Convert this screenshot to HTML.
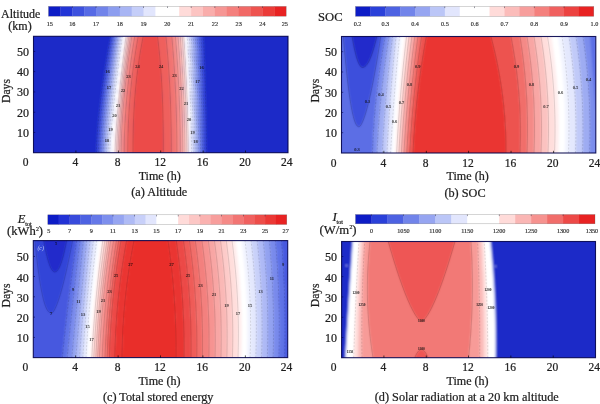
<!DOCTYPE html>
<html><head><meta charset="utf-8"><title>Contour plots</title>
<style>
html,body{margin:0;padding:0;background:#fff;}
body{width:600px;height:404px;overflow:hidden;}
svg{display:block;font-family:"Liberation Serif",serif;fill:#202020;}
.t text{stroke:#222;stroke-width:0.22px;}
</style></head><body>
<svg width="600" height="404" viewBox="0 0 600 404">
<defs>
<filter id="soft" x="-2%" y="-2%" width="104%" height="104%"><feGaussianBlur stdDeviation="0.95"/></filter>
<filter id="lsoft" x="-20%" y="-20%" width="140%" height="140%"><feGaussianBlur stdDeviation="0.3"/></filter>
<filter id="tsoft" x="-5%" y="-5%" width="110%" height="110%"><feGaussianBlur stdDeviation="0.28"/></filter>
<clipPath id="ca"><rect x="33.5" y="36.3" width="254.5" height="116.4"/></clipPath>
<clipPath id="cb"><rect x="341.5" y="36.5" width="254.3" height="116.5"/></clipPath>
<clipPath id="cc"><rect x="33.3" y="240.6" width="254.4" height="117"/></clipPath>
<clipPath id="cd"><rect x="341.6" y="241.5" width="253.9" height="116.2"/></clipPath>
</defs>
<rect width="600" height="404" fill="#fff"/>

<g clip-path="url(#ca)"><g filter="url(#soft)">
<rect x="31.50" y="34.30" width="258.50" height="120.40" fill="#1b2bc8"/>
<path d="M30.50 155.70L30.50 152.70L30.50 147.85L30.50 143.00L30.50 138.15L30.50 133.30L30.50 128.45L30.50 123.60L30.50 118.75L30.50 113.90L30.50 109.05L30.50 104.20L30.50 99.35L30.50 94.50L30.50 89.65L30.50 84.80L30.50 79.95L30.50 75.10L30.50 70.25L30.50 65.40L30.50 60.55L30.50 55.70L30.50 50.85L30.50 46.00L30.50 41.15L30.50 36.30L30.50 33.30L111.01 33.30L111.01 36.30L110.10 41.15L109.21 46.00L108.35 50.85L107.50 55.70L106.68 60.55L105.89 65.40L105.11 70.25L104.36 75.10L103.64 79.95L102.94 84.80L102.27 89.65L101.63 94.50L101.01 99.35L100.43 104.20L99.88 109.05L99.36 113.90L98.87 118.75L98.42 123.60L98.02 128.45L97.65 133.30L97.33 138.15L97.07 143.00L96.87 147.85L96.76 152.70L96.76 155.70Z" fill="#1b2bc8" />
<path d="M96.41 155.70L96.41 152.70L96.52 147.85L96.72 143.00L96.98 138.15L97.30 133.30L97.67 128.45L98.07 123.60L98.52 118.75L99.01 113.90L99.53 109.05L100.08 104.20L100.66 99.35L101.28 94.50L101.92 89.65L102.59 84.80L103.29 79.95L104.01 75.10L104.76 70.25L105.54 65.40L106.33 60.55L107.15 55.70L108.00 50.85L108.86 46.00L109.75 41.15L110.66 36.30L110.66 33.30L112.76 33.30L112.76 36.30L111.89 41.15L111.03 46.00L110.19 50.85L109.38 55.70L108.58 60.55L107.81 65.40L107.05 70.25L106.33 75.10L105.62 79.95L104.94 84.80L104.28 89.65L103.65 94.50L103.04 99.35L102.47 104.20L101.92 109.05L101.40 113.90L100.92 118.75L100.47 123.60L100.06 128.45L99.68 133.30L99.36 138.15L99.08 143.00L98.87 147.85L98.76 152.70L98.76 155.70Z" fill="#3546d9" />
<path d="M98.41 155.70L98.41 152.70L98.52 147.85L98.73 143.00L99.01 138.15L99.33 133.30L99.71 128.45L100.12 123.60L100.57 118.75L101.05 113.90L101.57 109.05L102.12 104.20L102.69 99.35L103.30 94.50L103.93 89.65L104.59 84.80L105.27 79.95L105.98 75.10L106.70 70.25L107.46 65.40L108.23 60.55L109.03 55.70L109.84 50.85L110.68 46.00L111.54 41.15L112.41 36.30L112.41 33.30L114.17 33.30L114.17 36.30L113.33 41.15L112.50 46.00L111.69 50.85L110.90 55.70L110.12 60.55L109.37 65.40L108.64 70.25L107.92 75.10L107.23 79.95L106.56 84.80L105.92 89.65L105.30 94.50L104.70 99.35L104.13 104.20L103.58 109.05L103.07 113.90L102.58 118.75L102.13 123.60L101.71 128.45L101.34 133.30L101.00 138.15L100.72 143.00L100.50 147.85L100.38 152.70L100.38 155.70Z" fill="#4c5fe1" />
<path d="M100.03 155.70L100.03 152.70L100.15 147.85L100.37 143.00L100.65 138.15L100.99 133.30L101.36 128.45L101.78 123.60L102.23 118.75L102.72 113.90L103.23 109.05L103.78 104.20L104.35 99.35L104.95 94.50L105.57 89.65L106.21 84.80L106.88 79.95L107.57 75.10L108.29 70.25L109.02 65.40L109.77 60.55L110.55 55.70L111.34 50.85L112.15 46.00L112.98 41.15L113.83 36.30L113.83 33.30L115.59 33.30L115.59 36.30L114.77 41.15L113.97 46.00L113.18 50.85L112.42 55.70L111.67 60.55L110.93 65.40L110.22 70.25L109.52 75.10L108.85 79.95L108.19 84.80L107.56 89.65L106.94 94.50L106.35 99.35L105.79 104.20L105.25 109.05L104.73 113.90L104.25 118.75L103.79 123.60L103.37 128.45L102.99 133.30L102.65 138.15L102.35 143.00L102.12 147.85L101.99 152.70L101.99 155.70Z" fill="#6476e7" />
<path d="M101.64 155.70L101.64 152.70L101.77 147.85L102.00 143.00L102.30 138.15L102.64 133.30L103.02 128.45L103.44 123.60L103.90 118.75L104.38 113.90L104.90 109.05L105.44 104.20L106.00 99.35L106.59 94.50L107.21 89.65L107.84 84.80L108.50 79.95L109.17 75.10L109.87 70.25L110.58 65.40L111.32 60.55L112.07 55.70L112.83 50.85L113.62 46.00L114.42 41.15L115.24 36.30L115.24 33.30L117.00 33.30L117.00 36.30L116.21 41.15L115.44 46.00L114.68 50.85L113.93 55.70L113.21 60.55L112.49 65.40L111.80 70.25L111.12 75.10L110.46 79.95L109.82 84.80L109.19 89.65L108.59 94.50L108.01 99.35L107.45 104.20L106.91 109.05L106.40 113.90L105.92 118.75L105.46 123.60L105.03 128.45L104.64 133.30L104.29 138.15L103.99 143.00L103.74 147.85L103.60 152.70L103.60 155.70Z" fill="#7c8dec" />
<path d="M103.25 155.70L103.25 152.70L103.39 147.85L103.64 143.00L103.94 138.15L104.29 133.30L104.68 128.45L105.11 123.60L105.57 118.75L106.05 113.90L106.56 109.05L107.10 104.20L107.66 99.35L108.24 94.50L108.84 89.65L109.47 84.80L110.11 79.95L110.77 75.10L111.45 70.25L112.14 65.40L112.86 60.55L113.58 55.70L114.33 50.85L115.09 46.00L115.86 41.15L116.65 36.30L116.65 33.30L118.41 33.30L118.41 36.30L117.65 41.15L116.90 46.00L116.17 50.85L115.45 55.70L114.74 60.55L114.05 65.40L113.38 70.25L112.71 75.10L112.07 79.95L111.44 84.80L110.83 89.65L110.24 94.50L109.66 99.35L109.11 104.20L108.58 109.05L108.07 113.90L107.58 118.75L107.12 123.60L106.70 128.45L106.30 133.30L105.94 138.15L105.63 143.00L105.37 147.85L105.21 152.70L105.21 155.70Z" fill="#96a4f1" />
<path d="M104.86 155.70L104.86 152.70L105.02 147.85L105.28 143.00L105.59 138.15L105.95 133.30L106.35 128.45L106.77 123.60L107.23 118.75L107.72 113.90L108.23 109.05L108.76 104.20L109.31 99.35L109.89 94.50L110.48 89.65L111.09 84.80L111.72 79.95L112.36 75.10L113.03 70.25L113.70 65.40L114.39 60.55L115.10 55.70L115.82 50.85L116.55 46.00L117.30 41.15L118.06 36.30L118.06 33.30L119.82 33.30L119.82 36.30L119.09 41.15L118.37 46.00L117.66 50.85L116.97 55.70L116.28 60.55L115.61 65.40L114.95 70.25L114.31 75.10L113.68 79.95L113.06 84.80L112.46 89.65L111.88 94.50L111.32 99.35L110.77 104.20L110.24 109.05L109.73 113.90L109.25 118.75L108.79 123.60L108.36 128.45L107.96 133.30L107.59 138.15L107.27 143.00L107.00 147.85L106.82 152.70L106.82 155.70Z" fill="#afbbf5" />
<path d="M106.47 155.70L106.47 152.70L106.65 147.85L106.92 143.00L107.24 138.15L107.61 133.30L108.01 128.45L108.44 123.60L108.90 118.75L109.38 113.90L109.89 109.05L110.42 104.20L110.97 99.35L111.53 94.50L112.11 89.65L112.71 84.80L113.33 79.95L113.96 75.10L114.60 70.25L115.26 65.40L115.93 60.55L116.62 55.70L117.31 50.85L118.02 46.00L118.74 41.15L119.47 36.30L119.47 33.30L121.24 33.30L121.24 36.30L120.53 41.15L119.84 46.00L119.15 50.85L118.48 55.70L117.82 60.55L117.16 65.40L116.53 70.25L115.90 75.10L115.28 79.95L114.68 84.80L114.10 89.65L113.52 94.50L112.97 99.35L112.43 104.20L111.91 109.05L111.40 113.90L110.92 118.75L110.46 123.60L110.02 128.45L109.62 133.30L109.24 138.15L108.91 143.00L108.62 147.85L108.44 152.70L108.44 155.70Z" fill="#cad2f9" />
<path d="M108.09 155.70L108.09 152.70L108.27 147.85L108.56 143.00L108.89 138.15L109.27 133.30L109.67 128.45L110.11 123.60L110.57 118.75L111.05 113.90L111.56 109.05L112.08 104.20L112.62 99.35L113.17 94.50L113.75 89.65L114.33 84.80L114.93 79.95L115.55 75.10L116.18 70.25L116.81 65.40L117.47 60.55L118.13 55.70L118.80 50.85L119.49 46.00L120.18 41.15L120.89 36.30L120.89 33.30L122.65 33.30L122.65 36.30L121.97 41.15L121.30 46.00L120.64 50.85L119.99 55.70L119.35 60.55L118.72 65.40L118.10 70.25L117.49 75.10L116.89 79.95L116.30 84.80L115.73 89.65L115.17 94.50L114.62 99.35L114.09 104.20L113.57 109.05L113.07 113.90L112.59 118.75L112.13 123.60L111.69 128.45L111.28 133.30L110.89 138.15L110.55 143.00L110.25 147.85L110.05 152.70L110.05 155.70Z" fill="#e4e8fd" />
<path d="M109.70 155.70L109.70 152.70L109.90 147.85L110.20 143.00L110.54 138.15L110.93 133.30L111.34 128.45L111.78 123.60L112.24 118.75L112.72 113.90L113.22 109.05L113.74 104.20L114.27 99.35L114.82 94.50L115.38 89.65L115.95 84.80L116.54 79.95L117.14 75.10L117.75 70.25L118.37 65.40L119.00 60.55L119.64 55.70L120.29 50.85L120.95 46.00L121.62 41.15L122.30 36.30L122.30 33.30L123.69 33.30L123.69 36.30L123.02 41.15L122.36 46.00L121.72 50.85L121.08 55.70L120.45 60.55L119.83 65.40L119.23 70.25L118.64 75.10L118.05 79.95L117.48 84.80L116.93 89.65L116.39 94.50L115.86 99.35L115.35 104.20L114.85 109.05L114.37 113.90L113.91 118.75L113.47 123.60L113.06 128.45L112.67 133.30L112.31 138.15L111.99 143.00L111.72 147.85L111.53 152.70L111.53 155.70Z" fill="#f2f4fe" />
<path d="M111.18 155.70L111.18 152.70L111.37 147.85L111.64 143.00L111.96 138.15L112.32 133.30L112.71 128.45L113.12 123.60L113.56 118.75L114.02 113.90L114.50 109.05L115.00 104.20L115.51 99.35L116.04 94.50L116.58 89.65L117.13 84.80L117.70 79.95L118.29 75.10L118.88 70.25L119.48 65.40L120.10 60.55L120.73 55.70L121.37 50.85L122.01 46.00L122.67 41.15L123.34 36.30L123.34 33.30L125.31 33.30L125.31 36.30L124.67 41.15L124.03 46.00L123.40 50.85L122.79 55.70L122.18 60.55L121.59 65.40L121.01 70.25L120.44 75.10L119.88 79.95L119.34 84.80L118.81 89.65L118.30 94.50L117.80 99.35L117.32 104.20L116.86 109.05L116.41 113.90L115.99 118.75L115.59 123.60L115.21 128.45L114.85 133.30L114.53 138.15L114.25 143.00L114.02 147.85L113.87 152.70L113.87 155.70Z" fill="#ffffff" />
<path d="M113.52 155.70L113.52 152.70L113.67 147.85L113.90 143.00L114.18 138.15L114.50 133.30L114.86 128.45L115.24 123.60L115.64 118.75L116.06 113.90L116.51 109.05L116.97 104.20L117.45 99.35L117.95 94.50L118.46 89.65L118.99 84.80L119.53 79.95L120.09 75.10L120.66 70.25L121.24 65.40L121.83 60.55L122.44 55.70L123.05 50.85L123.68 46.00L124.32 41.15L124.96 36.30L124.96 33.30L126.35 33.30L126.35 36.30L125.71 41.15L125.09 46.00L124.47 50.85L123.87 55.70L123.28 60.55L122.70 65.40L122.14 70.25L121.59 75.10L121.05 79.95L120.52 84.80L120.01 89.65L119.52 94.50L119.04 99.35L118.58 104.20L118.14 109.05L117.71 113.90L117.31 118.75L116.93 123.60L116.57 128.45L116.25 133.30L115.95 138.15L115.69 143.00L115.48 147.85L115.35 152.70L115.35 155.70Z" fill="#ffeeee" />
<path d="M115.00 155.70L115.00 152.70L115.13 147.85L115.34 143.00L115.60 138.15L115.90 133.30L116.22 128.45L116.58 123.60L116.96 118.75L117.36 113.90L117.79 109.05L118.23 104.20L118.69 99.35L119.17 94.50L119.66 89.65L120.17 84.80L120.70 79.95L121.24 75.10L121.79 70.25L122.35 65.40L122.93 60.55L123.52 55.70L124.12 50.85L124.74 46.00L125.36 41.15L126.00 36.30L126.00 33.30L127.81 33.30L127.81 36.30L127.15 41.15L126.49 46.00L125.86 50.85L125.23 55.70L124.62 60.55L124.03 65.40L123.45 70.25L122.89 75.10L122.34 79.95L121.81 84.80L121.30 89.65L120.81 94.50L120.33 99.35L119.88 104.20L119.45 109.05L119.04 113.90L118.65 118.75L118.29 123.60L117.96 128.45L117.66 133.30L117.39 138.15L117.16 143.00L116.98 147.85L116.88 152.70L116.88 155.70Z" fill="#ffdedc" />
<path d="M116.53 155.70L116.53 152.70L116.63 147.85L116.81 143.00L117.04 138.15L117.31 133.30L117.61 128.45L117.94 123.60L118.30 118.75L118.69 113.90L119.10 109.05L119.53 104.20L119.98 99.35L120.46 94.50L120.95 89.65L121.46 84.80L121.99 79.95L122.54 75.10L123.10 70.25L123.68 65.40L124.27 60.55L124.88 55.70L125.51 50.85L126.14 46.00L126.80 41.15L127.46 36.30L127.46 33.30L129.27 33.30L129.27 36.30L128.58 41.15L127.90 46.00L127.24 50.85L126.60 55.70L125.97 60.55L125.36 65.40L124.77 70.25L124.20 75.10L123.65 79.95L123.11 84.80L122.60 89.65L122.11 94.50L121.64 99.35L121.20 104.20L120.78 109.05L120.38 113.90L120.01 118.75L119.67 123.60L119.36 128.45L119.08 133.30L118.84 138.15L118.64 143.00L118.49 147.85L118.41 152.70L118.41 155.70Z" fill="#fcc9c7" />
<path d="M118.06 155.70L118.06 152.70L118.14 147.85L118.29 143.00L118.49 138.15L118.73 133.30L119.01 128.45L119.32 123.60L119.66 118.75L120.03 113.90L120.43 109.05L120.85 104.20L121.29 99.35L121.76 94.50L122.25 89.65L122.76 84.80L123.30 79.95L123.85 75.10L124.42 70.25L125.01 65.40L125.62 60.55L126.25 55.70L126.89 50.85L127.55 46.00L128.23 41.15L128.92 36.30L128.92 33.30L130.74 33.30L130.74 36.30L130.01 41.15L129.31 46.00L128.62 50.85L127.96 55.70L127.32 60.55L126.70 65.40L126.09 70.25L125.52 75.10L124.96 79.95L124.43 84.80L123.92 89.65L123.43 94.50L122.97 99.35L122.53 104.20L122.12 109.05L121.74 113.90L121.39 118.75L121.07 123.60L120.78 128.45L120.52 133.30L120.30 138.15L120.13 143.00L120.00 147.85L119.94 152.70L119.94 155.70Z" fill="#fab4b2" />
<path d="M119.59 155.70L119.59 152.70L119.65 147.85L119.78 143.00L119.95 138.15L120.17 133.30L120.43 128.45L120.72 123.60L121.04 118.75L121.39 113.90L121.77 109.05L122.18 104.20L122.62 99.35L123.08 94.50L123.57 89.65L124.08 84.80L124.61 79.95L125.17 75.10L125.74 70.25L126.35 65.40L126.97 60.55L127.61 55.70L128.27 50.85L128.96 46.00L129.66 41.15L130.39 36.30L130.39 33.30L132.20 33.30L132.20 36.30L131.45 41.15L130.72 46.00L130.01 50.85L129.33 55.70L128.67 60.55L128.04 65.40L127.43 70.25L126.84 75.10L126.28 79.95L125.75 84.80L125.24 89.65L124.76 94.50L124.30 99.35L123.88 104.20L123.48 109.05L123.12 113.90L122.78 118.75L122.48 123.60L122.21 128.45L121.97 133.30L121.78 138.15L121.62 143.00L121.52 147.85L121.47 152.70L121.47 155.70Z" fill="#f79f9d" />
<path d="M121.12 155.70L121.12 152.70L121.17 147.85L121.27 143.00L121.43 138.15L121.62 133.30L121.86 128.45L122.13 123.60L122.43 118.75L122.77 113.90L123.13 109.05L123.53 104.20L123.95 99.35L124.41 94.50L124.89 89.65L125.40 84.80L125.93 79.95L126.49 75.10L127.08 70.25L127.69 65.40L128.32 60.55L128.98 55.70L129.66 50.85L130.37 46.00L131.10 41.15L131.85 36.30L131.85 33.30L135.12 33.30L135.12 36.30L134.32 41.15L133.54 46.00L132.79 50.85L132.08 55.70L131.39 60.55L130.73 65.40L130.11 70.25L129.51 75.10L128.95 79.95L128.42 84.80L127.92 89.65L127.45 94.50L127.01 99.35L126.61 104.20L126.24 109.05L125.90 113.90L125.60 118.75L125.33 123.60L125.10 128.45L124.91 133.30L124.75 138.15L124.63 143.00L124.56 147.85L124.53 152.70L124.53 155.70Z" fill="#f48a87" />
<path d="M124.18 155.70L124.18 152.70L124.21 147.85L124.28 143.00L124.40 138.15L124.56 133.30L124.75 128.45L124.98 123.60L125.25 118.75L125.55 113.90L125.89 109.05L126.26 104.20L126.66 99.35L127.10 94.50L127.57 89.65L128.07 84.80L128.60 79.95L129.16 75.10L129.76 70.25L130.38 65.40L131.04 60.55L131.73 55.70L132.44 50.85L133.19 46.00L133.97 41.15L134.77 36.30L134.77 33.30L138.56 33.30L138.56 36.30L137.69 41.15L136.87 46.00L136.08 50.85L135.32 55.70L134.61 60.55L133.93 65.40L133.29 70.25L132.69 75.10L132.13 79.95L131.61 84.80L131.12 89.65L130.67 94.50L130.26 99.35L129.88 104.20L129.54 109.05L129.24 113.90L128.98 118.75L128.75 123.60L128.56 128.45L128.40 133.30L128.28 138.15L128.20 143.00L128.15 147.85L128.13 152.70L128.13 155.70Z" fill="#f27572" />
<path d="M127.78 155.70L127.78 152.70L127.80 147.85L127.85 143.00L127.93 138.15L128.05 133.30L128.21 128.45L128.40 123.60L128.63 118.75L128.89 113.90L129.19 109.05L129.53 104.20L129.91 99.35L130.32 94.50L130.77 89.65L131.26 84.80L131.78 79.95L132.34 75.10L132.94 70.25L133.58 65.40L134.26 60.55L134.97 55.70L135.73 50.85L136.52 46.00L137.34 41.15L138.21 36.30L138.21 33.30L143.55 33.30L143.55 36.30L142.60 41.15L141.70 46.00L140.85 50.85L140.06 55.70L139.31 60.55L138.61 65.40L137.96 70.25L137.36 75.10L136.81 79.95L136.30 84.80L135.84 89.65L135.42 94.50L135.05 99.35L134.71 104.20L134.42 109.05L134.17 113.90L133.95 118.75L133.77 123.60L133.63 128.45L133.52 133.30L133.44 138.15L133.38 143.00L133.36 147.85L133.35 152.70L133.35 155.70Z" fill="#ef605d" />
<path d="M133.00 155.70L133.00 152.70L133.01 147.85L133.03 143.00L133.09 138.15L133.17 133.30L133.28 128.45L133.42 123.60L133.60 118.75L133.82 113.90L134.07 109.05L134.36 104.20L134.70 99.35L135.07 94.50L135.49 89.65L135.95 84.80L136.46 79.95L137.01 75.10L137.61 70.25L138.26 65.40L138.96 60.55L139.71 55.70L140.50 50.85L141.35 46.00L142.25 41.15L143.20 36.30L143.20 33.30L157.85 33.30L157.85 36.30L158.44 41.15L158.98 46.00L159.50 50.85L159.97 55.70L160.42 60.55L160.82 65.40L161.20 70.25L161.55 75.10L161.86 79.95L162.14 84.80L162.40 89.65L162.62 94.50L162.83 99.35L163.00 104.20L163.15 109.05L163.28 113.90L163.38 118.75L163.47 123.60L163.54 128.45L163.58 133.30L163.62 138.15L163.64 143.00L163.65 147.85L163.65 152.70L163.65 155.70Z" fill="#ec4b48" />
<path d="M163.30 155.70L163.30 152.70L163.30 147.85L163.29 143.00L163.27 138.15L163.23 133.30L163.19 128.45L163.12 123.60L163.03 118.75L162.93 113.90L162.80 109.05L162.65 104.20L162.48 99.35L162.27 94.50L162.05 89.65L161.79 84.80L161.51 79.95L161.20 75.10L160.85 70.25L160.47 65.40L160.07 60.55L159.62 55.70L159.15 50.85L158.63 46.00L158.09 41.15L157.50 36.30L157.50 33.30L166.27 33.30L166.27 36.30L166.76 41.15L167.22 46.00L167.66 50.85L168.07 55.70L168.46 60.55L168.83 65.40L169.17 70.25L169.48 75.10L169.77 79.95L170.04 84.80L170.29 89.65L170.51 94.50L170.72 99.35L170.90 104.20L171.05 109.05L171.19 113.90L171.31 118.75L171.41 123.60L171.49 128.45L171.55 133.30L171.60 138.15L171.63 143.00L171.65 147.85L171.65 152.70L171.65 155.70Z" fill="#ef605d" />
<path d="M171.30 155.70L171.30 152.70L171.30 147.85L171.28 143.00L171.25 138.15L171.20 133.30L171.14 128.45L171.06 123.60L170.96 118.75L170.84 113.90L170.70 109.05L170.55 104.20L170.37 99.35L170.16 94.50L169.94 89.65L169.69 84.80L169.42 79.95L169.13 75.10L168.82 70.25L168.48 65.40L168.11 60.55L167.72 55.70L167.31 50.85L166.87 46.00L166.41 41.15L165.92 36.30L165.92 33.30L172.16 33.30L172.16 36.30L172.59 41.15L172.99 46.00L173.38 50.85L173.75 55.70L174.11 60.55L174.44 65.40L174.75 70.25L175.05 75.10L175.32 79.95L175.58 84.80L175.81 89.65L176.03 94.50L176.23 99.35L176.41 104.20L176.58 109.05L176.72 113.90L176.85 118.75L176.96 123.60L177.05 128.45L177.12 133.30L177.18 138.15L177.22 143.00L177.24 147.85L177.25 152.70L177.25 155.70Z" fill="#f27572" />
<path d="M176.90 155.70L176.90 152.70L176.89 147.85L176.87 143.00L176.83 138.15L176.77 133.30L176.70 128.45L176.61 123.60L176.50 118.75L176.37 113.90L176.23 109.05L176.06 104.20L175.88 99.35L175.68 94.50L175.46 89.65L175.23 84.80L174.97 79.95L174.70 75.10L174.40 70.25L174.09 65.40L173.76 60.55L173.40 55.70L173.03 50.85L172.64 46.00L172.24 41.15L171.81 36.30L171.81 33.30L175.73 33.30L175.73 36.30L176.13 41.15L176.50 46.00L176.86 50.85L177.21 55.70L177.54 60.55L177.85 65.40L178.15 70.25L178.43 75.10L178.69 79.95L178.94 84.80L179.17 89.65L179.38 94.50L179.58 99.35L179.76 104.20L179.93 109.05L180.08 113.90L180.21 118.75L180.32 123.60L180.42 128.45L180.50 133.30L180.57 138.15L180.61 143.00L180.64 147.85L180.65 152.70L180.65 155.70Z" fill="#f48a87" />
<path d="M180.30 155.70L180.30 152.70L180.29 147.85L180.26 143.00L180.22 138.15L180.15 133.30L180.07 128.45L179.97 123.60L179.86 118.75L179.73 113.90L179.58 109.05L179.41 104.20L179.23 99.35L179.03 94.50L178.82 89.65L178.59 84.80L178.34 79.95L178.08 75.10L177.80 70.25L177.50 65.40L177.19 60.55L176.86 55.70L176.51 50.85L176.15 46.00L175.78 41.15L175.38 36.30L175.38 33.30L178.36 33.30L178.36 36.30L178.73 41.15L179.08 46.00L179.42 50.85L179.75 55.70L180.06 60.55L180.36 65.40L180.64 70.25L180.91 75.10L181.17 79.95L181.41 84.80L181.63 89.65L181.85 94.50L182.04 99.35L182.22 104.20L182.39 109.05L182.54 113.90L182.68 118.75L182.79 123.60L182.90 128.45L182.98 133.30L183.05 138.15L183.10 143.00L183.14 147.85L183.15 152.70L183.15 155.70Z" fill="#f79f9d" />
<path d="M182.80 155.70L182.80 152.70L182.79 147.85L182.75 143.00L182.70 138.15L182.63 133.30L182.55 128.45L182.44 123.60L182.33 118.75L182.19 113.90L182.04 109.05L181.87 104.20L181.69 99.35L181.50 94.50L181.28 89.65L181.06 84.80L180.82 79.95L180.56 75.10L180.29 70.25L180.01 65.40L179.71 60.55L179.40 55.70L179.07 50.85L178.73 46.00L178.38 41.15L178.01 36.30L178.01 33.30L180.60 33.30L180.60 36.30L180.95 41.15L181.28 46.00L181.60 50.85L181.91 55.70L182.21 60.55L182.50 65.40L182.77 70.25L183.03 75.10L183.28 79.95L183.51 84.80L183.73 89.65L183.94 94.50L184.13 99.35L184.31 104.20L184.48 109.05L184.63 113.90L184.77 118.75L184.89 123.60L185.00 128.45L185.09 133.30L185.17 138.15L185.22 143.00L185.26 147.85L185.28 152.70L185.28 155.70Z" fill="#fab4b2" />
<path d="M184.93 155.70L184.93 152.70L184.91 147.85L184.87 143.00L184.82 138.15L184.74 133.30L184.65 128.45L184.54 123.60L184.42 118.75L184.28 113.90L184.13 109.05L183.96 104.20L183.78 99.35L183.59 94.50L183.38 89.65L183.16 84.80L182.93 79.95L182.68 75.10L182.42 70.25L182.15 65.40L181.86 60.55L181.56 55.70L181.25 50.85L180.93 46.00L180.60 41.15L180.25 36.30L180.25 33.30L182.57 33.30L182.57 36.30L182.90 41.15L183.22 46.00L183.53 50.85L183.82 55.70L184.11 60.55L184.38 65.40L184.64 70.25L184.90 75.10L185.14 79.95L185.37 84.80L185.58 89.65L185.79 94.50L185.98 99.35L186.16 104.20L186.33 109.05L186.48 113.90L186.62 118.75L186.74 123.60L186.85 128.45L186.95 133.30L187.03 138.15L187.09 143.00L187.13 147.85L187.15 152.70L187.15 155.70Z" fill="#fcc9c7" />
<path d="M186.80 155.70L186.80 152.70L186.78 147.85L186.74 143.00L186.68 138.15L186.60 133.30L186.50 128.45L186.39 123.60L186.27 118.75L186.13 113.90L185.98 109.05L185.81 104.20L185.63 99.35L185.44 94.50L185.23 89.65L185.02 84.80L184.79 79.95L184.55 75.10L184.29 70.25L184.03 65.40L183.76 60.55L183.47 55.70L183.18 50.85L182.87 46.00L182.55 41.15L182.22 36.30L182.22 33.30L184.15 33.30L184.15 36.30L184.46 41.15L184.77 46.00L185.06 50.85L185.35 55.70L185.62 60.55L185.89 65.40L186.15 70.25L186.39 75.10L186.63 79.95L186.85 84.80L187.06 89.65L187.26 94.50L187.46 99.35L187.63 104.20L187.80 109.05L187.95 113.90L188.10 118.75L188.22 123.60L188.34 128.45L188.44 133.30L188.52 138.15L188.58 143.00L188.63 147.85L188.65 152.70L188.65 155.70Z" fill="#ffdedc" />
<path d="M188.30 155.70L188.30 152.70L188.28 147.85L188.23 143.00L188.17 138.15L188.09 133.30L187.99 128.45L187.87 123.60L187.75 118.75L187.60 113.90L187.45 109.05L187.28 104.20L187.11 99.35L186.91 94.50L186.71 89.65L186.50 84.80L186.28 79.95L186.04 75.10L185.80 70.25L185.54 65.40L185.27 60.55L185.00 55.70L184.71 50.85L184.42 46.00L184.11 41.15L183.80 36.30L183.80 33.30L185.16 33.30L185.16 36.30L185.46 41.15L185.76 46.00L186.05 50.85L186.33 55.70L186.60 60.55L186.86 65.40L187.10 70.25L187.34 75.10L187.57 79.95L187.79 84.80L188.00 89.65L188.20 94.50L188.38 99.35L188.56 104.20L188.72 109.05L188.87 113.90L189.01 118.75L189.13 123.60L189.24 128.45L189.34 133.30L189.42 138.15L189.48 143.00L189.53 147.85L189.55 152.70L189.55 155.70Z" fill="#ffeeee" />
<path d="M189.20 155.70L189.20 152.70L189.18 147.85L189.13 143.00L189.07 138.15L188.99 133.30L188.89 128.45L188.78 123.60L188.66 118.75L188.52 113.90L188.37 109.05L188.21 104.20L188.03 99.35L187.85 94.50L187.65 89.65L187.44 84.80L187.22 79.95L186.99 75.10L186.75 70.25L186.51 65.40L186.25 60.55L185.98 55.70L185.70 50.85L185.41 46.00L185.11 41.15L184.81 36.30L184.81 33.30L186.74 33.30L186.74 36.30L187.04 41.15L187.32 46.00L187.60 50.85L187.86 55.70L188.12 60.55L188.37 65.40L188.61 70.25L188.84 75.10L189.06 79.95L189.27 84.80L189.47 89.65L189.66 94.50L189.84 99.35L190.00 104.20L190.16 109.05L190.30 113.90L190.44 118.75L190.55 123.60L190.66 128.45L190.75 133.30L190.83 138.15L190.89 143.00L190.94 147.85L190.95 152.70L190.95 155.70Z" fill="#ffffff" />
<path d="M190.60 155.70L190.60 152.70L190.59 147.85L190.54 143.00L190.48 138.15L190.40 133.30L190.31 128.45L190.20 123.60L190.09 118.75L189.95 113.90L189.81 109.05L189.65 104.20L189.49 99.35L189.31 94.50L189.12 89.65L188.92 84.80L188.71 79.95L188.49 75.10L188.26 70.25L188.02 65.40L187.77 60.55L187.51 55.70L187.25 50.85L186.97 46.00L186.69 41.15L186.39 36.30L186.39 33.30L187.75 33.30L187.75 36.30L188.04 41.15L188.31 46.00L188.58 50.85L188.84 55.70L189.09 60.55L189.34 65.40L189.57 70.25L189.79 75.10L190.01 79.95L190.21 84.80L190.40 89.65L190.59 94.50L190.76 99.35L190.92 104.20L191.08 109.05L191.22 113.90L191.35 118.75L191.46 123.60L191.57 128.45L191.66 133.30L191.73 138.15L191.79 143.00L191.83 147.85L191.85 152.70L191.85 155.70Z" fill="#f2f4fe" />
<path d="M191.50 155.70L191.50 152.70L191.48 147.85L191.44 143.00L191.38 138.15L191.31 133.30L191.22 128.45L191.11 123.60L191.00 118.75L190.87 113.90L190.73 109.05L190.57 104.20L190.41 99.35L190.24 94.50L190.05 89.65L189.86 84.80L189.66 79.95L189.44 75.10L189.22 70.25L188.99 65.40L188.74 60.55L188.49 55.70L188.23 50.85L187.96 46.00L187.69 41.15L187.40 36.30L187.40 33.30L189.70 33.30L189.70 36.30L189.97 41.15L190.24 46.00L190.50 50.85L190.75 55.70L190.99 60.55L191.22 65.40L191.45 70.25L191.66 75.10L191.87 79.95L192.07 84.80L192.25 89.65L192.43 94.50L192.60 99.35L192.76 104.20L192.91 109.05L193.04 113.90L193.17 118.75L193.28 123.60L193.38 128.45L193.47 133.30L193.54 138.15L193.60 143.00L193.64 147.85L193.66 152.70L193.66 155.70Z" fill="#e4e8fd" />
<path d="M193.31 155.70L193.31 152.70L193.29 147.85L193.25 143.00L193.19 138.15L193.12 133.30L193.03 128.45L192.93 123.60L192.82 118.75L192.69 113.90L192.56 109.05L192.41 104.20L192.25 99.35L192.08 94.50L191.90 89.65L191.72 84.80L191.52 79.95L191.31 75.10L191.10 70.25L190.87 65.40L190.64 60.55L190.40 55.70L190.15 50.85L189.89 46.00L189.62 41.15L189.35 36.30L189.35 33.30L191.65 33.30L191.65 36.30L191.91 41.15L192.17 46.00L192.42 50.85L192.66 55.70L192.89 60.55L193.11 65.40L193.33 70.25L193.54 75.10L193.73 79.95L193.92 84.80L194.11 89.65L194.28 94.50L194.44 99.35L194.59 104.20L194.74 109.05L194.87 113.90L194.99 118.75L195.10 123.60L195.20 128.45L195.28 133.30L195.36 138.15L195.42 143.00L195.46 147.85L195.47 152.70L195.47 155.70Z" fill="#cad2f9" />
<path d="M195.12 155.70L195.12 152.70L195.11 147.85L195.07 143.00L195.01 138.15L194.93 133.30L194.85 128.45L194.75 123.60L194.64 118.75L194.52 113.90L194.39 109.05L194.24 104.20L194.09 99.35L193.93 94.50L193.76 89.65L193.57 84.80L193.38 79.95L193.19 75.10L192.98 70.25L192.76 65.40L192.54 60.55L192.31 55.70L192.07 50.85L191.82 46.00L191.56 41.15L191.30 36.30L191.30 33.30L193.60 33.30L193.60 36.30L193.85 41.15L194.10 46.00L194.33 50.85L194.56 55.70L194.79 60.55L195.00 65.40L195.21 70.25L195.41 75.10L195.60 79.95L195.78 84.80L195.96 89.65L196.12 94.50L196.28 99.35L196.43 104.20L196.57 109.05L196.69 113.90L196.81 118.75L196.92 123.60L197.02 128.45L197.10 133.30L197.17 138.15L197.23 143.00L197.27 147.85L197.29 152.70L197.29 155.70Z" fill="#afbbf5" />
<path d="M196.94 155.70L196.94 152.70L196.92 147.85L196.88 143.00L196.82 138.15L196.75 133.30L196.67 128.45L196.57 123.60L196.46 118.75L196.34 113.90L196.22 109.05L196.08 104.20L195.93 99.35L195.77 94.50L195.61 89.65L195.43 84.80L195.25 79.95L195.06 75.10L194.86 70.25L194.65 65.40L194.44 60.55L194.21 55.70L193.98 50.85L193.75 46.00L193.50 41.15L193.25 36.30L193.25 33.30L195.55 33.30L195.55 36.30L195.79 41.15L196.02 46.00L196.25 50.85L196.47 55.70L196.69 60.55L196.89 65.40L197.09 70.25L197.28 75.10L197.47 79.95L197.64 84.80L197.81 89.65L197.97 94.50L198.12 99.35L198.26 104.20L198.40 109.05L198.52 113.90L198.64 118.75L198.74 123.60L198.83 128.45L198.92 133.30L198.99 138.15L199.04 143.00L199.08 147.85L199.10 152.70L199.10 155.70Z" fill="#96a4f1" />
<path d="M198.75 155.70L198.75 152.70L198.73 147.85L198.69 143.00L198.64 138.15L198.57 133.30L198.48 128.45L198.39 123.60L198.29 118.75L198.17 113.90L198.05 109.05L197.91 104.20L197.77 99.35L197.62 94.50L197.46 89.65L197.29 84.80L197.12 79.95L196.93 75.10L196.74 70.25L196.54 65.40L196.34 60.55L196.12 55.70L195.90 50.85L195.67 46.00L195.44 41.15L195.20 36.30L195.20 33.30L197.50 33.30L197.50 36.30L197.73 41.15L197.95 46.00L198.17 50.85L198.38 55.70L198.58 60.55L198.78 65.40L198.97 70.25L199.16 75.10L199.33 79.95L199.50 84.80L199.66 89.65L199.82 94.50L199.96 99.35L200.10 104.20L200.23 109.05L200.35 113.90L200.46 118.75L200.56 123.60L200.65 128.45L200.73 133.30L200.80 138.15L200.85 143.00L200.89 147.85L200.91 152.70L200.91 155.70Z" fill="#7c8dec" />
<path d="M200.56 155.70L200.56 152.70L200.54 147.85L200.50 143.00L200.45 138.15L200.38 133.30L200.30 128.45L200.21 123.60L200.11 118.75L200.00 113.90L199.88 109.05L199.75 104.20L199.61 99.35L199.47 94.50L199.31 89.65L199.15 84.80L198.98 79.95L198.81 75.10L198.62 70.25L198.43 65.40L198.23 60.55L198.03 55.70L197.82 50.85L197.60 46.00L197.38 41.15L197.15 36.30L197.15 33.30L199.45 33.30L199.45 36.30L199.67 41.15L199.88 46.00L200.09 50.85L200.29 55.70L200.48 60.55L200.67 65.40L200.85 70.25L201.03 75.10L201.20 79.95L201.36 84.80L201.52 89.65L201.66 94.50L201.80 99.35L201.94 104.20L202.06 109.05L202.18 113.90L202.28 118.75L202.38 123.60L202.47 128.45L202.55 133.30L202.61 138.15L202.67 143.00L202.71 147.85L202.72 152.70L202.72 155.70Z" fill="#6476e7" />
<path d="M202.38 155.70L202.38 152.70L202.36 147.85L202.32 143.00L202.26 138.15L202.20 133.30L202.12 128.45L202.03 123.60L201.93 118.75L201.83 113.90L201.71 109.05L201.59 104.20L201.45 99.35L201.31 94.50L201.17 89.65L201.01 84.80L200.85 79.95L200.68 75.10L200.50 70.25L200.32 65.40L200.13 60.55L199.94 55.70L199.74 50.85L199.53 46.00L199.32 41.15L199.10 36.30L199.10 33.30L201.40 33.30L201.40 36.30L201.61 41.15L201.81 46.00L202.01 50.85L202.20 55.70L202.38 60.55L202.56 65.40L202.74 70.25L202.91 75.10L203.07 79.95L203.22 84.80L203.37 89.65L203.51 94.50L203.65 99.35L203.77 104.20L203.89 109.05L204.00 113.90L204.11 118.75L204.20 123.60L204.29 128.45L204.36 133.30L204.43 138.15L204.48 143.00L204.52 147.85L204.54 152.70L204.54 155.70Z" fill="#4c5fe1" />
<path d="M204.19 155.70L204.19 152.70L204.17 147.85L204.13 143.00L204.08 138.15L204.01 133.30L203.94 128.45L203.85 123.60L203.76 118.75L203.65 113.90L203.54 109.05L203.42 104.20L203.30 99.35L203.16 94.50L203.02 89.65L202.87 84.80L202.72 79.95L202.56 75.10L202.39 70.25L202.21 65.40L202.03 60.55L201.85 55.70L201.66 50.85L201.46 46.00L201.26 41.15L201.05 36.30L201.05 33.30L203.82 33.30L203.82 36.30L204.01 41.15L204.20 46.00L204.39 50.85L204.57 55.70L204.74 60.55L204.91 65.40L205.08 70.25L205.23 75.10L205.39 79.95L205.53 84.80L205.67 89.65L205.81 94.50L205.93 99.35L206.05 104.20L206.17 109.05L206.27 113.90L206.37 118.75L206.46 123.60L206.54 128.45L206.62 133.30L206.68 138.15L206.73 143.00L206.77 147.85L206.78 152.70L206.78 155.70Z" fill="#3546d9" />
<path d="M206.44 155.70L206.44 152.70L206.42 147.85L206.38 143.00L206.33 138.15L206.27 133.30L206.19 128.45L206.11 123.60L206.02 118.75L205.92 113.90L205.82 109.05L205.70 104.20L205.58 99.35L205.46 94.50L205.32 89.65L205.18 84.80L205.04 79.95L204.88 75.10L204.73 70.25L204.56 65.40L204.39 60.55L204.22 55.70L204.04 50.85L203.85 46.00L203.66 41.15L203.47 36.30L203.47 33.30L291.00 33.30L291.00 36.30L291.00 41.15L291.00 46.00L291.00 50.85L291.00 55.70L291.00 60.55L291.00 65.40L291.00 70.25L291.00 75.10L291.00 79.95L291.00 84.80L291.00 89.65L291.00 94.50L291.00 99.35L291.00 104.20L291.00 109.05L291.00 113.90L291.00 118.75L291.00 123.60L291.00 128.45L291.00 133.30L291.00 138.15L291.00 143.00L291.00 147.85L291.00 152.70L291.00 155.70Z" fill="#1b2bc8" />
</g></g>
<g clip-path="url(#ca)" filter="url(#lsoft)">
<path d="M96.41 152.70L96.52 147.85L96.72 143.00L96.98 138.15L97.30 133.30L97.67 128.45L98.07 123.60L98.52 118.75L99.01 113.90L99.53 109.05L100.08 104.20L100.66 99.35L101.28 94.50L101.92 89.65L102.59 84.80L103.29 79.95L104.01 75.10L104.76 70.25L105.54 65.40L106.33 60.55L107.15 55.70L108.00 50.85L108.86 46.00L109.75 41.15L110.66 36.30" fill="none" stroke="#200" stroke-width="0.4" stroke-opacity="0.3" stroke-dasharray="2 1.5"/>
<path d="M98.41 152.70L98.52 147.85L98.73 143.00L99.01 138.15L99.33 133.30L99.71 128.45L100.12 123.60L100.57 118.75L101.05 113.90L101.57 109.05L102.12 104.20L102.69 99.35L103.30 94.50L103.93 89.65L104.59 84.80L105.27 79.95L105.98 75.10L106.70 70.25L107.46 65.40L108.23 60.55L109.03 55.70L109.84 50.85L110.68 46.00L111.54 41.15L112.41 36.30" fill="none" stroke="#200" stroke-width="0.4" stroke-opacity="0.3" stroke-dasharray="2 1.5"/>
<path d="M100.03 152.70L100.15 147.85L100.37 143.00L100.65 138.15L100.99 133.30L101.36 128.45L101.78 123.60L102.23 118.75L102.72 113.90L103.23 109.05L103.78 104.20L104.35 99.35L104.95 94.50L105.57 89.65L106.21 84.80L106.88 79.95L107.57 75.10L108.29 70.25L109.02 65.40L109.77 60.55L110.55 55.70L111.34 50.85L112.15 46.00L112.98 41.15L113.83 36.30" fill="none" stroke="#200" stroke-width="0.4" stroke-opacity="0.3" stroke-dasharray="2 1.5"/>
<path d="M101.64 152.70L101.77 147.85L102.00 143.00L102.30 138.15L102.64 133.30L103.02 128.45L103.44 123.60L103.90 118.75L104.38 113.90L104.90 109.05L105.44 104.20L106.00 99.35L106.59 94.50L107.21 89.65L107.84 84.80L108.50 79.95L109.17 75.10L109.87 70.25L110.58 65.40L111.32 60.55L112.07 55.70L112.83 50.85L113.62 46.00L114.42 41.15L115.24 36.30" fill="none" stroke="#200" stroke-width="0.4" stroke-opacity="0.3" stroke-dasharray="2 1.5"/>
<path d="M103.25 152.70L103.39 147.85L103.64 143.00L103.94 138.15L104.29 133.30L104.68 128.45L105.11 123.60L105.57 118.75L106.05 113.90L106.56 109.05L107.10 104.20L107.66 99.35L108.24 94.50L108.84 89.65L109.47 84.80L110.11 79.95L110.77 75.10L111.45 70.25L112.14 65.40L112.86 60.55L113.58 55.70L114.33 50.85L115.09 46.00L115.86 41.15L116.65 36.30" fill="none" stroke="#200" stroke-width="0.4" stroke-opacity="0.3" stroke-dasharray="2 1.5"/>
<path d="M104.86 152.70L105.02 147.85L105.28 143.00L105.59 138.15L105.95 133.30L106.35 128.45L106.77 123.60L107.23 118.75L107.72 113.90L108.23 109.05L108.76 104.20L109.31 99.35L109.89 94.50L110.48 89.65L111.09 84.80L111.72 79.95L112.36 75.10L113.03 70.25L113.70 65.40L114.39 60.55L115.10 55.70L115.82 50.85L116.55 46.00L117.30 41.15L118.06 36.30" fill="none" stroke="#200" stroke-width="0.4" stroke-opacity="0.3" stroke-dasharray="2 1.5"/>
<path d="M106.47 152.70L106.65 147.85L106.92 143.00L107.24 138.15L107.61 133.30L108.01 128.45L108.44 123.60L108.90 118.75L109.38 113.90L109.89 109.05L110.42 104.20L110.97 99.35L111.53 94.50L112.11 89.65L112.71 84.80L113.33 79.95L113.96 75.10L114.60 70.25L115.26 65.40L115.93 60.55L116.62 55.70L117.31 50.85L118.02 46.00L118.74 41.15L119.47 36.30" fill="none" stroke="#200" stroke-width="0.4" stroke-opacity="0.3" stroke-dasharray="2 1.5"/>
<path d="M108.09 152.70L108.27 147.85L108.56 143.00L108.89 138.15L109.27 133.30L109.67 128.45L110.11 123.60L110.57 118.75L111.05 113.90L111.56 109.05L112.08 104.20L112.62 99.35L113.17 94.50L113.75 89.65L114.33 84.80L114.93 79.95L115.55 75.10L116.18 70.25L116.81 65.40L117.47 60.55L118.13 55.70L118.80 50.85L119.49 46.00L120.18 41.15L120.89 36.30" fill="none" stroke="#200" stroke-width="0.4" stroke-opacity="0.3" stroke-dasharray="2 1.5"/>
<path d="M109.70 152.70L109.90 147.85L110.20 143.00L110.54 138.15L110.93 133.30L111.34 128.45L111.78 123.60L112.24 118.75L112.72 113.90L113.22 109.05L113.74 104.20L114.27 99.35L114.82 94.50L115.38 89.65L115.95 84.80L116.54 79.95L117.14 75.10L117.75 70.25L118.37 65.40L119.00 60.55L119.64 55.70L120.29 50.85L120.95 46.00L121.62 41.15L122.30 36.30" fill="none" stroke="#200" stroke-width="0.4" stroke-opacity="0.3" stroke-dasharray="2 1.5"/>
<path d="M115.00 152.70L115.13 147.85L115.34 143.00L115.60 138.15L115.90 133.30L116.22 128.45L116.58 123.60L116.96 118.75L117.36 113.90L117.79 109.05L118.23 104.20L118.69 99.35L119.17 94.50L119.66 89.65L120.17 84.80L120.70 79.95L121.24 75.10L121.79 70.25L122.35 65.40L122.93 60.55L123.52 55.70L124.12 50.85L124.74 46.00L125.36 41.15L126.00 36.30" fill="none" stroke="#200" stroke-width="0.4" stroke-opacity="0.3"/>
<path d="M116.53 152.70L116.63 147.85L116.81 143.00L117.04 138.15L117.31 133.30L117.61 128.45L117.94 123.60L118.30 118.75L118.69 113.90L119.10 109.05L119.53 104.20L119.98 99.35L120.46 94.50L120.95 89.65L121.46 84.80L121.99 79.95L122.54 75.10L123.10 70.25L123.68 65.40L124.27 60.55L124.88 55.70L125.51 50.85L126.14 46.00L126.80 41.15L127.46 36.30" fill="none" stroke="#200" stroke-width="0.4" stroke-opacity="0.3"/>
<path d="M118.06 152.70L118.14 147.85L118.29 143.00L118.49 138.15L118.73 133.30L119.01 128.45L119.32 123.60L119.66 118.75L120.03 113.90L120.43 109.05L120.85 104.20L121.29 99.35L121.76 94.50L122.25 89.65L122.76 84.80L123.30 79.95L123.85 75.10L124.42 70.25L125.01 65.40L125.62 60.55L126.25 55.70L126.89 50.85L127.55 46.00L128.23 41.15L128.92 36.30" fill="none" stroke="#200" stroke-width="0.4" stroke-opacity="0.3"/>
<path d="M119.59 152.70L119.65 147.85L119.78 143.00L119.95 138.15L120.17 133.30L120.43 128.45L120.72 123.60L121.04 118.75L121.39 113.90L121.77 109.05L122.18 104.20L122.62 99.35L123.08 94.50L123.57 89.65L124.08 84.80L124.61 79.95L125.17 75.10L125.74 70.25L126.35 65.40L126.97 60.55L127.61 55.70L128.27 50.85L128.96 46.00L129.66 41.15L130.39 36.30" fill="none" stroke="#200" stroke-width="0.4" stroke-opacity="0.3"/>
<path d="M121.12 152.70L121.17 147.85L121.27 143.00L121.43 138.15L121.62 133.30L121.86 128.45L122.13 123.60L122.43 118.75L122.77 113.90L123.13 109.05L123.53 104.20L123.95 99.35L124.41 94.50L124.89 89.65L125.40 84.80L125.93 79.95L126.49 75.10L127.08 70.25L127.69 65.40L128.32 60.55L128.98 55.70L129.66 50.85L130.37 46.00L131.10 41.15L131.85 36.30" fill="none" stroke="#200" stroke-width="0.4" stroke-opacity="0.3"/>
<path d="M124.18 152.70L124.21 147.85L124.28 143.00L124.40 138.15L124.56 133.30L124.75 128.45L124.98 123.60L125.25 118.75L125.55 113.90L125.89 109.05L126.26 104.20L126.66 99.35L127.10 94.50L127.57 89.65L128.07 84.80L128.60 79.95L129.16 75.10L129.76 70.25L130.38 65.40L131.04 60.55L131.73 55.70L132.44 50.85L133.19 46.00L133.97 41.15L134.77 36.30" fill="none" stroke="#200" stroke-width="0.4" stroke-opacity="0.3"/>
<path d="M127.78 152.70L127.80 147.85L127.85 143.00L127.93 138.15L128.05 133.30L128.21 128.45L128.40 123.60L128.63 118.75L128.89 113.90L129.19 109.05L129.53 104.20L129.91 99.35L130.32 94.50L130.77 89.65L131.26 84.80L131.78 79.95L132.34 75.10L132.94 70.25L133.58 65.40L134.26 60.55L134.97 55.70L135.73 50.85L136.52 46.00L137.34 41.15L138.21 36.30" fill="none" stroke="#200" stroke-width="0.4" stroke-opacity="0.3"/>
<path d="M133.00 152.70L133.01 147.85L133.03 143.00L133.09 138.15L133.17 133.30L133.28 128.45L133.42 123.60L133.60 118.75L133.82 113.90L134.07 109.05L134.36 104.20L134.70 99.35L135.07 94.50L135.49 89.65L135.95 84.80L136.46 79.95L137.01 75.10L137.61 70.25L138.26 65.40L138.96 60.55L139.71 55.70L140.50 50.85L141.35 46.00L142.25 41.15L143.20 36.30" fill="none" stroke="#200" stroke-width="0.4" stroke-opacity="0.3"/>
<path d="M163.30 152.70L163.30 147.85L163.29 143.00L163.27 138.15L163.23 133.30L163.19 128.45L163.12 123.60L163.03 118.75L162.93 113.90L162.80 109.05L162.65 104.20L162.48 99.35L162.27 94.50L162.05 89.65L161.79 84.80L161.51 79.95L161.20 75.10L160.85 70.25L160.47 65.40L160.07 60.55L159.62 55.70L159.15 50.85L158.63 46.00L158.09 41.15L157.50 36.30" fill="none" stroke="#200" stroke-width="0.4" stroke-opacity="0.3"/>
<path d="M171.30 152.70L171.30 147.85L171.28 143.00L171.25 138.15L171.20 133.30L171.14 128.45L171.06 123.60L170.96 118.75L170.84 113.90L170.70 109.05L170.55 104.20L170.37 99.35L170.16 94.50L169.94 89.65L169.69 84.80L169.42 79.95L169.13 75.10L168.82 70.25L168.48 65.40L168.11 60.55L167.72 55.70L167.31 50.85L166.87 46.00L166.41 41.15L165.92 36.30" fill="none" stroke="#200" stroke-width="0.4" stroke-opacity="0.3"/>
<path d="M176.90 152.70L176.89 147.85L176.87 143.00L176.83 138.15L176.77 133.30L176.70 128.45L176.61 123.60L176.50 118.75L176.37 113.90L176.23 109.05L176.06 104.20L175.88 99.35L175.68 94.50L175.46 89.65L175.23 84.80L174.97 79.95L174.70 75.10L174.40 70.25L174.09 65.40L173.76 60.55L173.40 55.70L173.03 50.85L172.64 46.00L172.24 41.15L171.81 36.30" fill="none" stroke="#200" stroke-width="0.4" stroke-opacity="0.3"/>
<path d="M180.30 152.70L180.29 147.85L180.26 143.00L180.22 138.15L180.15 133.30L180.07 128.45L179.97 123.60L179.86 118.75L179.73 113.90L179.58 109.05L179.41 104.20L179.23 99.35L179.03 94.50L178.82 89.65L178.59 84.80L178.34 79.95L178.08 75.10L177.80 70.25L177.50 65.40L177.19 60.55L176.86 55.70L176.51 50.85L176.15 46.00L175.78 41.15L175.38 36.30" fill="none" stroke="#200" stroke-width="0.4" stroke-opacity="0.3"/>
<path d="M182.80 152.70L182.79 147.85L182.75 143.00L182.70 138.15L182.63 133.30L182.55 128.45L182.44 123.60L182.33 118.75L182.19 113.90L182.04 109.05L181.87 104.20L181.69 99.35L181.50 94.50L181.28 89.65L181.06 84.80L180.82 79.95L180.56 75.10L180.29 70.25L180.01 65.40L179.71 60.55L179.40 55.70L179.07 50.85L178.73 46.00L178.38 41.15L178.01 36.30" fill="none" stroke="#200" stroke-width="0.4" stroke-opacity="0.3"/>
<path d="M184.93 152.70L184.91 147.85L184.87 143.00L184.82 138.15L184.74 133.30L184.65 128.45L184.54 123.60L184.42 118.75L184.28 113.90L184.13 109.05L183.96 104.20L183.78 99.35L183.59 94.50L183.38 89.65L183.16 84.80L182.93 79.95L182.68 75.10L182.42 70.25L182.15 65.40L181.86 60.55L181.56 55.70L181.25 50.85L180.93 46.00L180.60 41.15L180.25 36.30" fill="none" stroke="#200" stroke-width="0.4" stroke-opacity="0.3"/>
<path d="M186.80 152.70L186.78 147.85L186.74 143.00L186.68 138.15L186.60 133.30L186.50 128.45L186.39 123.60L186.27 118.75L186.13 113.90L185.98 109.05L185.81 104.20L185.63 99.35L185.44 94.50L185.23 89.65L185.02 84.80L184.79 79.95L184.55 75.10L184.29 70.25L184.03 65.40L183.76 60.55L183.47 55.70L183.18 50.85L182.87 46.00L182.55 41.15L182.22 36.30" fill="none" stroke="#200" stroke-width="0.4" stroke-opacity="0.3"/>
<path d="M188.30 152.70L188.28 147.85L188.23 143.00L188.17 138.15L188.09 133.30L187.99 128.45L187.87 123.60L187.75 118.75L187.60 113.90L187.45 109.05L187.28 104.20L187.11 99.35L186.91 94.50L186.71 89.65L186.50 84.80L186.28 79.95L186.04 75.10L185.80 70.25L185.54 65.40L185.27 60.55L185.00 55.70L184.71 50.85L184.42 46.00L184.11 41.15L183.80 36.30" fill="none" stroke="#200" stroke-width="0.4" stroke-opacity="0.3"/>
<path d="M191.50 152.70L191.48 147.85L191.44 143.00L191.38 138.15L191.31 133.30L191.22 128.45L191.11 123.60L191.00 118.75L190.87 113.90L190.73 109.05L190.57 104.20L190.41 99.35L190.24 94.50L190.05 89.65L189.86 84.80L189.66 79.95L189.44 75.10L189.22 70.25L188.99 65.40L188.74 60.55L188.49 55.70L188.23 50.85L187.96 46.00L187.69 41.15L187.40 36.30" fill="none" stroke="#200" stroke-width="0.4" stroke-opacity="0.3" stroke-dasharray="2 1.5"/>
<path d="M193.31 152.70L193.29 147.85L193.25 143.00L193.19 138.15L193.12 133.30L193.03 128.45L192.93 123.60L192.82 118.75L192.69 113.90L192.56 109.05L192.41 104.20L192.25 99.35L192.08 94.50L191.90 89.65L191.72 84.80L191.52 79.95L191.31 75.10L191.10 70.25L190.87 65.40L190.64 60.55L190.40 55.70L190.15 50.85L189.89 46.00L189.62 41.15L189.35 36.30" fill="none" stroke="#200" stroke-width="0.4" stroke-opacity="0.3" stroke-dasharray="2 1.5"/>
<path d="M195.12 152.70L195.11 147.85L195.07 143.00L195.01 138.15L194.93 133.30L194.85 128.45L194.75 123.60L194.64 118.75L194.52 113.90L194.39 109.05L194.24 104.20L194.09 99.35L193.93 94.50L193.76 89.65L193.57 84.80L193.38 79.95L193.19 75.10L192.98 70.25L192.76 65.40L192.54 60.55L192.31 55.70L192.07 50.85L191.82 46.00L191.56 41.15L191.30 36.30" fill="none" stroke="#200" stroke-width="0.4" stroke-opacity="0.3" stroke-dasharray="2 1.5"/>
<path d="M196.94 152.70L196.92 147.85L196.88 143.00L196.82 138.15L196.75 133.30L196.67 128.45L196.57 123.60L196.46 118.75L196.34 113.90L196.22 109.05L196.08 104.20L195.93 99.35L195.77 94.50L195.61 89.65L195.43 84.80L195.25 79.95L195.06 75.10L194.86 70.25L194.65 65.40L194.44 60.55L194.21 55.70L193.98 50.85L193.75 46.00L193.50 41.15L193.25 36.30" fill="none" stroke="#200" stroke-width="0.4" stroke-opacity="0.3" stroke-dasharray="2 1.5"/>
<path d="M198.75 152.70L198.73 147.85L198.69 143.00L198.64 138.15L198.57 133.30L198.48 128.45L198.39 123.60L198.29 118.75L198.17 113.90L198.05 109.05L197.91 104.20L197.77 99.35L197.62 94.50L197.46 89.65L197.29 84.80L197.12 79.95L196.93 75.10L196.74 70.25L196.54 65.40L196.34 60.55L196.12 55.70L195.90 50.85L195.67 46.00L195.44 41.15L195.20 36.30" fill="none" stroke="#200" stroke-width="0.4" stroke-opacity="0.3" stroke-dasharray="2 1.5"/>
<path d="M200.56 152.70L200.54 147.85L200.50 143.00L200.45 138.15L200.38 133.30L200.30 128.45L200.21 123.60L200.11 118.75L200.00 113.90L199.88 109.05L199.75 104.20L199.61 99.35L199.47 94.50L199.31 89.65L199.15 84.80L198.98 79.95L198.81 75.10L198.62 70.25L198.43 65.40L198.23 60.55L198.03 55.70L197.82 50.85L197.60 46.00L197.38 41.15L197.15 36.30" fill="none" stroke="#200" stroke-width="0.4" stroke-opacity="0.3" stroke-dasharray="2 1.5"/>
<path d="M202.38 152.70L202.36 147.85L202.32 143.00L202.26 138.15L202.20 133.30L202.12 128.45L202.03 123.60L201.93 118.75L201.83 113.90L201.71 109.05L201.59 104.20L201.45 99.35L201.31 94.50L201.17 89.65L201.01 84.80L200.85 79.95L200.68 75.10L200.50 70.25L200.32 65.40L200.13 60.55L199.94 55.70L199.74 50.85L199.53 46.00L199.32 41.15L199.10 36.30" fill="none" stroke="#200" stroke-width="0.4" stroke-opacity="0.3" stroke-dasharray="2 1.5"/>
<path d="M204.19 152.70L204.17 147.85L204.13 143.00L204.08 138.15L204.01 133.30L203.94 128.45L203.85 123.60L203.76 118.75L203.65 113.90L203.54 109.05L203.42 104.20L203.30 99.35L203.16 94.50L203.02 89.65L202.87 84.80L202.72 79.95L202.56 75.10L202.39 70.25L202.21 65.40L202.03 60.55L201.85 55.70L201.66 50.85L201.46 46.00L201.26 41.15L201.05 36.30" fill="none" stroke="#200" stroke-width="0.4" stroke-opacity="0.3" stroke-dasharray="2 1.5"/>
<path d="M206.44 152.70L206.42 147.85L206.38 143.00L206.33 138.15L206.27 133.30L206.19 128.45L206.11 123.60L206.02 118.75L205.92 113.90L205.82 109.05L205.70 104.20L205.58 99.35L205.46 94.50L205.32 89.65L205.18 84.80L205.04 79.95L204.88 75.10L204.73 70.25L204.56 65.40L204.39 60.55L204.22 55.70L204.04 50.85L203.85 46.00L203.66 41.15L203.47 36.30" fill="none" stroke="#200" stroke-width="0.4" stroke-opacity="0.3" stroke-dasharray="2 1.5"/>
</g>
<text x="107.50" y="73.08" font-size="4.5" text-anchor="middle" font-weight="bold" fill="#111" fill-opacity="0.85" filter="url(#lsoft)">16</text>
<text x="109.00" y="88.58" font-size="4.5" text-anchor="middle" font-weight="bold" fill="#111" fill-opacity="0.85" filter="url(#lsoft)">17</text>
<text x="107.00" y="141.57" font-size="4.5" text-anchor="middle" font-weight="bold" fill="#111" fill-opacity="0.85" filter="url(#lsoft)">18</text>
<text x="110.50" y="131.07" font-size="4.5" text-anchor="middle" font-weight="bold" fill="#111" fill-opacity="0.85" filter="url(#lsoft)">19</text>
<text x="114.50" y="116.58" font-size="4.5" text-anchor="middle" font-weight="bold" fill="#111" fill-opacity="0.85" filter="url(#lsoft)">20</text>
<text x="118.00" y="106.58" font-size="4.5" text-anchor="middle" font-weight="bold" fill="#111" fill-opacity="0.85" filter="url(#lsoft)">21</text>
<text x="123.00" y="92.08" font-size="4.5" text-anchor="middle" font-weight="bold" fill="#111" fill-opacity="0.85" filter="url(#lsoft)">22</text>
<text x="128.50" y="77.58" font-size="4.5" text-anchor="middle" font-weight="bold" fill="#111" fill-opacity="0.85" filter="url(#lsoft)">23</text>
<text x="137.50" y="67.58" font-size="4.5" text-anchor="middle" font-weight="bold" fill="#111" fill-opacity="0.85" filter="url(#lsoft)">24</text>
<text x="161.00" y="67.58" font-size="4.5" text-anchor="middle" font-weight="bold" fill="#111" fill-opacity="0.85" filter="url(#lsoft)">24</text>
<text x="174.50" y="77.08" font-size="4.5" text-anchor="middle" font-weight="bold" fill="#111" fill-opacity="0.85" filter="url(#lsoft)">23</text>
<text x="181.50" y="90.08" font-size="4.5" text-anchor="middle" font-weight="bold" fill="#111" fill-opacity="0.85" filter="url(#lsoft)">22</text>
<text x="186.00" y="104.58" font-size="4.5" text-anchor="middle" font-weight="bold" fill="#111" fill-opacity="0.85" filter="url(#lsoft)">21</text>
<text x="189.00" y="120.58" font-size="4.5" text-anchor="middle" font-weight="bold" fill="#111" fill-opacity="0.85" filter="url(#lsoft)">20</text>
<text x="192.50" y="133.57" font-size="4.5" text-anchor="middle" font-weight="bold" fill="#111" fill-opacity="0.85" filter="url(#lsoft)">19</text>
<text x="195.50" y="143.07" font-size="4.5" text-anchor="middle" font-weight="bold" fill="#111" fill-opacity="0.85" filter="url(#lsoft)">18</text>
<text x="197.50" y="82.58" font-size="4.5" text-anchor="middle" font-weight="bold" fill="#111" fill-opacity="0.85" filter="url(#lsoft)">17</text>
<text x="201.50" y="69.08" font-size="4.5" text-anchor="middle" font-weight="bold" fill="#111" fill-opacity="0.85" filter="url(#lsoft)">16</text>
<g clip-path="url(#cb)"><g filter="url(#soft)">
<path d="M338.50 156.00L338.50 153.00L338.50 148.15L338.50 143.29L338.50 138.44L338.50 133.58L338.50 128.73L338.50 123.88L338.50 119.02L338.50 114.17L338.50 109.31L338.50 104.46L338.50 99.60L338.50 94.75L338.50 89.90L338.50 85.04L338.50 80.19L338.50 75.33L338.50 70.48L338.50 65.62L338.50 60.77L338.50 55.92L338.50 51.06L338.50 46.21L338.50 41.35L338.50 36.50L338.50 33.50L385.55 33.50L385.55 36.50L384.66 41.35L383.80 46.21L382.98 51.06L382.18 55.92L381.42 60.77L380.69 65.62L379.99 70.48L379.32 75.33L378.68 80.19L378.07 85.04L377.49 89.90L376.95 94.75L376.44 99.60L375.95 104.46L375.50 109.31L375.08 114.17L374.69 119.02L374.34 123.88L374.01 128.73L373.72 133.58L373.45 138.44L373.22 143.29L373.02 148.15L372.85 153.00L372.85 156.00Z" fill="#5c6ee5" />
<path d="M372.50 156.00L372.50 153.00L372.67 148.15L372.87 143.29L373.10 138.44L373.37 133.58L373.66 128.73L373.99 123.88L374.34 119.02L374.73 114.17L375.15 109.31L375.60 104.46L376.09 99.60L376.60 94.75L377.14 89.90L377.72 85.04L378.33 80.19L378.97 75.33L379.64 70.48L380.34 65.62L381.07 60.77L381.83 55.92L382.63 51.06L383.45 46.21L384.31 41.35L385.20 36.50L385.20 33.50L389.45 33.50L389.45 36.50L388.67 41.35L387.91 46.21L387.17 51.06L386.46 55.92L385.77 60.77L385.11 65.62L384.47 70.48L383.86 75.33L383.27 80.19L382.71 85.04L382.17 89.90L381.65 94.75L381.16 99.60L380.69 104.46L380.25 109.31L379.83 114.17L379.43 119.02L379.06 123.88L378.72 128.73L378.39 133.58L378.10 138.44L377.82 143.29L377.57 148.15L377.35 153.00L377.35 156.00Z" fill="#7c8dec" />
<path d="M377.00 156.00L377.00 153.00L377.22 148.15L377.47 143.29L377.75 138.44L378.04 133.58L378.37 128.73L378.71 123.88L379.08 119.02L379.48 114.17L379.90 109.31L380.34 104.46L380.81 99.60L381.30 94.75L381.82 89.90L382.36 85.04L382.92 80.19L383.51 75.33L384.12 70.48L384.76 65.62L385.42 60.77L386.11 55.92L386.82 51.06L387.56 46.21L388.32 41.35L389.10 36.50L389.10 33.50L392.95 33.50L392.95 36.50L392.33 41.35L391.73 46.21L391.15 51.06L390.58 55.92L390.03 60.77L389.50 65.62L388.98 70.48L388.48 75.33L388.00 80.19L387.53 85.04L387.08 89.90L386.65 94.75L386.23 99.60L385.83 104.46L385.45 109.31L385.08 114.17L384.73 119.02L384.40 123.88L384.08 128.73L383.78 133.58L383.50 138.44L383.23 143.29L382.98 148.15L382.75 153.00L382.75 156.00Z" fill="#9eacf2" />
<path d="M382.40 156.00L382.40 153.00L382.63 148.15L382.88 143.29L383.15 138.44L383.43 133.58L383.73 128.73L384.05 123.88L384.38 119.02L384.73 114.17L385.10 109.31L385.48 104.46L385.88 99.60L386.30 94.75L386.73 89.90L387.18 85.04L387.65 80.19L388.13 75.33L388.63 70.48L389.15 65.62L389.68 60.77L390.23 55.92L390.80 51.06L391.38 46.21L391.98 41.35L392.60 36.50L392.60 33.50L396.45 33.50L396.45 36.50L395.92 41.35L395.40 46.21L394.90 51.06L394.41 55.92L393.93 60.77L393.46 65.62L393.01 70.48L392.57 75.33L392.15 80.19L391.73 85.04L391.34 89.90L390.95 94.75L390.58 99.60L390.22 104.46L389.87 109.31L389.54 114.17L389.22 119.02L388.91 123.88L388.62 128.73L388.34 133.58L388.07 138.44L387.82 143.29L387.58 148.15L387.35 153.00L387.35 156.00Z" fill="#c1caf8" />
<path d="M387.00 156.00L387.00 153.00L387.23 148.15L387.47 143.29L387.72 138.44L387.99 133.58L388.27 128.73L388.56 123.88L388.87 119.02L389.19 114.17L389.52 109.31L389.87 104.46L390.23 99.60L390.60 94.75L390.99 89.90L391.38 85.04L391.80 80.19L392.22 75.33L392.66 70.48L393.11 65.62L393.58 60.77L394.06 55.92L394.55 51.06L395.05 46.21L395.57 41.35L396.10 36.50L396.10 33.50L399.95 33.50L399.95 36.50L399.46 41.35L398.99 46.21L398.52 51.06L398.06 55.92L397.61 60.77L397.18 65.62L396.75 70.48L396.33 75.33L395.92 80.19L395.52 85.04L395.13 89.90L394.75 94.75L394.38 99.60L394.02 104.46L393.67 109.31L393.33 114.17L393.00 119.02L392.68 123.88L392.36 128.73L392.06 133.58L391.77 138.44L391.49 143.29L391.21 148.15L390.95 153.00L390.95 156.00Z" fill="#e4e8fd" />
<path d="M390.60 156.00L390.60 153.00L390.86 148.15L391.14 143.29L391.42 138.44L391.71 133.58L392.01 128.73L392.32 123.88L392.65 119.02L392.98 114.17L393.32 109.31L393.67 104.46L394.03 99.60L394.40 94.75L394.78 89.90L395.17 85.04L395.57 80.19L395.98 75.33L396.40 70.48L396.82 65.62L397.26 60.77L397.71 55.92L398.17 51.06L398.64 46.21L399.11 41.35L399.60 36.50L399.60 33.50L401.88 33.50L401.88 36.50L401.37 41.35L400.88 46.21L400.39 51.06L399.91 55.92L399.45 60.77L398.99 65.62L398.55 70.48L398.11 75.33L397.69 80.19L397.28 85.04L396.88 89.90L396.49 94.75L396.11 99.60L395.74 104.46L395.38 109.31L395.03 114.17L394.69 119.02L394.37 123.88L394.05 128.73L393.74 133.58L393.45 138.44L393.17 143.29L392.89 148.15L392.63 153.00L392.63 156.00Z" fill="#f2f4fe" />
<path d="M392.28 156.00L392.28 153.00L392.54 148.15L392.82 143.29L393.10 138.44L393.39 133.58L393.70 128.73L394.02 123.88L394.34 119.02L394.68 114.17L395.03 109.31L395.39 104.46L395.76 99.60L396.14 94.75L396.53 89.90L396.93 85.04L397.34 80.19L397.76 75.33L398.20 70.48L398.64 65.62L399.10 60.77L399.56 55.92L400.04 51.06L400.53 46.21L401.02 41.35L401.53 36.50L401.53 33.50L404.92 33.50L404.92 36.50L404.38 41.35L403.85 46.21L403.33 51.06L402.82 55.92L402.33 60.77L401.85 65.62L401.38 70.48L400.92 75.33L400.48 80.19L400.04 85.04L399.62 89.90L399.21 94.75L398.82 99.60L398.43 104.46L398.06 109.31L397.70 114.17L397.36 119.02L397.02 123.88L396.70 128.73L396.39 133.58L396.09 138.44L395.81 143.29L395.53 148.15L395.27 153.00L395.27 156.00Z" fill="#ffffff" />
<path d="M394.92 156.00L394.92 153.00L395.18 148.15L395.46 143.29L395.74 138.44L396.04 133.58L396.35 128.73L396.67 123.88L397.01 119.02L397.35 114.17L397.71 109.31L398.08 104.46L398.47 99.60L398.86 94.75L399.27 89.90L399.69 85.04L400.12 80.19L400.57 75.33L401.03 70.48L401.50 65.62L401.98 60.77L402.47 55.92L402.98 51.06L403.50 46.21L404.03 41.35L404.57 36.50L404.57 33.50L406.85 33.50L406.85 36.50L406.29 41.35L405.73 46.21L405.20 51.06L404.67 55.92L404.16 60.77L403.66 65.62L403.18 70.48L402.71 75.33L402.25 80.19L401.80 85.04L401.37 89.90L400.95 94.75L400.54 99.60L400.15 104.46L399.77 109.31L399.41 114.17L399.05 119.02L398.71 123.88L398.39 128.73L398.07 133.58L397.77 138.44L397.48 143.29L397.21 148.15L396.95 153.00L396.95 156.00Z" fill="#ffeeee" />
<path d="M396.60 156.00L396.60 153.00L396.86 148.15L397.13 143.29L397.42 138.44L397.72 133.58L398.04 128.73L398.36 123.88L398.70 119.02L399.06 114.17L399.42 109.31L399.80 104.46L400.19 99.60L400.60 94.75L401.02 89.90L401.45 85.04L401.90 80.19L402.36 75.33L402.83 70.48L403.31 65.62L403.81 60.77L404.32 55.92L404.85 51.06L405.38 46.21L405.94 41.35L406.50 36.50L406.50 33.50L409.42 33.50L409.42 36.50L408.84 41.35L408.27 46.21L407.71 51.06L407.17 55.92L406.64 60.77L406.13 65.62L405.62 70.48L405.14 75.33L404.67 80.19L404.21 85.04L403.76 89.90L403.33 94.75L402.91 99.60L402.51 104.46L402.12 109.31L401.75 114.17L401.38 119.02L401.04 123.88L400.70 128.73L400.38 133.58L400.08 138.44L399.79 143.29L399.51 148.15L399.25 153.00L399.25 156.00Z" fill="#ffdedc" />
<path d="M398.90 156.00L398.90 153.00L399.16 148.15L399.44 143.29L399.73 138.44L400.03 133.58L400.35 128.73L400.69 123.88L401.03 119.02L401.40 114.17L401.77 109.31L402.16 104.46L402.56 99.60L402.98 94.75L403.41 89.90L403.86 85.04L404.32 80.19L404.79 75.33L405.27 70.48L405.78 65.62L406.29 60.77L406.82 55.92L407.36 51.06L407.92 46.21L408.49 41.35L409.07 36.50L409.07 33.50L412.20 33.50L412.20 36.50L411.59 41.35L410.99 46.21L410.42 51.06L409.85 55.92L409.30 60.77L408.77 65.62L408.25 70.48L407.75 75.33L407.26 80.19L406.78 85.04L406.32 89.90L405.88 94.75L405.45 99.60L405.04 104.46L404.64 109.31L404.25 114.17L403.88 119.02L403.53 123.88L403.18 128.73L402.86 133.58L402.55 138.44L402.25 143.29L401.97 148.15L401.71 153.00L401.71 156.00Z" fill="#fbc2c0" />
<path d="M401.36 156.00L401.36 153.00L401.62 148.15L401.90 143.29L402.20 138.44L402.51 133.58L402.83 128.73L403.18 123.88L403.53 119.02L403.90 114.17L404.29 109.31L404.69 104.46L405.10 99.60L405.53 94.75L405.97 89.90L406.43 85.04L406.91 80.19L407.40 75.33L407.90 70.48L408.42 65.62L408.95 60.77L409.50 55.92L410.07 51.06L410.64 46.21L411.24 41.35L411.85 36.50L411.85 33.50L415.17 33.50L415.17 36.50L414.53 41.35L413.91 46.21L413.31 51.06L412.72 55.92L412.15 60.77L411.60 65.62L411.06 70.48L410.53 75.33L410.03 80.19L409.53 85.04L409.06 89.90L408.60 94.75L408.16 99.60L407.73 104.46L407.32 109.31L406.92 114.17L406.54 119.02L406.18 123.88L405.83 128.73L405.50 133.58L405.18 138.44L404.88 143.29L404.60 148.15L404.33 153.00L404.33 156.00Z" fill="#f8a6a4" />
<path d="M403.98 156.00L403.98 153.00L404.25 148.15L404.53 143.29L404.83 138.44L405.15 133.58L405.48 128.73L405.83 123.88L406.19 119.02L406.57 114.17L406.97 109.31L407.38 104.46L407.81 99.60L408.25 94.75L408.71 89.90L409.18 85.04L409.68 80.19L410.18 75.33L410.71 70.48L411.25 65.62L411.80 60.77L412.37 55.92L412.96 51.06L413.56 46.21L414.18 41.35L414.82 36.50L414.82 33.50L418.33 33.50L418.33 36.50L417.67 41.35L417.02 46.21L416.39 51.06L415.78 55.92L415.18 60.77L414.60 65.62L414.04 70.48L413.50 75.33L412.97 80.19L412.46 85.04L411.97 89.90L411.49 94.75L411.03 99.60L410.59 104.46L410.17 109.31L409.76 114.17L409.37 119.02L409.00 123.88L408.64 128.73L408.30 133.58L407.98 138.44L407.68 143.29L407.39 148.15L407.12 153.00L407.12 156.00Z" fill="#f48a87" />
<path d="M406.77 156.00L406.77 153.00L407.04 148.15L407.33 143.29L407.63 138.44L407.95 133.58L408.29 128.73L408.65 123.88L409.02 119.02L409.41 114.17L409.82 109.31L410.24 104.46L410.68 99.60L411.14 94.75L411.62 89.90L412.11 85.04L412.62 80.19L413.15 75.33L413.69 70.48L414.25 65.62L414.83 60.77L415.43 55.92L416.04 51.06L416.67 46.21L417.32 41.35L417.98 36.50L417.98 33.50L421.90 33.50L421.90 36.50L421.18 41.35L420.47 46.21L419.79 51.06L419.13 55.92L418.49 60.77L417.87 65.62L417.26 70.48L416.68 75.33L416.12 80.19L415.58 85.04L415.05 89.90L414.55 94.75L414.07 99.60L413.60 104.46L413.16 109.31L412.74 114.17L412.33 119.02L411.95 123.88L411.59 128.73L411.24 133.58L410.92 138.44L410.62 143.29L410.33 148.15L410.07 153.00L410.07 156.00Z" fill="#f16e6b" />
<path d="M409.72 156.00L409.72 153.00L409.98 148.15L410.27 143.29L410.57 138.44L410.89 133.58L411.24 128.73L411.60 123.88L411.98 119.02L412.39 114.17L412.81 109.31L413.25 104.46L413.72 99.60L414.20 94.75L414.70 89.90L415.23 85.04L415.77 80.19L416.33 75.33L416.91 70.48L417.52 65.62L418.14 60.77L418.78 55.92L419.44 51.06L420.12 46.21L420.83 41.35L421.55 36.50L421.55 33.50L426.65 33.50L426.65 36.50L425.77 41.35L424.92 46.21L424.09 51.06L423.29 55.92L422.53 60.77L421.79 65.62L421.08 70.48L420.39 75.33L419.74 80.19L419.12 85.04L418.52 89.90L417.95 94.75L417.41 99.60L416.90 104.46L416.42 109.31L415.96 114.17L415.54 119.02L415.14 123.88L414.77 128.73L414.43 133.58L414.12 138.44L413.83 143.29L413.58 148.15L413.35 153.00L413.35 156.00Z" fill="#ed524f" />
<path d="M413.00 156.00L413.00 153.00L413.23 148.15L413.48 143.29L413.77 138.44L414.08 133.58L414.42 128.73L414.79 123.88L415.19 119.02L415.61 114.17L416.07 109.31L416.55 104.46L417.06 99.60L417.60 94.75L418.17 89.90L418.77 85.04L419.39 80.19L420.04 75.33L420.73 70.48L421.44 65.62L422.18 60.77L422.94 55.92L423.74 51.06L424.57 46.21L425.42 41.35L426.30 36.50L426.30 33.50L491.35 33.50L491.35 36.50L492.61 41.35L493.82 46.21L494.98 51.06L496.07 55.92L497.11 60.77L498.10 65.62L499.03 70.48L499.91 75.33L500.73 80.19L501.49 85.04L502.20 89.90L502.85 94.75L503.45 99.60L503.99 104.46L504.48 109.31L504.91 114.17L505.28 119.02L505.60 123.88L505.86 128.73L506.07 133.58L506.23 138.44L506.32 143.29L506.36 148.15L506.35 153.00L506.35 156.00Z" fill="#ea3633" />
<path d="M506.00 156.00L506.00 153.00L506.01 148.15L505.97 143.29L505.88 138.44L505.72 133.58L505.51 128.73L505.25 123.88L504.93 119.02L504.56 114.17L504.12 109.31L503.64 104.46L503.10 99.60L502.50 94.75L501.85 89.90L501.14 85.04L500.38 80.19L499.56 75.33L498.68 70.48L497.75 65.62L496.76 60.77L495.72 55.92L494.62 51.06L493.47 46.21L492.26 41.35L491.00 36.50L491.00 33.50L511.35 33.50L511.35 36.50L512.28 41.35L513.17 46.21L514.01 51.06L514.79 55.92L515.53 60.77L516.23 65.62L516.87 70.48L517.46 75.33L518.01 80.19L518.50 85.04L518.95 89.90L519.35 94.75L519.70 99.60L520.00 104.46L520.26 109.31L520.46 114.17L520.62 119.02L520.73 123.88L520.78 128.73L520.79 133.58L520.76 138.44L520.67 143.29L520.53 148.15L520.35 153.00L520.35 156.00Z" fill="#ed524f" />
<path d="M520.00 156.00L520.00 153.00L520.18 148.15L520.32 143.29L520.41 138.44L520.44 133.58L520.43 128.73L520.38 123.88L520.27 119.02L520.11 114.17L519.91 109.31L519.65 104.46L519.35 99.60L519.00 94.75L518.60 89.90L518.15 85.04L517.66 80.19L517.11 75.33L516.52 70.48L515.88 65.62L515.18 60.77L514.44 55.92L513.66 51.06L512.82 46.21L511.93 41.35L511.00 36.50L511.00 33.50L520.35 33.50L520.35 36.50L521.12 41.35L521.85 46.21L522.54 51.06L523.18 55.92L523.79 60.77L524.35 65.62L524.87 70.48L525.35 75.33L525.79 80.19L526.18 85.04L526.54 89.90L526.85 94.75L527.12 99.60L527.35 104.46L527.54 109.31L527.68 114.17L527.79 119.02L527.85 123.88L527.87 128.73L527.85 133.58L527.79 138.44L527.68 143.29L527.54 148.15L527.35 153.00L527.35 156.00Z" fill="#f16e6b" />
<path d="M527.00 156.00L527.00 153.00L527.19 148.15L527.33 143.29L527.44 138.44L527.50 133.58L527.52 128.73L527.50 123.88L527.44 119.02L527.33 114.17L527.19 109.31L527.00 104.46L526.77 99.60L526.50 94.75L526.19 89.90L525.83 85.04L525.44 80.19L525.00 75.33L524.52 70.48L524.00 65.62L523.44 60.77L522.83 55.92L522.19 51.06L521.50 46.21L520.77 41.35L520.00 36.50L520.00 33.50L527.35 33.50L527.35 36.50L528.12 41.35L528.85 46.21L529.54 51.06L530.18 55.92L530.79 60.77L531.35 65.62L531.87 70.48L532.35 75.33L532.79 80.19L533.18 85.04L533.54 89.90L533.85 94.75L534.12 99.60L534.35 104.46L534.54 109.31L534.68 114.17L534.79 119.02L534.85 123.88L534.87 128.73L534.85 133.58L534.79 138.44L534.68 143.29L534.54 148.15L534.35 153.00L534.35 156.00Z" fill="#f48a87" />
<path d="M534.00 156.00L534.00 153.00L534.19 148.15L534.33 143.29L534.44 138.44L534.50 133.58L534.52 128.73L534.50 123.88L534.44 119.02L534.33 114.17L534.19 109.31L534.00 104.46L533.77 99.60L533.50 94.75L533.19 89.90L532.83 85.04L532.44 80.19L532.00 75.33L531.52 70.48L531.00 65.62L530.44 60.77L529.83 55.92L529.19 51.06L528.50 46.21L527.77 41.35L527.00 36.50L527.00 33.50L534.35 33.50L534.35 36.50L535.12 41.35L535.85 46.21L536.54 51.06L537.18 55.92L537.79 60.77L538.35 65.62L538.87 70.48L539.35 75.33L539.79 80.19L540.18 85.04L540.54 89.90L540.85 94.75L541.12 99.60L541.35 104.46L541.54 109.31L541.68 114.17L541.79 119.02L541.85 123.88L541.87 128.73L541.85 133.58L541.79 138.44L541.68 143.29L541.54 148.15L541.35 153.00L541.35 156.00Z" fill="#f8a6a4" />
<path d="M541.00 156.00L541.00 153.00L541.19 148.15L541.33 143.29L541.44 138.44L541.50 133.58L541.52 128.73L541.50 123.88L541.44 119.02L541.33 114.17L541.19 109.31L541.00 104.46L540.77 99.60L540.50 94.75L540.19 89.90L539.83 85.04L539.44 80.19L539.00 75.33L538.52 70.48L538.00 65.62L537.44 60.77L536.83 55.92L536.19 51.06L535.50 46.21L534.77 41.35L534.00 36.50L534.00 33.50L541.35 33.50L541.35 36.50L542.12 41.35L542.85 46.21L543.54 51.06L544.18 55.92L544.79 60.77L545.35 65.62L545.87 70.48L546.35 75.33L546.79 80.19L547.18 85.04L547.54 89.90L547.85 94.75L548.12 99.60L548.35 104.46L548.54 109.31L548.68 114.17L548.79 119.02L548.85 123.88L548.87 128.73L548.85 133.58L548.79 138.44L548.68 143.29L548.54 148.15L548.35 153.00L548.35 156.00Z" fill="#fbc2c0" />
<path d="M548.00 156.00L548.00 153.00L548.19 148.15L548.33 143.29L548.44 138.44L548.50 133.58L548.52 128.73L548.50 123.88L548.44 119.02L548.33 114.17L548.19 109.31L548.00 104.46L547.77 99.60L547.50 94.75L547.19 89.90L546.83 85.04L546.44 80.19L546.00 75.33L545.52 70.48L545.00 65.62L544.44 60.77L543.83 55.92L543.19 51.06L542.50 46.21L541.77 41.35L541.00 36.50L541.00 33.50L547.85 33.50L547.85 36.50L548.62 41.35L549.35 46.21L550.04 51.06L550.68 55.92L551.29 60.77L551.85 65.62L552.37 70.48L552.85 75.33L553.29 80.19L553.68 85.04L554.04 89.90L554.35 94.75L554.62 99.60L554.85 104.46L555.04 109.31L555.18 114.17L555.29 119.02L555.35 123.88L555.37 128.73L555.35 133.58L555.29 138.44L555.18 143.29L555.04 148.15L554.85 153.00L554.85 156.00Z" fill="#ffdedc" />
<path d="M554.50 156.00L554.50 153.00L554.69 148.15L554.83 143.29L554.94 138.44L555.00 133.58L555.02 128.73L555.00 123.88L554.94 119.02L554.83 114.17L554.69 109.31L554.50 104.46L554.27 99.60L554.00 94.75L553.69 89.90L553.33 85.04L552.94 80.19L552.50 75.33L552.02 70.48L551.50 65.62L550.94 60.77L550.33 55.92L549.69 51.06L549.00 46.21L548.27 41.35L547.50 36.50L547.50 33.50L551.91 33.50L551.91 36.50L552.66 41.35L553.38 46.21L554.05 51.06L554.68 55.92L555.27 60.77L555.82 65.62L556.33 70.48L556.80 75.33L557.23 80.19L557.62 85.04L557.96 89.90L558.27 94.75L558.54 99.60L558.76 104.46L558.94 109.31L559.09 114.17L559.19 119.02L559.25 123.88L559.27 128.73L559.25 133.58L559.19 138.44L559.09 143.29L558.95 148.15L558.77 153.00L558.77 156.00Z" fill="#ffeeee" />
<path d="M558.42 156.00L558.42 153.00L558.60 148.15L558.74 143.29L558.84 138.44L558.90 133.58L558.92 128.73L558.90 123.88L558.84 119.02L558.74 114.17L558.59 109.31L558.41 104.46L558.19 99.60L557.92 94.75L557.61 89.90L557.27 85.04L556.88 80.19L556.45 75.33L555.98 70.48L555.47 65.62L554.92 60.77L554.33 55.92L553.70 51.06L553.03 46.21L552.31 41.35L551.56 36.50L551.56 33.50L558.29 33.50L558.29 36.50L559.02 41.35L559.71 46.21L560.35 51.06L560.96 55.92L561.53 60.77L562.07 65.62L562.56 70.48L563.01 75.33L563.42 80.19L563.80 85.04L564.13 89.90L564.43 94.75L564.69 99.60L564.91 104.46L565.08 109.31L565.22 114.17L565.32 119.02L565.38 123.88L565.41 128.73L565.39 133.58L565.33 138.44L565.24 143.29L565.10 148.15L564.93 153.00L564.93 156.00Z" fill="#ffffff" />
<path d="M564.58 156.00L564.58 153.00L564.75 148.15L564.89 143.29L564.98 138.44L565.04 133.58L565.06 128.73L565.03 123.88L564.97 119.02L564.87 114.17L564.73 109.31L564.56 104.46L564.34 99.60L564.08 94.75L563.78 89.90L563.45 85.04L563.07 80.19L562.66 75.33L562.21 70.48L561.72 65.62L561.18 60.77L560.61 55.92L560.00 51.06L559.36 46.21L558.67 41.35L557.94 36.50L557.94 33.50L562.35 33.50L562.35 36.50L563.06 41.35L563.73 46.21L564.37 51.06L564.96 55.92L565.52 60.77L566.04 65.62L566.52 70.48L566.96 75.33L567.37 80.19L567.73 85.04L568.06 89.90L568.35 94.75L568.60 99.60L568.82 104.46L568.99 109.31L569.13 114.17L569.23 119.02L569.29 123.88L569.31 128.73L569.29 133.58L569.24 138.44L569.15 143.29L569.02 148.15L568.85 153.00L568.85 156.00Z" fill="#f2f4fe" />
<path d="M568.50 156.00L568.50 153.00L568.67 148.15L568.80 143.29L568.89 138.44L568.94 133.58L568.96 128.73L568.94 123.88L568.88 119.02L568.78 114.17L568.64 109.31L568.47 104.46L568.25 99.60L568.00 94.75L567.71 89.90L567.38 85.04L567.02 80.19L566.61 75.33L566.17 70.48L565.69 65.62L565.17 60.77L564.61 55.92L564.02 51.06L563.38 46.21L562.71 41.35L562.00 36.50L562.00 33.50L569.35 33.50L569.35 36.50L570.06 41.35L570.73 46.21L571.37 51.06L571.96 55.92L572.52 60.77L573.04 65.62L573.52 70.48L573.96 75.33L574.37 80.19L574.73 85.04L575.06 89.90L575.35 94.75L575.60 99.60L575.82 104.46L575.99 109.31L576.13 114.17L576.23 119.02L576.29 123.88L576.31 128.73L576.29 133.58L576.24 138.44L576.15 143.29L576.02 148.15L575.85 153.00L575.85 156.00Z" fill="#e4e8fd" />
<path d="M575.50 156.00L575.50 153.00L575.67 148.15L575.80 143.29L575.89 138.44L575.94 133.58L575.96 128.73L575.94 123.88L575.88 119.02L575.78 114.17L575.64 109.31L575.47 104.46L575.25 99.60L575.00 94.75L574.71 89.90L574.38 85.04L574.02 80.19L573.61 75.33L573.17 70.48L572.69 65.62L572.17 60.77L571.61 55.92L571.02 51.06L570.38 46.21L569.71 41.35L569.00 36.50L569.00 33.50L576.35 33.50L576.35 36.50L577.06 41.35L577.73 46.21L578.37 51.06L578.96 55.92L579.52 60.77L580.04 65.62L580.52 70.48L580.96 75.33L581.37 80.19L581.73 85.04L582.06 89.90L582.35 94.75L582.60 99.60L582.82 104.46L582.99 109.31L583.13 114.17L583.23 119.02L583.29 123.88L583.31 128.73L583.29 133.58L583.24 138.44L583.15 143.29L583.02 148.15L582.85 153.00L582.85 156.00Z" fill="#c1caf8" />
<path d="M582.50 156.00L582.50 153.00L582.67 148.15L582.80 143.29L582.89 138.44L582.94 133.58L582.96 128.73L582.94 123.88L582.88 119.02L582.78 114.17L582.64 109.31L582.47 104.46L582.25 99.60L582.00 94.75L581.71 89.90L581.38 85.04L581.02 80.19L580.61 75.33L580.17 70.48L579.69 65.62L579.17 60.77L578.61 55.92L578.02 51.06L577.38 46.21L576.71 41.35L576.00 36.50L576.00 33.50L583.35 33.50L583.35 36.50L584.06 41.35L584.73 46.21L585.37 51.06L585.96 55.92L586.52 60.77L587.04 65.62L587.52 70.48L587.96 75.33L588.37 80.19L588.73 85.04L589.06 89.90L589.35 94.75L589.60 99.60L589.82 104.46L589.99 109.31L590.13 114.17L590.23 119.02L590.29 123.88L590.31 128.73L590.29 133.58L590.24 138.44L590.15 143.29L590.02 148.15L589.85 153.00L589.85 156.00Z" fill="#9eacf2" />
<path d="M589.50 156.00L589.50 153.00L589.67 148.15L589.80 143.29L589.89 138.44L589.94 133.58L589.96 128.73L589.94 123.88L589.88 119.02L589.78 114.17L589.64 109.31L589.47 104.46L589.25 99.60L589.00 94.75L588.71 89.90L588.38 85.04L588.02 80.19L587.61 75.33L587.17 70.48L586.69 65.62L586.17 60.77L585.61 55.92L585.02 51.06L584.38 46.21L583.71 41.35L583.00 36.50L583.00 33.50L598.80 33.50L598.80 36.50L598.80 41.35L598.80 46.21L598.80 51.06L598.80 55.92L598.80 60.77L598.80 65.62L598.80 70.48L598.80 75.33L598.80 80.19L598.80 85.04L598.80 89.90L598.80 94.75L598.80 99.60L598.80 104.46L598.80 109.31L598.80 114.17L598.80 119.02L598.80 123.88L598.80 128.73L598.80 133.58L598.80 138.44L598.80 143.29L598.80 148.15L598.80 153.00L598.80 156.00Z" fill="#7c8dec" />
<path d="M590.00 36.00L596.00 36.00L596.00 110.00L595.60 110.00Z" fill="#5c6ee5" />
<path d="M343.20 32.00L343.20 35.00L343.76 41.81L344.33 48.45L344.91 54.90L345.50 61.17L346.10 67.24L346.71 73.12L347.34 78.79L347.98 84.24L348.63 89.47L349.31 94.47L350.00 99.23L350.72 103.73L351.46 107.95L352.24 111.88L353.05 115.50L353.92 118.77L354.85 121.66L355.88 124.09L357.09 125.97L359.00 127.00L360.30 125.97L361.50 124.09L362.66 121.66L363.81 118.77L364.94 115.50L366.05 111.88L367.16 107.95L368.25 103.73L369.34 99.23L370.43 94.47L371.50 89.47L372.58 84.24L373.64 78.79L374.71 73.12L375.76 67.24L376.82 61.17L377.87 54.90L378.92 48.45L379.96 41.81L381.00 35.00L381.00 32.00Z" fill="#3c4fdc" />
<path d="M351.80 32.00L351.80 35.00L352.20 37.41L352.61 39.75L353.03 42.03L353.45 44.24L353.88 46.39L354.31 48.47L354.75 50.47L355.21 52.40L355.67 54.24L356.14 56.01L356.62 57.69L357.12 59.28L357.63 60.77L358.16 62.16L358.72 63.44L359.30 64.59L359.92 65.61L360.60 66.47L361.37 67.14L362.50 67.50L364.05 67.14L365.11 66.47L366.04 65.61L366.90 64.59L367.70 63.44L368.46 62.16L369.19 60.77L369.89 59.28L370.58 57.69L371.24 56.01L371.89 54.24L372.52 52.40L373.14 50.47L373.75 48.47L374.35 46.39L374.93 44.24L375.51 42.03L376.08 39.75L376.65 37.41L377.20 35.00L377.20 32.00Z" fill="#212ccb" />
</g></g>
<g clip-path="url(#cb)" filter="url(#lsoft)">
<path d="M372.50 153.00L372.67 148.15L372.87 143.29L373.10 138.44L373.37 133.58L373.66 128.73L373.99 123.88L374.34 119.02L374.73 114.17L375.15 109.31L375.60 104.46L376.09 99.60L376.60 94.75L377.14 89.90L377.72 85.04L378.33 80.19L378.97 75.33L379.64 70.48L380.34 65.62L381.07 60.77L381.83 55.92L382.63 51.06L383.45 46.21L384.31 41.35L385.20 36.50" fill="none" stroke="#200" stroke-width="0.4" stroke-opacity="0.3" stroke-dasharray="2 1.5"/>
<path d="M377.00 153.00L377.22 148.15L377.47 143.29L377.75 138.44L378.04 133.58L378.37 128.73L378.71 123.88L379.08 119.02L379.48 114.17L379.90 109.31L380.34 104.46L380.81 99.60L381.30 94.75L381.82 89.90L382.36 85.04L382.92 80.19L383.51 75.33L384.12 70.48L384.76 65.62L385.42 60.77L386.11 55.92L386.82 51.06L387.56 46.21L388.32 41.35L389.10 36.50" fill="none" stroke="#200" stroke-width="0.4" stroke-opacity="0.3" stroke-dasharray="2 1.5"/>
<path d="M382.40 153.00L382.63 148.15L382.88 143.29L383.15 138.44L383.43 133.58L383.73 128.73L384.05 123.88L384.38 119.02L384.73 114.17L385.10 109.31L385.48 104.46L385.88 99.60L386.30 94.75L386.73 89.90L387.18 85.04L387.65 80.19L388.13 75.33L388.63 70.48L389.15 65.62L389.68 60.77L390.23 55.92L390.80 51.06L391.38 46.21L391.98 41.35L392.60 36.50" fill="none" stroke="#200" stroke-width="0.4" stroke-opacity="0.3" stroke-dasharray="2 1.5"/>
<path d="M387.00 153.00L387.23 148.15L387.47 143.29L387.72 138.44L387.99 133.58L388.27 128.73L388.56 123.88L388.87 119.02L389.19 114.17L389.52 109.31L389.87 104.46L390.23 99.60L390.60 94.75L390.99 89.90L391.38 85.04L391.80 80.19L392.22 75.33L392.66 70.48L393.11 65.62L393.58 60.77L394.06 55.92L394.55 51.06L395.05 46.21L395.57 41.35L396.10 36.50" fill="none" stroke="#200" stroke-width="0.4" stroke-opacity="0.3" stroke-dasharray="2 1.5"/>
<path d="M390.60 153.00L390.86 148.15L391.14 143.29L391.42 138.44L391.71 133.58L392.01 128.73L392.32 123.88L392.65 119.02L392.98 114.17L393.32 109.31L393.67 104.46L394.03 99.60L394.40 94.75L394.78 89.90L395.17 85.04L395.57 80.19L395.98 75.33L396.40 70.48L396.82 65.62L397.26 60.77L397.71 55.92L398.17 51.06L398.64 46.21L399.11 41.35L399.60 36.50" fill="none" stroke="#200" stroke-width="0.4" stroke-opacity="0.3" stroke-dasharray="2 1.5"/>
<path d="M396.60 153.00L396.86 148.15L397.13 143.29L397.42 138.44L397.72 133.58L398.04 128.73L398.36 123.88L398.70 119.02L399.06 114.17L399.42 109.31L399.80 104.46L400.19 99.60L400.60 94.75L401.02 89.90L401.45 85.04L401.90 80.19L402.36 75.33L402.83 70.48L403.31 65.62L403.81 60.77L404.32 55.92L404.85 51.06L405.38 46.21L405.94 41.35L406.50 36.50" fill="none" stroke="#200" stroke-width="0.4" stroke-opacity="0.3"/>
<path d="M398.90 153.00L399.16 148.15L399.44 143.29L399.73 138.44L400.03 133.58L400.35 128.73L400.69 123.88L401.03 119.02L401.40 114.17L401.77 109.31L402.16 104.46L402.56 99.60L402.98 94.75L403.41 89.90L403.86 85.04L404.32 80.19L404.79 75.33L405.27 70.48L405.78 65.62L406.29 60.77L406.82 55.92L407.36 51.06L407.92 46.21L408.49 41.35L409.07 36.50" fill="none" stroke="#200" stroke-width="0.4" stroke-opacity="0.3"/>
<path d="M401.36 153.00L401.62 148.15L401.90 143.29L402.20 138.44L402.51 133.58L402.83 128.73L403.18 123.88L403.53 119.02L403.90 114.17L404.29 109.31L404.69 104.46L405.10 99.60L405.53 94.75L405.97 89.90L406.43 85.04L406.91 80.19L407.40 75.33L407.90 70.48L408.42 65.62L408.95 60.77L409.50 55.92L410.07 51.06L410.64 46.21L411.24 41.35L411.85 36.50" fill="none" stroke="#200" stroke-width="0.4" stroke-opacity="0.3"/>
<path d="M403.98 153.00L404.25 148.15L404.53 143.29L404.83 138.44L405.15 133.58L405.48 128.73L405.83 123.88L406.19 119.02L406.57 114.17L406.97 109.31L407.38 104.46L407.81 99.60L408.25 94.75L408.71 89.90L409.18 85.04L409.68 80.19L410.18 75.33L410.71 70.48L411.25 65.62L411.80 60.77L412.37 55.92L412.96 51.06L413.56 46.21L414.18 41.35L414.82 36.50" fill="none" stroke="#200" stroke-width="0.4" stroke-opacity="0.3"/>
<path d="M406.77 153.00L407.04 148.15L407.33 143.29L407.63 138.44L407.95 133.58L408.29 128.73L408.65 123.88L409.02 119.02L409.41 114.17L409.82 109.31L410.24 104.46L410.68 99.60L411.14 94.75L411.62 89.90L412.11 85.04L412.62 80.19L413.15 75.33L413.69 70.48L414.25 65.62L414.83 60.77L415.43 55.92L416.04 51.06L416.67 46.21L417.32 41.35L417.98 36.50" fill="none" stroke="#200" stroke-width="0.4" stroke-opacity="0.3"/>
<path d="M409.72 153.00L409.98 148.15L410.27 143.29L410.57 138.44L410.89 133.58L411.24 128.73L411.60 123.88L411.98 119.02L412.39 114.17L412.81 109.31L413.25 104.46L413.72 99.60L414.20 94.75L414.70 89.90L415.23 85.04L415.77 80.19L416.33 75.33L416.91 70.48L417.52 65.62L418.14 60.77L418.78 55.92L419.44 51.06L420.12 46.21L420.83 41.35L421.55 36.50" fill="none" stroke="#200" stroke-width="0.4" stroke-opacity="0.3"/>
<path d="M413.00 153.00L413.23 148.15L413.48 143.29L413.77 138.44L414.08 133.58L414.42 128.73L414.79 123.88L415.19 119.02L415.61 114.17L416.07 109.31L416.55 104.46L417.06 99.60L417.60 94.75L418.17 89.90L418.77 85.04L419.39 80.19L420.04 75.33L420.73 70.48L421.44 65.62L422.18 60.77L422.94 55.92L423.74 51.06L424.57 46.21L425.42 41.35L426.30 36.50" fill="none" stroke="#200" stroke-width="0.4" stroke-opacity="0.3"/>
<path d="M506.00 153.00L506.01 148.15L505.97 143.29L505.88 138.44L505.72 133.58L505.51 128.73L505.25 123.88L504.93 119.02L504.56 114.17L504.12 109.31L503.64 104.46L503.10 99.60L502.50 94.75L501.85 89.90L501.14 85.04L500.38 80.19L499.56 75.33L498.68 70.48L497.75 65.62L496.76 60.77L495.72 55.92L494.62 51.06L493.47 46.21L492.26 41.35L491.00 36.50" fill="none" stroke="#200" stroke-width="0.4" stroke-opacity="0.3"/>
<path d="M520.00 153.00L520.18 148.15L520.32 143.29L520.41 138.44L520.44 133.58L520.43 128.73L520.38 123.88L520.27 119.02L520.11 114.17L519.91 109.31L519.65 104.46L519.35 99.60L519.00 94.75L518.60 89.90L518.15 85.04L517.66 80.19L517.11 75.33L516.52 70.48L515.88 65.62L515.18 60.77L514.44 55.92L513.66 51.06L512.82 46.21L511.93 41.35L511.00 36.50" fill="none" stroke="#200" stroke-width="0.4" stroke-opacity="0.3"/>
<path d="M527.00 153.00L527.19 148.15L527.33 143.29L527.44 138.44L527.50 133.58L527.52 128.73L527.50 123.88L527.44 119.02L527.33 114.17L527.19 109.31L527.00 104.46L526.77 99.60L526.50 94.75L526.19 89.90L525.83 85.04L525.44 80.19L525.00 75.33L524.52 70.48L524.00 65.62L523.44 60.77L522.83 55.92L522.19 51.06L521.50 46.21L520.77 41.35L520.00 36.50" fill="none" stroke="#200" stroke-width="0.4" stroke-opacity="0.3"/>
<path d="M534.00 153.00L534.19 148.15L534.33 143.29L534.44 138.44L534.50 133.58L534.52 128.73L534.50 123.88L534.44 119.02L534.33 114.17L534.19 109.31L534.00 104.46L533.77 99.60L533.50 94.75L533.19 89.90L532.83 85.04L532.44 80.19L532.00 75.33L531.52 70.48L531.00 65.62L530.44 60.77L529.83 55.92L529.19 51.06L528.50 46.21L527.77 41.35L527.00 36.50" fill="none" stroke="#200" stroke-width="0.4" stroke-opacity="0.3"/>
<path d="M541.00 153.00L541.19 148.15L541.33 143.29L541.44 138.44L541.50 133.58L541.52 128.73L541.50 123.88L541.44 119.02L541.33 114.17L541.19 109.31L541.00 104.46L540.77 99.60L540.50 94.75L540.19 89.90L539.83 85.04L539.44 80.19L539.00 75.33L538.52 70.48L538.00 65.62L537.44 60.77L536.83 55.92L536.19 51.06L535.50 46.21L534.77 41.35L534.00 36.50" fill="none" stroke="#200" stroke-width="0.4" stroke-opacity="0.3"/>
<path d="M548.00 153.00L548.19 148.15L548.33 143.29L548.44 138.44L548.50 133.58L548.52 128.73L548.50 123.88L548.44 119.02L548.33 114.17L548.19 109.31L548.00 104.46L547.77 99.60L547.50 94.75L547.19 89.90L546.83 85.04L546.44 80.19L546.00 75.33L545.52 70.48L545.00 65.62L544.44 60.77L543.83 55.92L543.19 51.06L542.50 46.21L541.77 41.35L541.00 36.50" fill="none" stroke="#200" stroke-width="0.4" stroke-opacity="0.3"/>
<path d="M554.50 153.00L554.69 148.15L554.83 143.29L554.94 138.44L555.00 133.58L555.02 128.73L555.00 123.88L554.94 119.02L554.83 114.17L554.69 109.31L554.50 104.46L554.27 99.60L554.00 94.75L553.69 89.90L553.33 85.04L552.94 80.19L552.50 75.33L552.02 70.48L551.50 65.62L550.94 60.77L550.33 55.92L549.69 51.06L549.00 46.21L548.27 41.35L547.50 36.50" fill="none" stroke="#200" stroke-width="0.4" stroke-opacity="0.3"/>
<path d="M568.50 153.00L568.67 148.15L568.80 143.29L568.89 138.44L568.94 133.58L568.96 128.73L568.94 123.88L568.88 119.02L568.78 114.17L568.64 109.31L568.47 104.46L568.25 99.60L568.00 94.75L567.71 89.90L567.38 85.04L567.02 80.19L566.61 75.33L566.17 70.48L565.69 65.62L565.17 60.77L564.61 55.92L564.02 51.06L563.38 46.21L562.71 41.35L562.00 36.50" fill="none" stroke="#200" stroke-width="0.4" stroke-opacity="0.3" stroke-dasharray="2 1.5"/>
<path d="M575.50 153.00L575.67 148.15L575.80 143.29L575.89 138.44L575.94 133.58L575.96 128.73L575.94 123.88L575.88 119.02L575.78 114.17L575.64 109.31L575.47 104.46L575.25 99.60L575.00 94.75L574.71 89.90L574.38 85.04L574.02 80.19L573.61 75.33L573.17 70.48L572.69 65.62L572.17 60.77L571.61 55.92L571.02 51.06L570.38 46.21L569.71 41.35L569.00 36.50" fill="none" stroke="#200" stroke-width="0.4" stroke-opacity="0.3" stroke-dasharray="2 1.5"/>
<path d="M582.50 153.00L582.67 148.15L582.80 143.29L582.89 138.44L582.94 133.58L582.96 128.73L582.94 123.88L582.88 119.02L582.78 114.17L582.64 109.31L582.47 104.46L582.25 99.60L582.00 94.75L581.71 89.90L581.38 85.04L581.02 80.19L580.61 75.33L580.17 70.48L579.69 65.62L579.17 60.77L578.61 55.92L578.02 51.06L577.38 46.21L576.71 41.35L576.00 36.50" fill="none" stroke="#200" stroke-width="0.4" stroke-opacity="0.3" stroke-dasharray="2 1.5"/>
<path d="M589.50 153.00L589.67 148.15L589.80 143.29L589.89 138.44L589.94 133.58L589.96 128.73L589.94 123.88L589.88 119.02L589.78 114.17L589.64 109.31L589.47 104.46L589.25 99.60L589.00 94.75L588.71 89.90L588.38 85.04L588.02 80.19L587.61 75.33L587.17 70.48L586.69 65.62L586.17 60.77L585.61 55.92L585.02 51.06L584.38 46.21L583.71 41.35L583.00 36.50" fill="none" stroke="#200" stroke-width="0.4" stroke-opacity="0.3" stroke-dasharray="2 1.5"/>
<path d="M343.20 32.00L343.20 35.00L343.76 41.81L344.33 48.45L344.91 54.90L345.50 61.17L346.10 67.24L346.71 73.12L347.34 78.79L347.98 84.24L348.63 89.47L349.31 94.47L350.00 99.23L350.72 103.73L351.46 107.95L352.24 111.88L353.05 115.50L353.92 118.77L354.85 121.66L355.88 124.09L357.09 125.97L359.00 127.00L360.30 125.97L361.50 124.09L362.66 121.66L363.81 118.77L364.94 115.50L366.05 111.88L367.16 107.95L368.25 103.73L369.34 99.23L370.43 94.47L371.50 89.47L372.58 84.24L373.64 78.79L374.71 73.12L375.76 67.24L376.82 61.17L377.87 54.90L378.92 48.45L379.96 41.81L381.00 35.00L381.00 32.00" fill="none" stroke="#200" stroke-width="0.4" stroke-opacity="0.35"/>
<path d="M351.80 32.00L351.80 35.00L352.20 37.41L352.61 39.75L353.03 42.03L353.45 44.24L353.88 46.39L354.31 48.47L354.75 50.47L355.21 52.40L355.67 54.24L356.14 56.01L356.62 57.69L357.12 59.28L357.63 60.77L358.16 62.16L358.72 63.44L359.30 64.59L359.92 65.61L360.60 66.47L361.37 67.14L362.50 67.50L364.05 67.14L365.11 66.47L366.04 65.61L366.90 64.59L367.70 63.44L368.46 62.16L369.19 60.77L369.89 59.28L370.58 57.69L371.24 56.01L371.89 54.24L372.52 52.40L373.14 50.47L373.75 48.47L374.35 46.39L374.93 44.24L375.51 42.03L376.08 39.75L376.65 37.41L377.20 35.00L377.20 32.00" fill="none" stroke="#200" stroke-width="0.4" stroke-opacity="0.35"/>
</g>
<text x="367.50" y="103.08" font-size="4.5" text-anchor="middle" font-weight="bold" fill="#111" fill-opacity="0.85" filter="url(#lsoft)">0.3</text>
<text x="381.00" y="95.58" font-size="4.5" text-anchor="middle" font-weight="bold" fill="#111" fill-opacity="0.85" filter="url(#lsoft)">0.4</text>
<text x="388.50" y="107.58" font-size="4.5" text-anchor="middle" font-weight="bold" fill="#111" fill-opacity="0.85" filter="url(#lsoft)">0.5</text>
<text x="394.50" y="122.58" font-size="4.5" text-anchor="middle" font-weight="bold" fill="#111" fill-opacity="0.85" filter="url(#lsoft)">0.6</text>
<text x="401.50" y="103.58" font-size="4.5" text-anchor="middle" font-weight="bold" fill="#111" fill-opacity="0.85" filter="url(#lsoft)">0.7</text>
<text x="409.50" y="85.58" font-size="4.5" text-anchor="middle" font-weight="bold" fill="#111" fill-opacity="0.85" filter="url(#lsoft)">0.8</text>
<text x="417.80" y="68.08" font-size="4.5" text-anchor="middle" font-weight="bold" fill="#111" fill-opacity="0.85" filter="url(#lsoft)">0.9</text>
<text x="516.50" y="68.08" font-size="4.5" text-anchor="middle" font-weight="bold" fill="#111" fill-opacity="0.85" filter="url(#lsoft)">0.9</text>
<text x="531.50" y="85.58" font-size="4.5" text-anchor="middle" font-weight="bold" fill="#111" fill-opacity="0.85" filter="url(#lsoft)">0.8</text>
<text x="546.00" y="107.58" font-size="4.5" text-anchor="middle" font-weight="bold" fill="#111" fill-opacity="0.85" filter="url(#lsoft)">0.7</text>
<text x="560.50" y="93.58" font-size="4.5" text-anchor="middle" font-weight="bold" fill="#111" fill-opacity="0.85" filter="url(#lsoft)">0.6</text>
<text x="575.50" y="89.08" font-size="4.5" text-anchor="middle" font-weight="bold" fill="#111" fill-opacity="0.85" filter="url(#lsoft)">0.5</text>
<text x="588.50" y="81.08" font-size="4.5" text-anchor="middle" font-weight="bold" fill="#111" fill-opacity="0.85" filter="url(#lsoft)">0.4</text>
<text x="357.00" y="151.07" font-size="4.5" text-anchor="middle" font-weight="bold" fill="#111" fill-opacity="0.85" filter="url(#lsoft)">0.3</text>
<g clip-path="url(#cc)"><g filter="url(#soft)">
<path d="M30.30 360.60L30.30 357.60L30.30 352.73L30.30 347.85L30.30 342.98L30.30 338.10L30.30 333.23L30.30 328.35L30.30 323.48L30.30 318.60L30.30 313.73L30.30 308.85L30.30 303.98L30.30 299.10L30.30 294.23L30.30 289.35L30.30 284.48L30.30 279.60L30.30 274.73L30.30 269.85L30.30 264.98L30.30 260.10L30.30 255.22L30.30 250.35L30.30 245.47L30.30 240.60L30.30 237.60L77.05 237.60L77.05 240.60L76.34 245.47L75.64 250.35L74.94 255.22L74.26 260.10L73.59 264.98L72.92 269.85L72.27 274.73L71.63 279.60L70.99 284.48L70.37 289.35L69.75 294.23L69.15 299.10L68.55 303.98L67.97 308.85L67.39 313.73L66.83 318.60L66.27 323.48L65.72 328.35L65.19 333.23L64.66 338.10L64.14 342.98L63.64 347.85L63.14 352.73L62.65 357.60L62.65 360.60Z" fill="#4759df" />
<path d="M62.30 360.60L62.30 357.60L62.79 352.73L63.29 347.85L63.79 342.98L64.31 338.10L64.84 333.23L65.37 328.35L65.92 323.48L66.48 318.60L67.04 313.73L67.62 308.85L68.20 303.98L68.80 299.10L69.40 294.23L70.02 289.35L70.64 284.48L71.28 279.60L71.92 274.73L72.58 269.85L73.24 264.98L73.91 260.10L74.59 255.22L75.29 250.35L75.99 245.47L76.70 240.60L76.70 237.60L80.38 237.60L80.38 240.60L79.78 245.47L79.19 250.35L78.60 255.22L78.01 260.10L77.43 264.98L76.86 269.85L76.30 274.73L75.74 279.60L75.18 284.48L74.63 289.35L74.09 294.23L73.55 299.10L73.02 303.98L72.49 308.85L71.97 313.73L71.46 318.60L70.95 323.48L70.45 328.35L69.95 333.23L69.46 338.10L68.97 342.98L68.49 347.85L68.02 352.73L67.55 357.60L67.55 360.60Z" fill="#5f72e6" />
<path d="M67.20 360.60L67.20 357.60L67.67 352.73L68.14 347.85L68.62 342.98L69.11 338.10L69.60 333.23L70.10 328.35L70.60 323.48L71.11 318.60L71.62 313.73L72.14 308.85L72.67 303.98L73.20 299.10L73.74 294.23L74.28 289.35L74.83 284.48L75.39 279.60L75.95 274.73L76.51 269.85L77.08 264.98L77.66 260.10L78.25 255.22L78.84 250.35L79.43 245.47L80.03 240.60L80.03 237.60L83.72 237.60L83.72 240.60L83.21 245.47L82.70 250.35L82.19 255.22L81.69 260.10L81.19 264.98L80.69 269.85L80.19 274.73L79.70 279.60L79.21 284.48L78.72 289.35L78.23 294.23L77.75 299.10L77.27 303.98L76.79 308.85L76.32 313.73L75.84 318.60L75.37 323.48L74.90 328.35L74.44 333.23L73.98 338.10L73.52 342.98L73.06 347.85L72.60 352.73L72.15 357.60L72.15 360.60Z" fill="#798aeb" />
<path d="M71.80 360.60L71.80 357.60L72.25 352.73L72.71 347.85L73.17 342.98L73.63 338.10L74.09 333.23L74.55 328.35L75.02 323.48L75.49 318.60L75.97 313.73L76.44 308.85L76.92 303.98L77.40 299.10L77.88 294.23L78.37 289.35L78.86 284.48L79.35 279.60L79.84 274.73L80.34 269.85L80.84 264.98L81.34 260.10L81.84 255.22L82.35 250.35L82.86 245.47L83.37 240.60L83.37 237.60L87.05 237.60L87.05 240.60L86.56 245.47L86.07 250.35L85.58 255.22L85.09 260.10L84.61 264.98L84.14 269.85L83.66 274.73L83.19 279.60L82.73 284.48L82.27 289.35L81.81 294.23L81.35 299.10L80.90 303.98L80.45 308.85L80.00 313.73L79.56 318.60L79.12 323.48L78.69 328.35L78.26 333.23L77.83 338.10L77.40 342.98L76.98 347.85L76.56 352.73L76.15 357.60L76.15 360.60Z" fill="#93a2f0" />
<path d="M75.80 360.60L75.80 357.60L76.21 352.73L76.63 347.85L77.05 342.98L77.48 338.10L77.91 333.23L78.34 328.35L78.77 323.48L79.21 318.60L79.65 313.73L80.10 308.85L80.55 303.98L81.00 299.10L81.46 294.23L81.92 289.35L82.38 284.48L82.84 279.60L83.31 274.73L83.79 269.85L84.26 264.98L84.74 260.10L85.23 255.22L85.72 250.35L86.21 245.47L86.70 240.60L86.70 237.60L90.38 237.60L90.38 240.60L89.85 245.47L89.33 250.35L88.82 255.22L88.31 260.10L87.82 264.98L87.33 269.85L86.84 274.73L86.37 279.60L85.90 284.48L85.44 289.35L84.99 294.23L84.55 299.10L84.12 303.98L83.69 308.85L83.27 313.73L82.86 318.60L82.45 323.48L82.06 328.35L81.67 333.23L81.29 338.10L80.92 342.98L80.55 347.85L80.20 352.73L79.85 357.60L79.85 360.60Z" fill="#aeb9f5" />
<path d="M79.50 360.60L79.50 357.60L79.85 352.73L80.20 347.85L80.57 342.98L80.94 338.10L81.32 333.23L81.71 328.35L82.10 323.48L82.51 318.60L82.92 313.73L83.34 308.85L83.77 303.98L84.20 299.10L84.64 294.23L85.09 289.35L85.55 284.48L86.02 279.60L86.49 274.73L86.98 269.85L87.47 264.98L87.96 260.10L88.47 255.22L88.98 250.35L89.50 245.47L90.03 240.60L90.03 237.60L93.72 237.60L93.72 240.60L93.14 245.47L92.57 250.35L92.01 255.22L91.46 260.10L90.93 264.98L90.41 269.85L89.90 274.73L89.41 279.60L88.93 284.48L88.46 289.35L88.00 294.23L87.55 299.10L87.12 303.98L86.69 308.85L86.28 313.73L85.89 318.60L85.50 323.48L85.13 328.35L84.77 333.23L84.42 338.10L84.08 342.98L83.76 347.85L83.45 352.73L83.15 357.60L83.15 360.60Z" fill="#c9d1f9" />
<path d="M82.80 360.60L82.80 357.60L83.10 352.73L83.41 347.85L83.73 342.98L84.07 338.10L84.42 333.23L84.78 328.35L85.15 323.48L85.54 318.60L85.93 313.73L86.34 308.85L86.77 303.98L87.20 299.10L87.65 294.23L88.11 289.35L88.58 284.48L89.06 279.60L89.55 274.73L90.06 269.85L90.58 264.98L91.11 260.10L91.66 255.22L92.22 250.35L92.79 245.47L93.37 240.60L93.37 237.60L97.05 237.60L97.05 240.60L96.42 245.47L95.81 250.35L95.21 255.22L94.63 260.10L94.06 264.98L93.51 269.85L92.98 274.73L92.46 279.60L91.96 284.48L91.47 289.35L91.00 294.23L90.55 299.10L90.11 303.98L89.69 308.85L89.28 313.73L88.89 318.60L88.52 323.48L88.16 328.35L87.82 333.23L87.49 338.10L87.18 342.98L86.89 347.85L86.61 352.73L86.35 357.60L86.35 360.60Z" fill="#e4e8fd" />
<path d="M86.00 360.60L86.00 357.60L86.26 352.73L86.54 347.85L86.83 342.98L87.14 338.10L87.47 333.23L87.81 328.35L88.17 323.48L88.54 318.60L88.93 313.73L89.34 308.85L89.76 303.98L90.20 299.10L90.65 294.23L91.12 289.35L91.61 284.48L92.11 279.60L92.63 274.73L93.16 269.85L93.71 264.98L94.28 260.10L94.86 255.22L95.46 250.35L96.07 245.47L96.70 240.60L96.70 237.60L98.76 237.60L98.76 240.60L98.12 245.47L97.50 250.35L96.89 255.22L96.30 260.10L95.72 264.98L95.17 269.85L94.63 274.73L94.10 279.60L93.60 284.48L93.11 289.35L92.63 294.23L92.17 299.10L91.73 303.98L91.31 308.85L90.90 313.73L90.51 318.60L90.13 323.48L89.78 328.35L89.43 333.23L89.11 338.10L88.80 342.98L88.51 347.85L88.23 352.73L87.97 357.60L87.97 360.60Z" fill="#f2f4fe" />
<path d="M87.62 360.60L87.62 357.60L87.88 352.73L88.16 347.85L88.45 342.98L88.76 338.10L89.08 333.23L89.43 328.35L89.78 323.48L90.16 318.60L90.55 313.73L90.96 308.85L91.38 303.98L91.82 299.10L92.28 294.23L92.76 289.35L93.25 284.48L93.75 279.60L94.28 274.73L94.82 269.85L95.37 264.98L95.95 260.10L96.54 255.22L97.15 250.35L97.77 245.47L98.41 240.60L98.41 237.60L101.44 237.60L101.44 240.60L100.79 245.47L100.15 250.35L99.53 255.22L98.92 260.10L98.34 264.98L97.77 269.85L97.22 274.73L96.69 279.60L96.17 284.48L95.67 289.35L95.19 294.23L94.73 299.10L94.28 303.98L93.85 308.85L93.44 313.73L93.05 318.60L92.67 323.48L92.31 328.35L91.97 333.23L91.65 338.10L91.34 342.98L91.05 347.85L90.78 352.73L90.53 357.60L90.53 360.60Z" fill="#ffffff" />
<path d="M90.18 360.60L90.18 357.60L90.43 352.73L90.70 347.85L90.99 342.98L91.30 338.10L91.62 333.23L91.96 328.35L92.32 323.48L92.70 318.60L93.09 313.73L93.50 308.85L93.93 303.98L94.38 299.10L94.84 294.23L95.32 289.35L95.82 284.48L96.34 279.60L96.87 274.73L97.42 269.85L97.99 264.98L98.57 260.10L99.18 255.22L99.80 250.35L100.44 245.47L101.09 240.60L101.09 237.60L103.15 237.60L103.15 240.60L102.48 245.47L101.84 250.35L101.21 255.22L100.59 260.10L100.00 264.98L99.42 269.85L98.87 274.73L98.33 279.60L97.81 284.48L97.30 289.35L96.82 294.23L96.35 299.10L95.90 303.98L95.47 308.85L95.06 313.73L94.66 318.60L94.28 323.48L93.92 328.35L93.58 333.23L93.26 338.10L92.96 342.98L92.67 347.85L92.40 352.73L92.15 357.60L92.15 360.60Z" fill="#ffeeee" />
<path d="M91.80 360.60L91.80 357.60L92.05 352.73L92.32 347.85L92.61 342.98L92.91 338.10L93.23 333.23L93.58 328.35L93.93 323.48L94.31 318.60L94.71 313.73L95.12 308.85L95.55 303.98L96.00 299.10L96.47 294.23L96.95 289.35L97.46 284.48L97.98 279.60L98.52 274.73L99.08 269.85L99.65 264.98L100.24 260.10L100.86 255.22L101.49 250.35L102.13 245.47L102.80 240.60L102.80 237.60L105.21 237.60L105.21 240.60L104.52 245.47L103.86 250.35L103.21 255.22L102.59 260.10L101.98 264.98L101.39 269.85L100.83 274.73L100.28 279.60L99.75 284.48L99.24 289.35L98.75 294.23L98.28 299.10L97.83 303.98L97.39 308.85L96.98 313.73L96.59 318.60L96.21 323.48L95.86 328.35L95.53 333.23L95.21 338.10L94.91 342.98L94.64 347.85L94.38 352.73L94.14 357.60L94.14 360.60Z" fill="#ffdedc" />
<path d="M93.79 360.60L93.79 357.60L94.03 352.73L94.29 347.85L94.56 342.98L94.86 338.10L95.18 333.23L95.51 328.35L95.86 323.48L96.24 318.60L96.63 313.73L97.04 308.85L97.48 303.98L97.93 299.10L98.40 294.23L98.89 289.35L99.40 284.48L99.93 279.60L100.48 274.73L101.04 269.85L101.63 264.98L102.24 260.10L102.86 255.22L103.51 250.35L104.17 245.47L104.86 240.60L104.86 237.60L107.30 237.60L107.30 240.60L106.60 245.47L105.91 250.35L105.25 255.22L104.61 260.10L103.99 264.98L103.39 269.85L102.81 274.73L102.26 279.60L101.72 284.48L101.20 289.35L100.71 294.23L100.23 299.10L99.78 303.98L99.35 308.85L98.94 313.73L98.54 318.60L98.17 323.48L97.83 328.35L97.50 333.23L97.19 338.10L96.90 342.98L96.64 347.85L96.39 352.73L96.17 357.60L96.17 360.60Z" fill="#fdcbc9" />
<path d="M95.82 360.60L95.82 357.60L96.04 352.73L96.29 347.85L96.55 342.98L96.84 338.10L97.15 333.23L97.48 328.35L97.82 323.48L98.19 318.60L98.59 313.73L99.00 308.85L99.43 303.98L99.88 299.10L100.36 294.23L100.85 289.35L101.37 284.48L101.91 279.60L102.46 274.73L103.04 269.85L103.64 264.98L104.26 260.10L104.90 255.22L105.56 250.35L106.25 245.47L106.95 240.60L106.95 237.60L109.17 237.60L109.17 240.60L108.45 245.47L107.75 250.35L107.08 255.22L106.42 260.10L105.79 264.98L105.18 269.85L104.59 274.73L104.03 279.60L103.48 284.48L102.96 289.35L102.46 294.23L101.99 299.10L101.53 303.98L101.10 308.85L100.69 313.73L100.30 318.60L99.93 323.48L99.58 328.35L99.26 333.23L98.96 338.10L98.68 342.98L98.43 347.85L98.19 352.73L97.98 357.60L97.98 360.60Z" fill="#fab8b6" />
<path d="M97.63 360.60L97.63 357.60L97.84 352.73L98.08 347.85L98.33 342.98L98.61 338.10L98.91 333.23L99.23 328.35L99.58 323.48L99.95 318.60L100.34 313.73L100.75 308.85L101.18 303.98L101.64 299.10L102.11 294.23L102.61 289.35L103.13 284.48L103.68 279.60L104.24 274.73L104.83 269.85L105.44 264.98L106.07 260.10L106.73 255.22L107.40 250.35L108.10 245.47L108.82 240.60L108.82 237.60L111.04 237.60L111.04 240.60L110.31 245.47L109.59 250.35L108.90 255.22L108.24 260.10L107.59 264.98L106.97 269.85L106.37 274.73L105.80 279.60L105.25 284.48L104.72 289.35L104.22 294.23L103.74 299.10L103.28 303.98L102.85 308.85L102.44 313.73L102.05 318.60L101.68 323.48L101.34 328.35L101.03 333.23L100.73 338.10L100.46 342.98L100.22 347.85L99.99 352.73L99.79 357.60L99.79 360.60Z" fill="#f8a6a4" />
<path d="M99.44 360.60L99.44 357.60L99.64 352.73L99.87 347.85L100.11 342.98L100.38 338.10L100.68 333.23L100.99 328.35L101.33 323.48L101.70 318.60L102.09 313.73L102.50 308.85L102.93 303.98L103.39 299.10L103.87 294.23L104.37 289.35L104.90 284.48L105.45 279.60L106.02 274.73L106.62 269.85L107.24 264.98L107.89 260.10L108.55 255.22L109.24 250.35L109.96 245.47L110.69 240.60L110.69 237.60L113.91 237.60L113.91 240.60L113.15 245.47L112.41 250.35L111.70 255.22L111.01 260.10L110.35 264.98L109.71 269.85L109.10 274.73L108.52 279.60L107.96 284.48L107.42 289.35L106.91 294.23L106.42 299.10L105.96 303.98L105.53 308.85L105.12 313.73L104.74 318.60L104.38 323.48L104.04 328.35L103.73 333.23L103.45 338.10L103.19 342.98L102.96 347.85L102.75 352.73L102.57 357.60L102.57 360.60Z" fill="#f69391" />
<path d="M102.22 360.60L102.22 357.60L102.40 352.73L102.61 347.85L102.84 342.98L103.10 338.10L103.38 333.23L103.69 328.35L104.03 323.48L104.39 318.60L104.77 313.73L105.18 308.85L105.61 303.98L106.07 299.10L106.56 294.23L107.07 289.35L107.61 284.48L108.17 279.60L108.75 274.73L109.36 269.85L110.00 264.98L110.66 260.10L111.35 255.22L112.06 250.35L112.80 245.47L113.56 240.60L113.56 237.60L116.82 237.60L116.82 240.60L116.03 245.47L115.26 250.35L114.53 255.22L113.82 260.10L113.14 264.98L112.49 269.85L111.86 274.73L111.26 279.60L110.69 284.48L110.15 289.35L109.63 294.23L109.14 299.10L108.68 303.98L108.24 308.85L107.83 313.73L107.45 318.60L107.10 323.48L106.77 328.35L106.47 333.23L106.20 338.10L105.95 342.98L105.73 347.85L105.54 352.73L105.38 357.60L105.38 360.60Z" fill="#f3807e" />
<path d="M105.03 360.60L105.03 357.60L105.19 352.73L105.38 347.85L105.60 342.98L105.85 338.10L106.12 333.23L106.42 328.35L106.75 323.48L107.10 318.60L107.48 313.73L107.89 308.85L108.33 303.98L108.79 299.10L109.28 294.23L109.80 289.35L110.34 284.48L110.91 279.60L111.51 274.73L112.14 269.85L112.79 264.98L113.47 260.10L114.18 255.22L114.91 250.35L115.68 245.47L116.47 240.60L116.47 237.60L119.06 237.60L119.06 240.60L118.25 245.47L117.47 250.35L116.72 255.22L116.00 260.10L115.30 264.98L114.64 269.85L114.00 274.73L113.39 279.60L112.81 284.48L112.26 289.35L111.74 294.23L111.24 299.10L110.78 303.98L110.34 308.85L109.93 313.73L109.55 318.60L109.20 323.48L108.88 328.35L108.59 333.23L108.32 338.10L108.09 342.98L107.88 347.85L107.70 352.73L107.55 357.60L107.55 360.60Z" fill="#f16e6b" />
<path d="M107.20 360.60L107.20 357.60L107.35 352.73L107.53 347.85L107.74 342.98L107.97 338.10L108.24 333.23L108.53 328.35L108.85 323.48L109.20 318.60L109.58 313.73L109.99 308.85L110.43 303.98L110.89 299.10L111.39 294.23L111.91 289.35L112.46 284.48L113.04 279.60L113.65 274.73L114.29 269.85L114.95 264.98L115.65 260.10L116.37 255.22L117.12 250.35L117.90 245.47L118.71 240.60L118.71 237.60L121.37 237.60L121.37 240.60L120.54 245.47L119.74 250.35L118.97 255.22L118.23 260.10L117.52 264.98L116.84 269.85L116.19 274.73L115.58 279.60L114.99 284.48L114.43 289.35L113.90 294.23L113.40 299.10L112.94 303.98L112.50 308.85L112.09 313.73L111.71 318.60L111.37 323.48L111.05 328.35L110.76 333.23L110.51 338.10L110.28 342.98L110.09 347.85L109.92 352.73L109.79 357.60L109.79 360.60Z" fill="#ef5b58" />
<path d="M109.44 360.60L109.44 357.60L109.57 352.73L109.74 347.85L109.93 342.98L110.16 338.10L110.41 333.23L110.70 328.35L111.02 323.48L111.36 318.60L111.74 313.73L112.15 308.85L112.59 303.98L113.05 299.10L113.55 294.23L114.08 289.35L114.64 284.48L115.23 279.60L115.84 274.73L116.49 269.85L117.17 264.98L117.88 260.10L118.62 255.22L119.39 250.35L120.19 245.47L121.02 240.60L121.02 237.60L126.86 237.60L126.86 240.60L125.98 245.47L125.14 250.35L124.32 255.22L123.55 260.10L122.80 264.98L122.09 269.85L121.42 274.73L120.77 279.60L120.16 284.48L119.59 289.35L119.05 294.23L118.54 299.10L118.07 303.98L117.63 308.85L117.22 313.73L116.85 318.60L116.52 323.48L116.21 328.35L115.94 333.23L115.71 338.10L115.50 342.98L115.34 347.85L115.20 352.73L115.10 357.60L115.10 360.60Z" fill="#ec4846" />
<path d="M114.75 360.60L114.75 357.60L114.85 352.73L114.99 347.85L115.15 342.98L115.36 338.10L115.59 333.23L115.86 328.35L116.17 323.48L116.50 318.60L116.87 313.73L117.28 308.85L117.72 303.98L118.19 299.10L118.70 294.23L119.24 289.35L119.81 284.48L120.42 279.60L121.07 274.73L121.74 269.85L122.45 264.98L123.20 260.10L123.97 255.22L124.79 250.35L125.63 245.47L126.51 240.60L126.51 237.60L134.35 237.60L134.35 240.60L133.40 245.47L132.49 250.35L131.62 255.22L130.79 260.10L130.00 264.98L129.25 269.85L128.54 274.73L127.86 279.60L127.22 284.48L126.63 289.35L126.07 294.23L125.55 299.10L125.07 303.98L124.63 308.85L124.23 313.73L123.86 318.60L123.54 323.48L123.25 328.35L123.00 333.23L122.79 338.10L122.62 342.98L122.49 347.85L122.40 352.73L122.35 357.60L122.35 360.60Z" fill="#ea3633" />
<path d="M122.00 360.60L122.00 357.60L122.05 352.73L122.14 347.85L122.27 342.98L122.44 338.10L122.65 333.23L122.90 328.35L123.19 323.48L123.51 318.60L123.88 313.73L124.28 308.85L124.72 303.98L125.20 299.10L125.72 294.23L126.28 289.35L126.88 284.48L127.51 279.60L128.19 274.73L128.90 269.85L129.65 264.98L130.44 260.10L131.28 255.22L132.14 250.35L133.05 245.47L134.00 240.60L134.00 237.60L168.35 237.60L168.35 240.60L169.05 245.47L169.72 250.35L170.36 255.22L170.96 260.10L171.53 264.98L172.08 269.85L172.58 274.73L173.06 279.60L173.51 284.48L173.92 289.35L174.30 294.23L174.65 299.10L174.97 303.98L175.25 308.85L175.51 313.73L175.73 318.60L175.92 323.48L176.08 328.35L176.20 333.23L176.29 338.10L176.36 342.98L176.39 347.85L176.38 352.73L176.35 357.60L176.35 360.60Z" fill="#e92e2b" />
<path d="M176.00 360.60L176.00 357.60L176.03 352.73L176.04 347.85L176.01 342.98L175.94 338.10L175.85 333.23L175.73 328.35L175.57 323.48L175.38 318.60L175.16 313.73L174.90 308.85L174.62 303.98L174.30 299.10L173.95 294.23L173.57 289.35L173.16 284.48L172.71 279.60L172.23 274.73L171.73 269.85L171.18 264.98L170.61 260.10L170.01 255.22L169.37 250.35L168.70 245.47L168.00 240.60L168.00 237.60L176.67 237.60L176.67 240.60L177.36 245.47L178.03 250.35L178.66 255.22L179.25 260.10L179.82 264.98L180.35 269.85L180.85 274.73L181.32 279.60L181.75 284.48L182.16 289.35L182.53 294.23L182.87 299.10L183.17 303.98L183.45 308.85L183.69 313.73L183.90 318.60L184.07 323.48L184.22 328.35L184.33 333.23L184.41 338.10L184.46 342.98L184.48 347.85L184.46 352.73L184.41 357.60L184.41 360.60Z" fill="#ea3633" />
<path d="M184.06 360.60L184.06 357.60L184.11 352.73L184.13 347.85L184.11 342.98L184.06 338.10L183.98 333.23L183.87 328.35L183.72 323.48L183.55 318.60L183.34 313.73L183.10 308.85L182.82 303.98L182.52 299.10L182.18 294.23L181.81 289.35L181.40 284.48L180.97 279.60L180.50 274.73L180.00 269.85L179.47 264.98L178.90 260.10L178.31 255.22L177.68 250.35L177.01 245.47L176.32 240.60L176.32 237.60L183.84 237.60L183.84 240.60L184.53 245.47L185.18 250.35L185.80 255.22L186.40 260.10L186.95 264.98L187.48 269.85L187.97 274.73L188.43 279.60L188.86 284.48L189.25 289.35L189.61 294.23L189.94 299.10L190.24 303.98L190.51 308.85L190.74 313.73L190.94 318.60L191.10 323.48L191.24 328.35L191.34 333.23L191.41 338.10L191.44 342.98L191.45 347.85L191.42 352.73L191.35 357.60L191.35 360.60Z" fill="#ec4846" />
<path d="M191.00 360.60L191.00 357.60L191.07 352.73L191.10 347.85L191.09 342.98L191.06 338.10L190.99 333.23L190.89 328.35L190.75 323.48L190.59 318.60L190.39 313.73L190.16 308.85L189.89 303.98L189.59 299.10L189.26 294.23L188.90 289.35L188.51 284.48L188.08 279.60L187.62 274.73L187.13 269.85L186.60 264.98L186.05 260.10L185.45 255.22L184.83 250.35L184.18 245.47L183.49 240.60L183.49 237.60L189.79 237.60L189.79 240.60L190.47 245.47L191.12 250.35L191.74 255.22L192.33 260.10L192.88 264.98L193.40 269.85L193.88 274.73L194.34 279.60L194.76 284.48L195.15 289.35L195.50 294.23L195.82 299.10L196.11 303.98L196.37 308.85L196.59 313.73L196.78 318.60L196.94 323.48L197.06 328.35L197.15 333.23L197.21 338.10L197.24 342.98L197.23 347.85L197.19 352.73L197.12 357.60L197.12 360.60Z" fill="#ef5b58" />
<path d="M196.77 360.60L196.77 357.60L196.84 352.73L196.88 347.85L196.89 342.98L196.86 338.10L196.80 333.23L196.71 328.35L196.59 323.48L196.43 318.60L196.24 313.73L196.02 308.85L195.76 303.98L195.47 299.10L195.15 294.23L194.80 289.35L194.41 284.48L193.99 279.60L193.53 274.73L193.05 269.85L192.53 264.98L191.98 260.10L191.39 255.22L190.77 250.35L190.12 245.47L189.44 240.60L189.44 237.60L195.61 237.60L195.61 240.60L196.29 245.47L196.94 250.35L197.55 255.22L198.13 260.10L198.68 264.98L199.19 269.85L199.67 274.73L200.12 279.60L200.53 284.48L200.91 289.35L201.26 294.23L201.57 299.10L201.85 303.98L202.10 308.85L202.32 313.73L202.50 318.60L202.65 323.48L202.76 328.35L202.85 333.23L202.90 338.10L202.91 342.98L202.90 347.85L202.85 352.73L202.76 357.60L202.76 360.60Z" fill="#f16e6b" />
<path d="M202.41 360.60L202.41 357.60L202.50 352.73L202.55 347.85L202.56 342.98L202.55 338.10L202.50 333.23L202.41 328.35L202.30 323.48L202.15 318.60L201.97 313.73L201.75 308.85L201.50 303.98L201.22 299.10L200.91 294.23L200.56 289.35L200.18 284.48L199.77 279.60L199.32 274.73L198.84 269.85L198.33 264.98L197.78 260.10L197.20 255.22L196.59 250.35L195.94 245.47L195.26 240.60L195.26 237.60L202.27 237.60L202.27 240.60L202.94 245.47L203.58 250.35L204.19 255.22L204.76 260.10L205.30 264.98L205.81 269.85L206.28 274.73L206.72 279.60L207.13 284.48L207.50 289.35L207.84 294.23L208.15 299.10L208.42 303.98L208.66 308.85L208.86 313.73L209.04 318.60L209.17 323.48L209.28 328.35L209.35 333.23L209.39 338.10L209.40 342.98L209.37 347.85L209.31 352.73L209.21 357.60L209.21 360.60Z" fill="#f3807e" />
<path d="M208.86 360.60L208.86 357.60L208.96 352.73L209.02 347.85L209.05 342.98L209.04 338.10L209.00 333.23L208.93 328.35L208.82 323.48L208.69 318.60L208.51 313.73L208.31 308.85L208.07 303.98L207.80 299.10L207.49 294.23L207.15 289.35L206.78 284.48L206.37 279.60L205.93 274.73L205.46 269.85L204.95 264.98L204.41 260.10L203.84 255.22L203.23 250.35L202.59 245.47L201.92 240.60L201.92 237.60L208.67 237.60L208.67 240.60L209.34 245.47L209.97 250.35L210.57 255.22L211.14 260.10L211.67 264.98L212.17 269.85L212.64 274.73L213.07 279.60L213.47 284.48L213.84 289.35L214.17 294.23L214.47 299.10L214.73 303.98L214.96 308.85L215.16 313.73L215.32 318.60L215.45 323.48L215.54 328.35L215.61 333.23L215.63 338.10L215.63 342.98L215.59 347.85L215.52 352.73L215.41 357.60L215.41 360.60Z" fill="#f69391" />
<path d="M215.06 360.60L215.06 357.60L215.17 352.73L215.24 347.85L215.28 342.98L215.28 338.10L215.26 333.23L215.19 328.35L215.10 323.48L214.97 318.60L214.81 313.73L214.61 308.85L214.38 303.98L214.12 299.10L213.82 294.23L213.49 289.35L213.12 284.48L212.72 279.60L212.29 274.73L211.82 269.85L211.32 264.98L210.79 260.10L210.22 255.22L209.62 250.35L208.99 245.47L208.32 240.60L208.32 237.60L214.75 237.60L214.75 240.60L215.41 245.47L216.04 250.35L216.64 255.22L217.20 260.10L217.73 264.98L218.22 269.85L218.68 274.73L219.11 279.60L219.50 284.48L219.86 289.35L220.18 294.23L220.47 299.10L220.73 303.98L220.95 308.85L221.14 313.73L221.29 318.60L221.41 323.48L221.50 328.35L221.55 333.23L221.57 338.10L221.55 342.98L221.50 347.85L221.42 352.73L221.30 357.60L221.30 360.60Z" fill="#f8a6a4" />
<path d="M220.95 360.60L220.95 357.60L221.07 352.73L221.15 347.85L221.20 342.98L221.22 338.10L221.20 333.23L221.15 328.35L221.06 323.48L220.94 318.60L220.79 313.73L220.60 308.85L220.38 303.98L220.12 299.10L219.83 294.23L219.51 289.35L219.15 284.48L218.76 279.60L218.33 274.73L217.87 269.85L217.38 264.98L216.85 260.10L216.29 255.22L215.69 250.35L215.06 245.47L214.40 240.60L214.40 237.60L220.83 237.60L220.83 240.60L221.49 245.47L222.11 250.35L222.70 255.22L223.26 260.10L223.78 264.98L224.27 269.85L224.72 274.73L225.14 279.60L225.52 284.48L225.88 289.35L226.19 294.23L226.47 299.10L226.72 303.98L226.94 308.85L227.12 313.73L227.26 318.60L227.37 323.48L227.45 328.35L227.49 333.23L227.50 338.10L227.47 342.98L227.41 347.85L227.32 352.73L227.19 357.60L227.19 360.60Z" fill="#fab8b6" />
<path d="M226.84 360.60L226.84 357.60L226.97 352.73L227.06 347.85L227.12 342.98L227.15 338.10L227.14 333.23L227.10 328.35L227.02 323.48L226.91 318.60L226.77 313.73L226.59 308.85L226.37 303.98L226.12 299.10L225.84 294.23L225.53 289.35L225.17 284.48L224.79 279.60L224.37 274.73L223.92 269.85L223.43 264.98L222.91 260.10L222.35 255.22L221.76 250.35L221.14 245.47L220.48 240.60L220.48 237.60L226.59 237.60L226.59 240.60L227.24 245.47L227.86 250.35L228.45 255.22L229.00 260.10L229.51 264.98L230.00 269.85L230.44 274.73L230.86 279.60L231.23 284.48L231.58 289.35L231.89 294.23L232.16 299.10L232.40 303.98L232.61 308.85L232.78 313.73L232.92 318.60L233.02 323.48L233.09 328.35L233.12 333.23L233.12 338.10L233.08 342.98L233.01 347.85L232.91 352.73L232.77 357.60L232.77 360.60Z" fill="#fdcbc9" />
<path d="M232.42 360.60L232.42 357.60L232.56 352.73L232.66 347.85L232.73 342.98L232.77 338.10L232.77 333.23L232.74 328.35L232.67 323.48L232.57 318.60L232.43 313.73L232.26 308.85L232.05 303.98L231.81 299.10L231.54 294.23L231.23 289.35L230.88 284.48L230.51 279.60L230.09 274.73L229.65 269.85L229.16 264.98L228.65 260.10L228.10 255.22L227.51 250.35L226.89 245.47L226.24 240.60L226.24 237.60L232.35 237.60L232.35 240.60L233.00 245.47L233.61 250.35L234.19 255.22L234.74 260.10L235.25 264.98L235.72 269.85L236.17 274.73L236.57 279.60L236.94 284.48L237.28 289.35L237.58 294.23L237.85 299.10L238.08 303.98L238.28 308.85L238.44 313.73L238.57 318.60L238.67 323.48L238.72 328.35L238.75 333.23L238.74 338.10L238.69 342.98L238.61 347.85L238.50 352.73L238.35 357.60L238.35 360.60Z" fill="#ffdedc" />
<path d="M238.00 360.60L238.00 357.60L238.15 352.73L238.26 347.85L238.34 342.98L238.39 338.10L238.40 333.23L238.38 328.35L238.32 323.48L238.22 318.60L238.09 313.73L237.93 308.85L237.73 303.98L237.50 299.10L237.23 294.23L236.93 289.35L236.59 284.48L236.22 279.60L235.82 274.73L235.38 269.85L234.90 264.98L234.39 260.10L233.84 255.22L233.26 250.35L232.65 245.47L232.00 240.60L232.00 237.60L235.99 237.60L235.99 240.60L236.63 245.47L237.23 250.35L237.80 255.22L238.33 260.10L238.83 264.98L239.29 269.85L239.72 274.73L240.12 279.60L240.48 284.48L240.80 289.35L241.09 294.23L241.35 299.10L241.57 303.98L241.76 308.85L241.91 313.73L242.03 318.60L242.11 323.48L242.16 328.35L242.17 333.23L242.15 338.10L242.09 342.98L242.00 347.85L241.87 352.73L241.71 357.60L241.71 360.60Z" fill="#ffeeee" />
<path d="M241.36 360.60L241.36 357.60L241.52 352.73L241.65 347.85L241.74 342.98L241.80 338.10L241.82 333.23L241.81 328.35L241.76 323.48L241.68 318.60L241.56 313.73L241.41 308.85L241.22 303.98L241.00 299.10L240.74 294.23L240.45 289.35L240.13 284.48L239.77 279.60L239.37 274.73L238.94 269.85L238.48 264.98L237.98 260.10L237.45 255.22L236.88 250.35L236.28 245.47L235.64 240.60L235.64 237.60L241.71 237.60L241.71 240.60L242.33 245.47L242.91 250.35L243.46 255.22L243.98 260.10L244.46 264.98L244.91 269.85L245.32 274.73L245.69 279.60L246.03 284.48L246.34 289.35L246.61 294.23L246.85 299.10L247.05 303.98L247.22 308.85L247.35 313.73L247.45 318.60L247.52 323.48L247.54 328.35L247.54 333.23L247.50 338.10L247.42 342.98L247.31 347.85L247.17 352.73L246.99 357.60L246.99 360.60Z" fill="#ffffff" />
<path d="M246.64 360.60L246.64 357.60L246.82 352.73L246.96 347.85L247.07 342.98L247.15 338.10L247.19 333.23L247.19 328.35L247.17 323.48L247.10 318.60L247.00 313.73L246.87 308.85L246.70 303.98L246.50 299.10L246.26 294.23L245.99 289.35L245.68 284.48L245.34 279.60L244.97 274.73L244.56 269.85L244.11 264.98L243.63 260.10L243.11 255.22L242.56 250.35L241.98 245.47L241.36 240.60L241.36 237.60L245.35 237.60L245.35 240.60L245.96 245.47L246.53 250.35L247.07 255.22L247.57 260.10L248.04 264.98L248.47 269.85L248.87 274.73L249.24 279.60L249.57 284.48L249.86 289.35L250.12 294.23L250.35 299.10L250.54 303.98L250.70 308.85L250.82 313.73L250.91 318.60L250.96 323.48L250.97 328.35L250.96 333.23L250.91 338.10L250.82 342.98L250.70 347.85L250.54 352.73L250.35 357.60L250.35 360.60Z" fill="#f2f4fe" />
<path d="M250.00 360.60L250.00 357.60L250.19 352.73L250.35 347.85L250.47 342.98L250.56 338.10L250.61 333.23L250.62 328.35L250.61 323.48L250.56 318.60L250.47 313.73L250.35 308.85L250.19 303.98L250.00 299.10L249.77 294.23L249.51 289.35L249.22 284.48L248.89 279.60L248.52 274.73L248.12 269.85L247.69 264.98L247.22 260.10L246.72 255.22L246.18 250.35L245.61 245.47L245.00 240.60L245.00 237.60L251.43 237.60L251.43 240.60L252.00 245.47L252.54 250.35L253.04 255.22L253.51 260.10L253.95 264.98L254.36 269.85L254.73 274.73L255.08 279.60L255.38 284.48L255.66 289.35L255.91 294.23L256.12 299.10L256.30 303.98L256.44 308.85L256.56 313.73L256.64 318.60L256.69 323.48L256.70 328.35L256.69 333.23L256.64 338.10L256.56 342.98L256.44 347.85L256.30 352.73L256.12 357.60L256.12 360.60Z" fill="#e4e8fd" />
<path d="M255.77 360.60L255.77 357.60L255.95 352.73L256.09 347.85L256.21 342.98L256.29 338.10L256.34 333.23L256.35 328.35L256.34 323.48L256.29 318.60L256.21 313.73L256.09 308.85L255.95 303.98L255.77 299.10L255.56 294.23L255.31 289.35L255.03 284.48L254.73 279.60L254.38 274.73L254.01 269.85L253.60 264.98L253.16 260.10L252.69 255.22L252.19 250.35L251.65 245.47L251.08 240.60L251.08 237.60L257.52 237.60L257.52 240.60L258.05 245.47L258.55 250.35L259.02 255.22L259.46 260.10L259.87 264.98L260.25 269.85L260.59 274.73L260.91 279.60L261.20 284.48L261.46 289.35L261.69 294.23L261.88 299.10L262.05 303.98L262.19 308.85L262.29 313.73L262.37 318.60L262.41 323.48L262.43 328.35L262.41 333.23L262.37 338.10L262.29 342.98L262.19 347.85L262.05 352.73L261.88 357.60L261.88 360.60Z" fill="#c9d1f9" />
<path d="M261.53 360.60L261.53 357.60L261.70 352.73L261.84 347.85L261.94 342.98L262.02 338.10L262.06 333.23L262.08 328.35L262.06 323.48L262.02 318.60L261.94 313.73L261.84 308.85L261.70 303.98L261.53 299.10L261.34 294.23L261.11 289.35L260.85 284.48L260.56 279.60L260.24 274.73L259.90 269.85L259.52 264.98L259.11 260.10L258.67 255.22L258.20 250.35L257.70 245.47L257.17 240.60L257.17 237.60L263.60 237.60L263.60 240.60L264.09 245.47L264.56 250.35L264.99 255.22L265.40 260.10L265.78 264.98L266.13 269.85L266.45 274.73L266.75 279.60L267.02 284.48L267.26 289.35L267.47 294.23L267.65 299.10L267.80 303.98L267.93 308.85L268.03 313.73L268.10 318.60L268.14 323.48L268.16 328.35L268.14 333.23L268.10 338.10L268.03 342.98L267.93 347.85L267.80 352.73L267.65 357.60L267.65 360.60Z" fill="#aeb9f5" />
<path d="M267.30 360.60L267.30 357.60L267.45 352.73L267.58 347.85L267.68 342.98L267.75 338.10L267.79 333.23L267.81 328.35L267.79 323.48L267.75 318.60L267.68 313.73L267.58 308.85L267.45 303.98L267.30 299.10L267.12 294.23L266.91 289.35L266.67 284.48L266.40 279.60L266.10 274.73L265.78 269.85L265.43 264.98L265.05 260.10L264.64 255.22L264.21 250.35L263.74 245.47L263.25 240.60L263.25 237.60L269.68 237.60L269.68 240.60L270.14 245.47L270.56 250.35L270.97 255.22L271.34 260.10L271.69 264.98L272.02 269.85L272.31 274.73L272.59 279.60L272.83 284.48L273.05 289.35L273.25 294.23L273.42 299.10L273.56 303.98L273.68 308.85L273.77 313.73L273.83 318.60L273.87 323.48L273.88 328.35L273.87 333.23L273.83 338.10L273.77 342.98L273.68 347.85L273.56 352.73L273.42 357.60L273.42 360.60Z" fill="#93a2f0" />
<path d="M273.07 360.60L273.07 357.60L273.21 352.73L273.33 347.85L273.42 342.98L273.48 338.10L273.52 333.23L273.53 328.35L273.52 323.48L273.48 318.60L273.42 313.73L273.33 308.85L273.21 303.98L273.07 299.10L272.90 294.23L272.70 289.35L272.48 284.48L272.24 279.60L271.96 274.73L271.67 269.85L271.34 264.98L270.99 260.10L270.62 255.22L270.21 250.35L269.79 245.47L269.33 240.60L269.33 237.60L275.77 237.60L275.77 240.60L276.18 245.47L276.57 250.35L276.94 255.22L277.29 260.10L277.61 264.98L277.90 269.85L278.17 274.73L278.42 279.60L278.65 284.48L278.85 289.35L279.03 294.23L279.18 299.10L279.31 303.98L279.42 308.85L279.50 313.73L279.56 318.60L279.60 323.48L279.61 328.35L279.60 333.23L279.56 338.10L279.50 342.98L279.42 347.85L279.31 352.73L279.18 357.60L279.18 360.60Z" fill="#798aeb" />
<path d="M278.83 360.60L278.83 357.60L278.96 352.73L279.07 347.85L279.15 342.98L279.21 338.10L279.25 333.23L279.26 328.35L279.25 323.48L279.21 318.60L279.15 313.73L279.07 308.85L278.96 303.98L278.83 299.10L278.68 294.23L278.50 289.35L278.30 284.48L278.07 279.60L277.82 274.73L277.55 269.85L277.26 264.98L276.94 260.10L276.59 255.22L276.22 250.35L275.83 245.47L275.42 240.60L275.42 237.60L281.85 237.60L281.85 240.60L282.23 245.47L282.58 250.35L282.92 255.22L283.23 260.10L283.52 264.98L283.79 269.85L284.04 274.73L284.26 279.60L284.47 284.48L284.65 289.35L284.81 294.23L284.95 299.10L285.07 303.98L285.17 308.85L285.24 313.73L285.29 318.60L285.33 323.48L285.34 328.35L285.33 333.23L285.29 338.10L285.24 342.98L285.17 347.85L285.07 352.73L284.95 357.60L284.95 360.60Z" fill="#5f72e6" />
<path d="M284.60 360.60L284.60 357.60L284.72 352.73L284.82 347.85L284.89 342.98L284.94 338.10L284.98 333.23L284.99 328.35L284.98 323.48L284.94 318.60L284.89 313.73L284.82 308.85L284.72 303.98L284.60 299.10L284.46 294.23L284.30 289.35L284.12 284.48L283.91 279.60L283.69 274.73L283.44 269.85L283.17 264.98L282.88 260.10L282.57 255.22L282.23 250.35L281.88 245.47L281.50 240.60L281.50 237.60L290.70 237.60L290.70 240.60L290.70 245.47L290.70 250.35L290.70 255.22L290.70 260.10L290.70 264.98L290.70 269.85L290.70 274.73L290.70 279.60L290.70 284.48L290.70 289.35L290.70 294.23L290.70 299.10L290.70 303.98L290.70 308.85L290.70 313.73L290.70 318.60L290.70 323.48L290.70 328.35L290.70 333.23L290.70 338.10L290.70 342.98L290.70 347.85L290.70 352.73L290.70 357.60L290.70 360.60Z" fill="#4759df" />
<path d="M34.80 236.50L34.80 239.50L35.34 244.96L35.89 250.27L36.45 255.44L37.03 260.46L37.62 265.33L38.22 270.04L38.84 274.58L39.48 278.95L40.14 283.14L40.82 287.14L41.52 290.95L42.26 294.56L43.03 297.94L43.84 301.09L44.70 303.99L45.63 306.61L46.65 308.92L47.81 310.87L49.22 312.38L51.80 313.20L52.88 312.38L53.95 310.87L55.01 308.92L56.07 306.61L57.12 303.99L58.18 301.09L59.23 297.94L60.28 294.56L61.33 290.95L62.37 287.14L63.42 283.14L64.46 278.95L65.51 274.58L66.55 270.04L67.60 265.33L68.64 260.46L69.68 255.44L70.72 250.27L71.76 244.96L72.80 239.50L72.80 236.50Z" fill="#3344d8" />
<path d="M43.50 236.50L43.50 239.50L43.93 241.91L44.36 244.25L44.80 246.53L45.24 248.74L45.69 250.89L46.15 252.97L46.62 254.97L47.10 256.90L47.58 258.74L48.08 260.51L48.59 262.19L49.12 263.78L49.66 265.27L50.22 266.66L50.80 267.94L51.42 269.09L52.08 270.11L52.79 270.97L53.61 271.64L54.80 272.00L56.08 271.64L56.95 270.97L57.72 270.11L58.42 269.09L59.08 267.94L59.70 266.66L60.31 265.27L60.89 263.78L61.45 262.19L61.99 260.51L62.53 258.74L63.05 256.90L63.56 254.97L64.06 252.97L64.55 250.89L65.04 248.74L65.51 246.53L65.98 244.25L66.44 241.91L66.90 239.50L66.90 236.50Z" fill="#212ccb" />
</g></g>
<g clip-path="url(#cc)" filter="url(#lsoft)">
<path d="M62.30 357.60L62.79 352.73L63.29 347.85L63.79 342.98L64.31 338.10L64.84 333.23L65.37 328.35L65.92 323.48L66.48 318.60L67.04 313.73L67.62 308.85L68.20 303.98L68.80 299.10L69.40 294.23L70.02 289.35L70.64 284.48L71.28 279.60L71.92 274.73L72.58 269.85L73.24 264.98L73.91 260.10L74.59 255.22L75.29 250.35L75.99 245.47L76.70 240.60" fill="none" stroke="#200" stroke-width="0.4" stroke-opacity="0.3" stroke-dasharray="2 1.5"/>
<path d="M67.20 357.60L67.67 352.73L68.14 347.85L68.62 342.98L69.11 338.10L69.60 333.23L70.10 328.35L70.60 323.48L71.11 318.60L71.62 313.73L72.14 308.85L72.67 303.98L73.20 299.10L73.74 294.23L74.28 289.35L74.83 284.48L75.39 279.60L75.95 274.73L76.51 269.85L77.08 264.98L77.66 260.10L78.25 255.22L78.84 250.35L79.43 245.47L80.03 240.60" fill="none" stroke="#200" stroke-width="0.4" stroke-opacity="0.3" stroke-dasharray="2 1.5"/>
<path d="M71.80 357.60L72.25 352.73L72.71 347.85L73.17 342.98L73.63 338.10L74.09 333.23L74.55 328.35L75.02 323.48L75.49 318.60L75.97 313.73L76.44 308.85L76.92 303.98L77.40 299.10L77.88 294.23L78.37 289.35L78.86 284.48L79.35 279.60L79.84 274.73L80.34 269.85L80.84 264.98L81.34 260.10L81.84 255.22L82.35 250.35L82.86 245.47L83.37 240.60" fill="none" stroke="#200" stroke-width="0.4" stroke-opacity="0.3" stroke-dasharray="2 1.5"/>
<path d="M75.80 357.60L76.21 352.73L76.63 347.85L77.05 342.98L77.48 338.10L77.91 333.23L78.34 328.35L78.77 323.48L79.21 318.60L79.65 313.73L80.10 308.85L80.55 303.98L81.00 299.10L81.46 294.23L81.92 289.35L82.38 284.48L82.84 279.60L83.31 274.73L83.79 269.85L84.26 264.98L84.74 260.10L85.23 255.22L85.72 250.35L86.21 245.47L86.70 240.60" fill="none" stroke="#200" stroke-width="0.4" stroke-opacity="0.3" stroke-dasharray="2 1.5"/>
<path d="M79.50 357.60L79.85 352.73L80.20 347.85L80.57 342.98L80.94 338.10L81.32 333.23L81.71 328.35L82.10 323.48L82.51 318.60L82.92 313.73L83.34 308.85L83.77 303.98L84.20 299.10L84.64 294.23L85.09 289.35L85.55 284.48L86.02 279.60L86.49 274.73L86.98 269.85L87.47 264.98L87.96 260.10L88.47 255.22L88.98 250.35L89.50 245.47L90.03 240.60" fill="none" stroke="#200" stroke-width="0.4" stroke-opacity="0.3" stroke-dasharray="2 1.5"/>
<path d="M82.80 357.60L83.10 352.73L83.41 347.85L83.73 342.98L84.07 338.10L84.42 333.23L84.78 328.35L85.15 323.48L85.54 318.60L85.93 313.73L86.34 308.85L86.77 303.98L87.20 299.10L87.65 294.23L88.11 289.35L88.58 284.48L89.06 279.60L89.55 274.73L90.06 269.85L90.58 264.98L91.11 260.10L91.66 255.22L92.22 250.35L92.79 245.47L93.37 240.60" fill="none" stroke="#200" stroke-width="0.4" stroke-opacity="0.3" stroke-dasharray="2 1.5"/>
<path d="M86.00 357.60L86.26 352.73L86.54 347.85L86.83 342.98L87.14 338.10L87.47 333.23L87.81 328.35L88.17 323.48L88.54 318.60L88.93 313.73L89.34 308.85L89.76 303.98L90.20 299.10L90.65 294.23L91.12 289.35L91.61 284.48L92.11 279.60L92.63 274.73L93.16 269.85L93.71 264.98L94.28 260.10L94.86 255.22L95.46 250.35L96.07 245.47L96.70 240.60" fill="none" stroke="#200" stroke-width="0.4" stroke-opacity="0.3" stroke-dasharray="2 1.5"/>
<path d="M91.80 357.60L92.05 352.73L92.32 347.85L92.61 342.98L92.91 338.10L93.23 333.23L93.58 328.35L93.93 323.48L94.31 318.60L94.71 313.73L95.12 308.85L95.55 303.98L96.00 299.10L96.47 294.23L96.95 289.35L97.46 284.48L97.98 279.60L98.52 274.73L99.08 269.85L99.65 264.98L100.24 260.10L100.86 255.22L101.49 250.35L102.13 245.47L102.80 240.60" fill="none" stroke="#200" stroke-width="0.4" stroke-opacity="0.3"/>
<path d="M93.79 357.60L94.03 352.73L94.29 347.85L94.56 342.98L94.86 338.10L95.18 333.23L95.51 328.35L95.86 323.48L96.24 318.60L96.63 313.73L97.04 308.85L97.48 303.98L97.93 299.10L98.40 294.23L98.89 289.35L99.40 284.48L99.93 279.60L100.48 274.73L101.04 269.85L101.63 264.98L102.24 260.10L102.86 255.22L103.51 250.35L104.17 245.47L104.86 240.60" fill="none" stroke="#200" stroke-width="0.4" stroke-opacity="0.3"/>
<path d="M95.82 357.60L96.04 352.73L96.29 347.85L96.55 342.98L96.84 338.10L97.15 333.23L97.48 328.35L97.82 323.48L98.19 318.60L98.59 313.73L99.00 308.85L99.43 303.98L99.88 299.10L100.36 294.23L100.85 289.35L101.37 284.48L101.91 279.60L102.46 274.73L103.04 269.85L103.64 264.98L104.26 260.10L104.90 255.22L105.56 250.35L106.25 245.47L106.95 240.60" fill="none" stroke="#200" stroke-width="0.4" stroke-opacity="0.3"/>
<path d="M97.63 357.60L97.84 352.73L98.08 347.85L98.33 342.98L98.61 338.10L98.91 333.23L99.23 328.35L99.58 323.48L99.95 318.60L100.34 313.73L100.75 308.85L101.18 303.98L101.64 299.10L102.11 294.23L102.61 289.35L103.13 284.48L103.68 279.60L104.24 274.73L104.83 269.85L105.44 264.98L106.07 260.10L106.73 255.22L107.40 250.35L108.10 245.47L108.82 240.60" fill="none" stroke="#200" stroke-width="0.4" stroke-opacity="0.3"/>
<path d="M99.44 357.60L99.64 352.73L99.87 347.85L100.11 342.98L100.38 338.10L100.68 333.23L100.99 328.35L101.33 323.48L101.70 318.60L102.09 313.73L102.50 308.85L102.93 303.98L103.39 299.10L103.87 294.23L104.37 289.35L104.90 284.48L105.45 279.60L106.02 274.73L106.62 269.85L107.24 264.98L107.89 260.10L108.55 255.22L109.24 250.35L109.96 245.47L110.69 240.60" fill="none" stroke="#200" stroke-width="0.4" stroke-opacity="0.3"/>
<path d="M102.22 357.60L102.40 352.73L102.61 347.85L102.84 342.98L103.10 338.10L103.38 333.23L103.69 328.35L104.03 323.48L104.39 318.60L104.77 313.73L105.18 308.85L105.61 303.98L106.07 299.10L106.56 294.23L107.07 289.35L107.61 284.48L108.17 279.60L108.75 274.73L109.36 269.85L110.00 264.98L110.66 260.10L111.35 255.22L112.06 250.35L112.80 245.47L113.56 240.60" fill="none" stroke="#200" stroke-width="0.4" stroke-opacity="0.3"/>
<path d="M105.03 357.60L105.19 352.73L105.38 347.85L105.60 342.98L105.85 338.10L106.12 333.23L106.42 328.35L106.75 323.48L107.10 318.60L107.48 313.73L107.89 308.85L108.33 303.98L108.79 299.10L109.28 294.23L109.80 289.35L110.34 284.48L110.91 279.60L111.51 274.73L112.14 269.85L112.79 264.98L113.47 260.10L114.18 255.22L114.91 250.35L115.68 245.47L116.47 240.60" fill="none" stroke="#200" stroke-width="0.4" stroke-opacity="0.3"/>
<path d="M107.20 357.60L107.35 352.73L107.53 347.85L107.74 342.98L107.97 338.10L108.24 333.23L108.53 328.35L108.85 323.48L109.20 318.60L109.58 313.73L109.99 308.85L110.43 303.98L110.89 299.10L111.39 294.23L111.91 289.35L112.46 284.48L113.04 279.60L113.65 274.73L114.29 269.85L114.95 264.98L115.65 260.10L116.37 255.22L117.12 250.35L117.90 245.47L118.71 240.60" fill="none" stroke="#200" stroke-width="0.4" stroke-opacity="0.3"/>
<path d="M109.44 357.60L109.57 352.73L109.74 347.85L109.93 342.98L110.16 338.10L110.41 333.23L110.70 328.35L111.02 323.48L111.36 318.60L111.74 313.73L112.15 308.85L112.59 303.98L113.05 299.10L113.55 294.23L114.08 289.35L114.64 284.48L115.23 279.60L115.84 274.73L116.49 269.85L117.17 264.98L117.88 260.10L118.62 255.22L119.39 250.35L120.19 245.47L121.02 240.60" fill="none" stroke="#200" stroke-width="0.4" stroke-opacity="0.3"/>
<path d="M114.75 357.60L114.85 352.73L114.99 347.85L115.15 342.98L115.36 338.10L115.59 333.23L115.86 328.35L116.17 323.48L116.50 318.60L116.87 313.73L117.28 308.85L117.72 303.98L118.19 299.10L118.70 294.23L119.24 289.35L119.81 284.48L120.42 279.60L121.07 274.73L121.74 269.85L122.45 264.98L123.20 260.10L123.97 255.22L124.79 250.35L125.63 245.47L126.51 240.60" fill="none" stroke="#200" stroke-width="0.4" stroke-opacity="0.3"/>
<path d="M122.00 357.60L122.05 352.73L122.14 347.85L122.27 342.98L122.44 338.10L122.65 333.23L122.90 328.35L123.19 323.48L123.51 318.60L123.88 313.73L124.28 308.85L124.72 303.98L125.20 299.10L125.72 294.23L126.28 289.35L126.88 284.48L127.51 279.60L128.19 274.73L128.90 269.85L129.65 264.98L130.44 260.10L131.28 255.22L132.14 250.35L133.05 245.47L134.00 240.60" fill="none" stroke="#200" stroke-width="0.4" stroke-opacity="0.3"/>
<path d="M176.00 357.60L176.03 352.73L176.04 347.85L176.01 342.98L175.94 338.10L175.85 333.23L175.73 328.35L175.57 323.48L175.38 318.60L175.16 313.73L174.90 308.85L174.62 303.98L174.30 299.10L173.95 294.23L173.57 289.35L173.16 284.48L172.71 279.60L172.23 274.73L171.73 269.85L171.18 264.98L170.61 260.10L170.01 255.22L169.37 250.35L168.70 245.47L168.00 240.60" fill="none" stroke="#200" stroke-width="0.4" stroke-opacity="0.3"/>
<path d="M184.06 357.60L184.11 352.73L184.13 347.85L184.11 342.98L184.06 338.10L183.98 333.23L183.87 328.35L183.72 323.48L183.55 318.60L183.34 313.73L183.10 308.85L182.82 303.98L182.52 299.10L182.18 294.23L181.81 289.35L181.40 284.48L180.97 279.60L180.50 274.73L180.00 269.85L179.47 264.98L178.90 260.10L178.31 255.22L177.68 250.35L177.01 245.47L176.32 240.60" fill="none" stroke="#200" stroke-width="0.4" stroke-opacity="0.3"/>
<path d="M191.00 357.60L191.07 352.73L191.10 347.85L191.09 342.98L191.06 338.10L190.99 333.23L190.89 328.35L190.75 323.48L190.59 318.60L190.39 313.73L190.16 308.85L189.89 303.98L189.59 299.10L189.26 294.23L188.90 289.35L188.51 284.48L188.08 279.60L187.62 274.73L187.13 269.85L186.60 264.98L186.05 260.10L185.45 255.22L184.83 250.35L184.18 245.47L183.49 240.60" fill="none" stroke="#200" stroke-width="0.4" stroke-opacity="0.3"/>
<path d="M196.77 357.60L196.84 352.73L196.88 347.85L196.89 342.98L196.86 338.10L196.80 333.23L196.71 328.35L196.59 323.48L196.43 318.60L196.24 313.73L196.02 308.85L195.76 303.98L195.47 299.10L195.15 294.23L194.80 289.35L194.41 284.48L193.99 279.60L193.53 274.73L193.05 269.85L192.53 264.98L191.98 260.10L191.39 255.22L190.77 250.35L190.12 245.47L189.44 240.60" fill="none" stroke="#200" stroke-width="0.4" stroke-opacity="0.3"/>
<path d="M202.41 357.60L202.50 352.73L202.55 347.85L202.56 342.98L202.55 338.10L202.50 333.23L202.41 328.35L202.30 323.48L202.15 318.60L201.97 313.73L201.75 308.85L201.50 303.98L201.22 299.10L200.91 294.23L200.56 289.35L200.18 284.48L199.77 279.60L199.32 274.73L198.84 269.85L198.33 264.98L197.78 260.10L197.20 255.22L196.59 250.35L195.94 245.47L195.26 240.60" fill="none" stroke="#200" stroke-width="0.4" stroke-opacity="0.3"/>
<path d="M208.86 357.60L208.96 352.73L209.02 347.85L209.05 342.98L209.04 338.10L209.00 333.23L208.93 328.35L208.82 323.48L208.69 318.60L208.51 313.73L208.31 308.85L208.07 303.98L207.80 299.10L207.49 294.23L207.15 289.35L206.78 284.48L206.37 279.60L205.93 274.73L205.46 269.85L204.95 264.98L204.41 260.10L203.84 255.22L203.23 250.35L202.59 245.47L201.92 240.60" fill="none" stroke="#200" stroke-width="0.4" stroke-opacity="0.3"/>
<path d="M215.06 357.60L215.17 352.73L215.24 347.85L215.28 342.98L215.28 338.10L215.26 333.23L215.19 328.35L215.10 323.48L214.97 318.60L214.81 313.73L214.61 308.85L214.38 303.98L214.12 299.10L213.82 294.23L213.49 289.35L213.12 284.48L212.72 279.60L212.29 274.73L211.82 269.85L211.32 264.98L210.79 260.10L210.22 255.22L209.62 250.35L208.99 245.47L208.32 240.60" fill="none" stroke="#200" stroke-width="0.4" stroke-opacity="0.3"/>
<path d="M220.95 357.60L221.07 352.73L221.15 347.85L221.20 342.98L221.22 338.10L221.20 333.23L221.15 328.35L221.06 323.48L220.94 318.60L220.79 313.73L220.60 308.85L220.38 303.98L220.12 299.10L219.83 294.23L219.51 289.35L219.15 284.48L218.76 279.60L218.33 274.73L217.87 269.85L217.38 264.98L216.85 260.10L216.29 255.22L215.69 250.35L215.06 245.47L214.40 240.60" fill="none" stroke="#200" stroke-width="0.4" stroke-opacity="0.3"/>
<path d="M226.84 357.60L226.97 352.73L227.06 347.85L227.12 342.98L227.15 338.10L227.14 333.23L227.10 328.35L227.02 323.48L226.91 318.60L226.77 313.73L226.59 308.85L226.37 303.98L226.12 299.10L225.84 294.23L225.53 289.35L225.17 284.48L224.79 279.60L224.37 274.73L223.92 269.85L223.43 264.98L222.91 260.10L222.35 255.22L221.76 250.35L221.14 245.47L220.48 240.60" fill="none" stroke="#200" stroke-width="0.4" stroke-opacity="0.3"/>
<path d="M232.42 357.60L232.56 352.73L232.66 347.85L232.73 342.98L232.77 338.10L232.77 333.23L232.74 328.35L232.67 323.48L232.57 318.60L232.43 313.73L232.26 308.85L232.05 303.98L231.81 299.10L231.54 294.23L231.23 289.35L230.88 284.48L230.51 279.60L230.09 274.73L229.65 269.85L229.16 264.98L228.65 260.10L228.10 255.22L227.51 250.35L226.89 245.47L226.24 240.60" fill="none" stroke="#200" stroke-width="0.4" stroke-opacity="0.3"/>
<path d="M238.00 357.60L238.15 352.73L238.26 347.85L238.34 342.98L238.39 338.10L238.40 333.23L238.38 328.35L238.32 323.48L238.22 318.60L238.09 313.73L237.93 308.85L237.73 303.98L237.50 299.10L237.23 294.23L236.93 289.35L236.59 284.48L236.22 279.60L235.82 274.73L235.38 269.85L234.90 264.98L234.39 260.10L233.84 255.22L233.26 250.35L232.65 245.47L232.00 240.60" fill="none" stroke="#200" stroke-width="0.4" stroke-opacity="0.3"/>
<path d="M250.00 357.60L250.19 352.73L250.35 347.85L250.47 342.98L250.56 338.10L250.61 333.23L250.62 328.35L250.61 323.48L250.56 318.60L250.47 313.73L250.35 308.85L250.19 303.98L250.00 299.10L249.77 294.23L249.51 289.35L249.22 284.48L248.89 279.60L248.52 274.73L248.12 269.85L247.69 264.98L247.22 260.10L246.72 255.22L246.18 250.35L245.61 245.47L245.00 240.60" fill="none" stroke="#200" stroke-width="0.4" stroke-opacity="0.3" stroke-dasharray="2 1.5"/>
<path d="M255.77 357.60L255.95 352.73L256.09 347.85L256.21 342.98L256.29 338.10L256.34 333.23L256.35 328.35L256.34 323.48L256.29 318.60L256.21 313.73L256.09 308.85L255.95 303.98L255.77 299.10L255.56 294.23L255.31 289.35L255.03 284.48L254.73 279.60L254.38 274.73L254.01 269.85L253.60 264.98L253.16 260.10L252.69 255.22L252.19 250.35L251.65 245.47L251.08 240.60" fill="none" stroke="#200" stroke-width="0.4" stroke-opacity="0.3" stroke-dasharray="2 1.5"/>
<path d="M261.53 357.60L261.70 352.73L261.84 347.85L261.94 342.98L262.02 338.10L262.06 333.23L262.08 328.35L262.06 323.48L262.02 318.60L261.94 313.73L261.84 308.85L261.70 303.98L261.53 299.10L261.34 294.23L261.11 289.35L260.85 284.48L260.56 279.60L260.24 274.73L259.90 269.85L259.52 264.98L259.11 260.10L258.67 255.22L258.20 250.35L257.70 245.47L257.17 240.60" fill="none" stroke="#200" stroke-width="0.4" stroke-opacity="0.3" stroke-dasharray="2 1.5"/>
<path d="M267.30 357.60L267.45 352.73L267.58 347.85L267.68 342.98L267.75 338.10L267.79 333.23L267.81 328.35L267.79 323.48L267.75 318.60L267.68 313.73L267.58 308.85L267.45 303.98L267.30 299.10L267.12 294.23L266.91 289.35L266.67 284.48L266.40 279.60L266.10 274.73L265.78 269.85L265.43 264.98L265.05 260.10L264.64 255.22L264.21 250.35L263.74 245.47L263.25 240.60" fill="none" stroke="#200" stroke-width="0.4" stroke-opacity="0.3" stroke-dasharray="2 1.5"/>
<path d="M273.07 357.60L273.21 352.73L273.33 347.85L273.42 342.98L273.48 338.10L273.52 333.23L273.53 328.35L273.52 323.48L273.48 318.60L273.42 313.73L273.33 308.85L273.21 303.98L273.07 299.10L272.90 294.23L272.70 289.35L272.48 284.48L272.24 279.60L271.96 274.73L271.67 269.85L271.34 264.98L270.99 260.10L270.62 255.22L270.21 250.35L269.79 245.47L269.33 240.60" fill="none" stroke="#200" stroke-width="0.4" stroke-opacity="0.3" stroke-dasharray="2 1.5"/>
<path d="M278.83 357.60L278.96 352.73L279.07 347.85L279.15 342.98L279.21 338.10L279.25 333.23L279.26 328.35L279.25 323.48L279.21 318.60L279.15 313.73L279.07 308.85L278.96 303.98L278.83 299.10L278.68 294.23L278.50 289.35L278.30 284.48L278.07 279.60L277.82 274.73L277.55 269.85L277.26 264.98L276.94 260.10L276.59 255.22L276.22 250.35L275.83 245.47L275.42 240.60" fill="none" stroke="#200" stroke-width="0.4" stroke-opacity="0.3" stroke-dasharray="2 1.5"/>
<path d="M284.60 357.60L284.72 352.73L284.82 347.85L284.89 342.98L284.94 338.10L284.98 333.23L284.99 328.35L284.98 323.48L284.94 318.60L284.89 313.73L284.82 308.85L284.72 303.98L284.60 299.10L284.46 294.23L284.30 289.35L284.12 284.48L283.91 279.60L283.69 274.73L283.44 269.85L283.17 264.98L282.88 260.10L282.57 255.22L282.23 250.35L281.88 245.47L281.50 240.60" fill="none" stroke="#200" stroke-width="0.4" stroke-opacity="0.3" stroke-dasharray="2 1.5"/>
<path d="M34.80 236.50L34.80 239.50L35.34 244.96L35.89 250.27L36.45 255.44L37.03 260.46L37.62 265.33L38.22 270.04L38.84 274.58L39.48 278.95L40.14 283.14L40.82 287.14L41.52 290.95L42.26 294.56L43.03 297.94L43.84 301.09L44.70 303.99L45.63 306.61L46.65 308.92L47.81 310.87L49.22 312.38L51.80 313.20L52.88 312.38L53.95 310.87L55.01 308.92L56.07 306.61L57.12 303.99L58.18 301.09L59.23 297.94L60.28 294.56L61.33 290.95L62.37 287.14L63.42 283.14L64.46 278.95L65.51 274.58L66.55 270.04L67.60 265.33L68.64 260.46L69.68 255.44L70.72 250.27L71.76 244.96L72.80 239.50L72.80 236.50" fill="none" stroke="#200" stroke-width="0.4" stroke-opacity="0.3"/>
<path d="M43.50 236.50L43.50 239.50L43.93 241.91L44.36 244.25L44.80 246.53L45.24 248.74L45.69 250.89L46.15 252.97L46.62 254.97L47.10 256.90L47.58 258.74L48.08 260.51L48.59 262.19L49.12 263.78L49.66 265.27L50.22 266.66L50.80 267.94L51.42 269.09L52.08 270.11L52.79 270.97L53.61 271.64L54.80 272.00L56.08 271.64L56.95 270.97L57.72 270.11L58.42 269.09L59.08 267.94L59.70 266.66L60.31 265.27L60.89 263.78L61.45 262.19L61.99 260.51L62.53 258.74L63.05 256.90L63.56 254.97L64.06 252.97L64.55 250.89L65.04 248.74L65.51 246.53L65.98 244.25L66.44 241.91L66.90 239.50L66.90 236.50" fill="none" stroke="#200" stroke-width="0.4" stroke-opacity="0.3"/>
</g>
<text x="73.00" y="291.07" font-size="4.5" text-anchor="middle" font-weight="bold" fill="#111" fill-opacity="0.85" filter="url(#lsoft)">9</text>
<text x="78.50" y="303.07" font-size="4.5" text-anchor="middle" font-weight="bold" fill="#111" fill-opacity="0.85" filter="url(#lsoft)">11</text>
<text x="83.00" y="316.07" font-size="4.5" text-anchor="middle" font-weight="bold" fill="#111" fill-opacity="0.85" filter="url(#lsoft)">13</text>
<text x="87.50" y="328.07" font-size="4.5" text-anchor="middle" font-weight="bold" fill="#111" fill-opacity="0.85" filter="url(#lsoft)">15</text>
<text x="91.50" y="341.07" font-size="4.5" text-anchor="middle" font-weight="bold" fill="#111" fill-opacity="0.85" filter="url(#lsoft)">17</text>
<text x="98.50" y="312.57" font-size="4.5" text-anchor="middle" font-weight="bold" fill="#111" fill-opacity="0.85" filter="url(#lsoft)">19</text>
<text x="103.00" y="302.07" font-size="4.5" text-anchor="middle" font-weight="bold" fill="#111" fill-opacity="0.85" filter="url(#lsoft)">21</text>
<text x="109.50" y="292.57" font-size="4.5" text-anchor="middle" font-weight="bold" fill="#111" fill-opacity="0.85" filter="url(#lsoft)">23</text>
<text x="116.00" y="276.57" font-size="4.5" text-anchor="middle" font-weight="bold" fill="#111" fill-opacity="0.85" filter="url(#lsoft)">25</text>
<text x="130.50" y="266.07" font-size="4.5" text-anchor="middle" font-weight="bold" fill="#111" fill-opacity="0.85" filter="url(#lsoft)">27</text>
<text x="171.50" y="266.07" font-size="4.5" text-anchor="middle" font-weight="bold" fill="#111" fill-opacity="0.85" filter="url(#lsoft)">27</text>
<text x="188.00" y="276.57" font-size="4.5" text-anchor="middle" font-weight="bold" fill="#111" fill-opacity="0.85" filter="url(#lsoft)">25</text>
<text x="200.50" y="287.07" font-size="4.5" text-anchor="middle" font-weight="bold" fill="#111" fill-opacity="0.85" filter="url(#lsoft)">23</text>
<text x="214.00" y="295.57" font-size="4.5" text-anchor="middle" font-weight="bold" fill="#111" fill-opacity="0.85" filter="url(#lsoft)">21</text>
<text x="226.50" y="306.57" font-size="4.5" text-anchor="middle" font-weight="bold" fill="#111" fill-opacity="0.85" filter="url(#lsoft)">19</text>
<text x="238.00" y="314.57" font-size="4.5" text-anchor="middle" font-weight="bold" fill="#111" fill-opacity="0.85" filter="url(#lsoft)">17</text>
<text x="250.00" y="306.57" font-size="4.5" text-anchor="middle" font-weight="bold" fill="#111" fill-opacity="0.85" filter="url(#lsoft)">15</text>
<text x="260.50" y="292.57" font-size="4.5" text-anchor="middle" font-weight="bold" fill="#111" fill-opacity="0.85" filter="url(#lsoft)">13</text>
<text x="272.00" y="280.07" font-size="4.5" text-anchor="middle" font-weight="bold" fill="#111" fill-opacity="0.85" filter="url(#lsoft)">11</text>
<text x="283.00" y="265.57" font-size="4.5" text-anchor="middle" font-weight="bold" fill="#111" fill-opacity="0.85" filter="url(#lsoft)">9</text>
<text x="51.00" y="314.57" font-size="4.5" text-anchor="middle" font-weight="bold" fill="#111" fill-opacity="0.85" filter="url(#lsoft)">7</text>
<text x="56.00" y="245.07" font-size="4.5" text-anchor="middle" font-weight="bold" fill="#111" fill-opacity="0.85" filter="url(#lsoft)">5</text>
<text x="37.4" y="250.0" font-size="5.8" font-style="italic" fill="#c2ccf8" filter="url(#lsoft)">(c)</text>
<g clip-path="url(#cd)"><g filter="url(#soft)">
<path d="M338.60 360.70L338.60 357.70L338.60 352.86L338.60 348.02L338.60 343.18L338.60 338.33L338.60 333.49L338.60 328.65L338.60 323.81L338.60 318.97L338.60 314.12L338.60 309.28L338.60 304.44L338.60 299.60L338.60 294.76L338.60 289.92L338.60 285.07L338.60 280.23L338.60 275.39L338.60 270.55L338.60 265.71L338.60 260.87L338.60 256.02L338.60 251.18L338.60 246.34L338.60 241.50L338.60 238.50L352.35 238.50L352.35 241.50L352.03 246.34L351.72 251.18L351.41 256.02L351.09 260.87L350.78 265.71L350.48 270.55L350.17 275.39L349.86 280.23L349.56 285.07L349.25 289.92L348.95 294.76L348.65 299.60L348.35 304.44L348.05 309.28L347.76 314.12L347.46 318.97L347.17 323.81L346.88 328.65L346.58 333.49L346.29 338.33L346.01 343.18L345.72 348.02L345.43 352.86L345.15 357.70L345.15 360.70Z" fill="#1b2bc8" />
<path d="M344.80 360.70L344.80 357.70L345.08 352.86L345.37 348.02L345.66 343.18L345.94 338.33L346.23 333.49L346.52 328.65L346.82 323.81L347.11 318.97L347.41 314.12L347.70 309.28L348.00 304.44L348.30 299.60L348.60 294.76L348.90 289.92L349.21 285.07L349.51 280.23L349.82 275.39L350.12 270.55L350.43 265.71L350.74 260.87L351.06 256.02L351.37 251.18L351.68 246.34L352.00 241.50L352.00 238.50L353.55 238.50L353.55 241.50L353.23 246.34L352.92 251.18L352.61 256.02L352.29 260.87L351.98 265.71L351.68 270.55L351.37 275.39L351.06 280.23L350.76 285.07L350.45 289.92L350.15 294.76L349.85 299.60L349.55 304.44L349.25 309.28L348.96 314.12L348.66 318.97L348.37 323.81L348.07 328.65L347.78 333.49L347.49 338.33L347.21 343.18L346.92 348.02L346.63 352.86L346.35 357.70L346.35 360.70Z" fill="#96a5ee" />
<path d="M346.00 360.70L346.00 357.70L346.28 352.86L346.57 348.02L346.86 343.18L347.14 338.33L347.43 333.49L347.72 328.65L348.02 323.81L348.31 318.97L348.61 314.12L348.90 309.28L349.20 304.44L349.50 299.60L349.80 294.76L350.10 289.92L350.41 285.07L350.71 280.23L351.02 275.39L351.32 270.55L351.63 265.71L351.94 260.87L352.26 256.02L352.57 251.18L352.88 246.34L353.20 241.50L353.20 238.50L359.35 238.50L359.35 241.50L359.06 246.34L358.77 251.18L358.49 256.02L358.22 260.87L357.95 265.71L357.69 270.55L357.43 275.39L357.18 280.23L356.94 285.07L356.70 289.92L356.47 294.76L356.25 299.60L356.03 304.44L355.82 309.28L355.62 314.12L355.42 318.97L355.22 323.81L355.04 328.65L354.86 333.49L354.68 338.33L354.52 343.18L354.35 348.02L354.20 352.86L354.05 357.70L354.05 360.70Z" fill="#ffffff" />
<path d="M353.70 360.70L353.70 357.70L353.85 352.86L354.00 348.02L354.17 343.18L354.33 338.33L354.51 333.49L354.69 328.65L354.87 323.81L355.07 318.97L355.27 314.12L355.47 309.28L355.68 304.44L355.90 299.60L356.12 294.76L356.35 289.92L356.59 285.07L356.83 280.23L357.08 275.39L357.34 270.55L357.60 265.71L357.87 260.87L358.14 256.02L358.42 251.18L358.71 246.34L359.00 241.50L359.00 238.50L362.35 238.50L362.35 241.50L362.06 246.34L361.77 251.18L361.50 256.02L361.24 260.87L360.99 265.71L360.75 270.55L360.52 275.39L360.31 280.23L360.10 285.07L359.91 289.92L359.72 294.76L359.55 299.60L359.39 304.44L359.24 309.28L359.10 314.12L358.97 318.97L358.86 323.81L358.75 328.65L358.66 333.49L358.57 338.33L358.50 343.18L358.44 348.02L358.39 352.86L358.35 357.70L358.35 360.70Z" fill="#ffdedc" />
<path d="M358.00 360.70L358.00 357.70L358.04 352.86L358.09 348.02L358.15 343.18L358.22 338.33L358.31 333.49L358.40 328.65L358.51 323.81L358.62 318.97L358.75 314.12L358.89 309.28L359.04 304.44L359.20 299.60L359.37 294.76L359.56 289.92L359.75 285.07L359.96 280.23L360.17 275.39L360.40 270.55L360.64 265.71L360.89 260.87L361.15 256.02L361.42 251.18L361.71 246.34L362.00 241.50L362.00 238.50L365.05 238.50L365.05 241.50L364.75 246.34L364.47 251.18L364.21 256.02L363.96 260.87L363.73 265.71L363.51 270.55L363.31 275.39L363.13 280.23L362.96 285.07L362.81 289.92L362.67 294.76L362.55 299.60L362.45 304.44L362.36 309.28L362.28 314.12L362.23 318.97L362.19 323.81L362.16 328.65L362.15 333.49L362.16 338.33L362.18 343.18L362.22 348.02L362.28 352.86L362.35 357.70L362.35 360.70Z" fill="#fbbcba" />
<path d="M362.00 360.70L362.00 357.70L361.93 352.86L361.87 348.02L361.83 343.18L361.81 338.33L361.80 333.49L361.81 328.65L361.84 323.81L361.88 318.97L361.93 314.12L362.01 309.28L362.10 304.44L362.20 299.60L362.32 294.76L362.46 289.92L362.61 285.07L362.78 280.23L362.96 275.39L363.16 270.55L363.38 265.71L363.61 260.87L363.86 256.02L364.12 251.18L364.40 246.34L364.70 241.50L364.70 238.50L370.35 238.50L370.35 241.50L369.84 246.34L369.38 251.18L368.98 256.02L368.63 260.87L368.34 265.71L368.10 270.55L367.92 275.39L367.79 280.23L367.73 285.07L367.71 289.92L367.75 294.76L367.85 299.60L368.00 304.44L368.21 309.28L368.48 314.12L368.79 318.97L369.17 323.81L369.60 328.65L370.09 333.49L370.63 338.33L371.23 343.18L371.88 348.02L372.59 352.86L373.35 357.70L373.35 360.70Z" fill="#f79b98" />
<path d="M373.00 360.70L373.00 357.70L372.24 352.86L371.53 348.02L370.88 343.18L370.28 338.33L369.74 333.49L369.25 328.65L368.82 323.81L368.44 318.97L368.12 314.12L367.86 309.28L367.65 304.44L367.50 299.60L367.40 294.76L367.36 289.92L367.38 285.07L367.44 280.23L367.57 275.39L367.75 270.55L367.99 265.71L368.28 260.87L368.62 256.02L369.03 251.18L369.49 246.34L370.00 241.50L370.00 238.50L471.35 238.50L471.35 241.50L471.65 246.34L471.91 251.18L472.14 256.02L472.34 260.87L472.50 265.71L472.62 270.55L472.72 275.39L472.77 280.23L472.79 285.07L472.78 289.92L472.73 294.76L472.65 299.60L472.53 304.44L472.38 309.28L472.19 314.12L471.97 318.97L471.72 323.81L471.43 328.65L471.10 333.49L470.74 338.33L470.34 343.18L469.91 348.02L469.45 352.86L468.95 357.70L468.95 360.70Z" fill="#f27976" />
<path d="M468.60 360.70L468.60 357.70L469.10 352.86L469.56 348.02L469.99 343.18L470.39 338.33L470.75 333.49L471.08 328.65L471.37 323.81L471.62 318.97L471.84 314.12L472.03 309.28L472.18 304.44L472.30 299.60L472.38 294.76L472.43 289.92L472.44 285.07L472.42 280.23L472.37 275.39L472.27 270.55L472.15 265.71L471.99 260.87L471.79 256.02L471.56 251.18L471.30 246.34L471.00 241.50L471.00 238.50L477.95 238.50L477.95 241.50L478.16 246.34L478.35 251.18L478.54 256.02L478.72 260.87L478.88 265.71L479.04 270.55L479.18 275.39L479.32 280.23L479.44 285.07L479.55 289.92L479.66 294.76L479.75 299.60L479.83 304.44L479.90 309.28L479.97 314.12L480.02 318.97L480.06 323.81L480.09 328.65L480.11 333.49L480.12 338.33L480.12 343.18L480.10 348.02L480.08 352.86L480.05 357.70L480.05 360.70Z" fill="#f79b98" />
<path d="M479.70 360.70L479.70 357.70L479.73 352.86L479.75 348.02L479.77 343.18L479.77 338.33L479.76 333.49L479.74 328.65L479.71 323.81L479.67 318.97L479.62 314.12L479.55 309.28L479.48 304.44L479.40 299.60L479.31 294.76L479.20 289.92L479.09 285.07L478.97 280.23L478.83 275.39L478.69 270.55L478.53 265.71L478.37 260.87L478.19 256.02L478.00 251.18L477.81 246.34L477.60 241.50L477.60 238.50L481.55 238.50L481.55 241.50L481.80 246.34L482.04 251.18L482.27 256.02L482.48 260.87L482.69 265.71L482.88 270.55L483.05 275.39L483.22 280.23L483.37 285.07L483.51 289.92L483.64 294.76L483.75 299.60L483.85 304.44L483.94 309.28L484.02 314.12L484.08 318.97L484.14 323.81L484.17 328.65L484.20 333.49L484.22 338.33L484.22 343.18L484.21 348.02L484.19 352.86L484.15 357.70L484.15 360.70Z" fill="#fbbcba" />
<path d="M483.80 360.70L483.80 357.70L483.84 352.86L483.86 348.02L483.87 343.18L483.87 338.33L483.85 333.49L483.82 328.65L483.79 323.81L483.73 318.97L483.67 314.12L483.59 309.28L483.50 304.44L483.40 299.60L483.29 294.76L483.16 289.92L483.02 285.07L482.87 280.23L482.70 275.39L482.52 270.55L482.34 265.71L482.13 260.87L481.92 256.02L481.69 251.18L481.45 246.34L481.20 241.50L481.20 238.50L484.55 238.50L484.55 241.50L484.83 246.34L485.09 251.18L485.35 256.02L485.59 260.87L485.83 265.71L486.05 270.55L486.26 275.39L486.46 280.23L486.65 285.07L486.83 289.92L486.99 294.76L487.15 299.60L487.29 304.44L487.43 309.28L487.55 314.12L487.66 318.97L487.76 323.81L487.85 328.65L487.93 333.49L487.99 338.33L488.05 343.18L488.09 348.02L488.13 352.86L488.15 357.70L488.15 360.70Z" fill="#ffdedc" />
<path d="M487.80 360.70L487.80 357.70L487.78 352.86L487.74 348.02L487.70 343.18L487.64 338.33L487.58 333.49L487.50 328.65L487.41 323.81L487.31 318.97L487.20 314.12L487.08 309.28L486.94 304.44L486.80 299.60L486.64 294.76L486.48 289.92L486.30 285.07L486.11 280.23L485.91 275.39L485.70 270.55L485.48 265.71L485.24 260.87L485.00 256.02L484.74 251.18L484.48 246.34L484.20 241.50L484.20 238.50L490.25 238.50L490.25 241.50L490.74 246.34L491.21 251.18L491.65 256.02L492.07 260.87L492.47 265.71L492.84 270.55L493.18 275.39L493.51 280.23L493.80 285.07L494.08 289.92L494.33 294.76L494.55 299.60L494.75 304.44L494.93 309.28L495.08 314.12L495.21 318.97L495.31 323.81L495.39 328.65L495.44 333.49L495.47 338.33L495.48 343.18L495.46 348.02L495.42 352.86L495.35 357.70L495.35 360.70Z" fill="#ffffff" />
<path d="M495.00 360.70L495.00 357.70L495.07 352.86L495.11 348.02L495.13 343.18L495.12 338.33L495.09 333.49L495.04 328.65L494.96 323.81L494.86 318.97L494.73 314.12L494.58 309.28L494.40 304.44L494.20 299.60L493.98 294.76L493.73 289.92L493.45 285.07L493.16 280.23L492.83 275.39L492.49 270.55L492.12 265.71L491.72 260.87L491.30 256.02L490.86 251.18L490.39 246.34L489.90 241.50L489.90 238.50L491.45 238.50L491.45 241.50L491.94 246.34L492.41 251.18L492.85 256.02L493.27 260.87L493.67 265.71L494.04 270.55L494.38 275.39L494.71 280.23L495.00 285.07L495.28 289.92L495.53 294.76L495.75 299.60L495.95 304.44L496.13 309.28L496.28 314.12L496.41 318.97L496.51 323.81L496.59 328.65L496.64 333.49L496.67 338.33L496.68 343.18L496.66 348.02L496.62 352.86L496.55 357.70L496.55 360.70Z" fill="#96a5ee" />
<path d="M496.20 360.70L496.20 357.70L496.27 352.86L496.31 348.02L496.33 343.18L496.32 338.33L496.29 333.49L496.24 328.65L496.16 323.81L496.06 318.97L495.93 314.12L495.78 309.28L495.60 304.44L495.40 299.60L495.18 294.76L494.93 289.92L494.65 285.07L494.36 280.23L494.03 275.39L493.69 270.55L493.32 265.71L492.92 260.87L492.50 256.02L492.06 251.18L491.59 246.34L491.10 241.50L491.10 238.50L598.50 238.50L598.50 241.50L598.50 246.34L598.50 251.18L598.50 256.02L598.50 260.87L598.50 265.71L598.50 270.55L598.50 275.39L598.50 280.23L598.50 285.07L598.50 289.92L598.50 294.76L598.50 299.60L598.50 304.44L598.50 309.28L598.50 314.12L598.50 318.97L598.50 323.81L598.50 328.65L598.50 333.49L598.50 338.33L598.50 343.18L598.50 348.02L598.50 352.86L598.50 357.70L598.50 360.70Z" fill="#1b2bc8" />
<path d="M387.80 237.00L387.80 240.00L388.66 243.04L389.52 246.04L390.38 249.01L391.23 251.93L392.09 254.81L392.95 257.65L393.80 260.45L394.66 263.21L395.52 265.93L396.37 268.60L397.22 271.23L398.08 273.81L398.93 276.35L399.78 278.84L400.63 281.28L401.49 283.68L402.34 286.02L403.19 288.32L404.03 290.56L404.88 292.75L405.73 294.89L406.58 296.97L407.42 298.99L408.26 300.96L409.11 302.86L409.95 304.70L410.79 306.48L411.63 308.19L412.47 309.83L413.31 311.40L414.14 312.89L414.97 314.30L415.80 315.63L416.63 316.86L417.46 317.99L418.28 319.02L419.10 319.92L419.91 320.69L420.72 321.28L421.50 321.60L422.29 321.28L423.10 320.69L423.91 319.92L424.74 319.02L425.56 317.99L426.40 316.86L427.23 315.63L428.07 314.30L428.90 312.89L429.74 311.40L430.58 309.83L431.43 308.19L432.27 306.48L433.12 304.70L433.97 302.86L434.81 300.96L435.66 298.99L436.51 296.97L437.36 294.89L438.22 292.75L439.07 290.56L439.92 288.32L440.78 286.02L441.63 283.68L442.49 281.28L443.35 278.84L444.20 276.35L445.06 273.81L445.92 271.23L446.78 268.60L447.64 265.93L448.50 263.21L449.36 260.45L450.22 257.65L451.08 254.81L451.95 251.93L452.81 249.01L453.67 246.04L454.54 243.04L455.40 240.00L455.40 237.00Z" fill="#ee5755" />
<path d="M414.80 361.50L414.80 357.80L415.90 355.02L417.00 353.09L418.10 351.59L419.20 350.49L420.30 349.82L421.40 349.60L422.50 349.82L423.60 350.49L424.70 351.59L425.80 353.09L426.90 355.02L428.00 357.80L428.00 361.50Z" fill="#ee5755" />
<circle cx="346.6" cy="265.6" r="0.8" fill="#b9c4f5"/><circle cx="495.3" cy="266.2" r="0.8" fill="#b9c4f5"/>
</g></g>
<g clip-path="url(#cd)" filter="url(#lsoft)">
<path d="M353.70 357.70L353.85 352.86L354.00 348.02L354.17 343.18L354.33 338.33L354.51 333.49L354.69 328.65L354.87 323.81L355.07 318.97L355.27 314.12L355.47 309.28L355.68 304.44L355.90 299.60L356.12 294.76L356.35 289.92L356.59 285.07L356.83 280.23L357.08 275.39L357.34 270.55L357.60 265.71L357.87 260.87L358.14 256.02L358.42 251.18L358.71 246.34L359.00 241.50" fill="none" stroke="#200" stroke-width="0.4" stroke-opacity="0.3" stroke-dasharray="2 1.5"/>
<path d="M362.00 357.70L361.93 352.86L361.87 348.02L361.83 343.18L361.81 338.33L361.80 333.49L361.81 328.65L361.84 323.81L361.88 318.97L361.93 314.12L362.01 309.28L362.10 304.44L362.20 299.60L362.32 294.76L362.46 289.92L362.61 285.07L362.78 280.23L362.96 275.39L363.16 270.55L363.38 265.71L363.61 260.87L363.86 256.02L364.12 251.18L364.40 246.34L364.70 241.50" fill="none" stroke="#200" stroke-width="0.4" stroke-opacity="0.3" stroke-dasharray="2 1.5"/>
<path d="M373.00 357.70L372.24 352.86L371.53 348.02L370.88 343.18L370.28 338.33L369.74 333.49L369.25 328.65L368.82 323.81L368.44 318.97L368.12 314.12L367.86 309.28L367.65 304.44L367.50 299.60L367.40 294.76L367.36 289.92L367.38 285.07L367.44 280.23L367.57 275.39L367.75 270.55L367.99 265.71L368.28 260.87L368.62 256.02L369.03 251.18L369.49 246.34L370.00 241.50" fill="none" stroke="#200" stroke-width="0.4" stroke-opacity="0.3"/>
<path d="M468.60 357.70L469.10 352.86L469.56 348.02L469.99 343.18L470.39 338.33L470.75 333.49L471.08 328.65L471.37 323.81L471.62 318.97L471.84 314.12L472.03 309.28L472.18 304.44L472.30 299.60L472.38 294.76L472.43 289.92L472.44 285.07L472.42 280.23L472.37 275.39L472.27 270.55L472.15 265.71L471.99 260.87L471.79 256.02L471.56 251.18L471.30 246.34L471.00 241.50" fill="none" stroke="#200" stroke-width="0.4" stroke-opacity="0.3"/>
<path d="M479.70 357.70L479.73 352.86L479.75 348.02L479.77 343.18L479.77 338.33L479.76 333.49L479.74 328.65L479.71 323.81L479.67 318.97L479.62 314.12L479.55 309.28L479.48 304.44L479.40 299.60L479.31 294.76L479.20 289.92L479.09 285.07L478.97 280.23L478.83 275.39L478.69 270.55L478.53 265.71L478.37 260.87L478.19 256.02L478.00 251.18L477.81 246.34L477.60 241.50" fill="none" stroke="#200" stroke-width="0.4" stroke-opacity="0.3" stroke-dasharray="2 1.5"/>
<path d="M487.80 357.70L487.78 352.86L487.74 348.02L487.70 343.18L487.64 338.33L487.58 333.49L487.50 328.65L487.41 323.81L487.31 318.97L487.20 314.12L487.08 309.28L486.94 304.44L486.80 299.60L486.64 294.76L486.48 289.92L486.30 285.07L486.11 280.23L485.91 275.39L485.70 270.55L485.48 265.71L485.24 260.87L485.00 256.02L484.74 251.18L484.48 246.34L484.20 241.50" fill="none" stroke="#200" stroke-width="0.4" stroke-opacity="0.3" stroke-dasharray="2 1.5"/>
<path d="M387.80 237.00L387.80 240.00L388.66 243.04L389.52 246.04L390.38 249.01L391.23 251.93L392.09 254.81L392.95 257.65L393.80 260.45L394.66 263.21L395.52 265.93L396.37 268.60L397.22 271.23L398.08 273.81L398.93 276.35L399.78 278.84L400.63 281.28L401.49 283.68L402.34 286.02L403.19 288.32L404.03 290.56L404.88 292.75L405.73 294.89L406.58 296.97L407.42 298.99L408.26 300.96L409.11 302.86L409.95 304.70L410.79 306.48L411.63 308.19L412.47 309.83L413.31 311.40L414.14 312.89L414.97 314.30L415.80 315.63L416.63 316.86L417.46 317.99L418.28 319.02L419.10 319.92L419.91 320.69L420.72 321.28L421.50 321.60L422.29 321.28L423.10 320.69L423.91 319.92L424.74 319.02L425.56 317.99L426.40 316.86L427.23 315.63L428.07 314.30L428.90 312.89L429.74 311.40L430.58 309.83L431.43 308.19L432.27 306.48L433.12 304.70L433.97 302.86L434.81 300.96L435.66 298.99L436.51 296.97L437.36 294.89L438.22 292.75L439.07 290.56L439.92 288.32L440.78 286.02L441.63 283.68L442.49 281.28L443.35 278.84L444.20 276.35L445.06 273.81L445.92 271.23L446.78 268.60L447.64 265.93L448.50 263.21L449.36 260.45L450.22 257.65L451.08 254.81L451.95 251.93L452.81 249.01L453.67 246.04L454.54 243.04L455.40 240.00L455.40 237.00" fill="none" stroke="#200" stroke-width="0.4" stroke-opacity="0.35"/>
<path d="M414.80 357.80L415.90 355.02L417.00 353.09L418.10 351.59L419.20 350.49L420.30 349.82L421.40 349.60L422.50 349.82L423.60 350.49L424.70 351.59L425.80 353.09L426.90 355.02L428.00 357.80" fill="none" stroke="#200" stroke-width="0.4" stroke-opacity="0.35"/>
</g>
<text x="356.00" y="294.10" font-size="3.4" text-anchor="middle" font-weight="bold" fill="#111" filter="url(#lsoft)">1200</text>
<text x="362.00" y="306.30" font-size="3.4" text-anchor="middle" font-weight="bold" fill="#111" filter="url(#lsoft)">1250</text>
<text x="350.00" y="353.10" font-size="3.4" text-anchor="middle" font-weight="bold" fill="#111" filter="url(#lsoft)">1150</text>
<text x="488.00" y="291.40" font-size="3.4" text-anchor="middle" font-weight="bold" fill="#111" filter="url(#lsoft)">1200</text>
<text x="479.60" y="306.10" font-size="3.4" text-anchor="middle" font-weight="bold" fill="#111" filter="url(#lsoft)">1250</text>
<text x="491.00" y="308.50" font-size="3.4" text-anchor="middle" font-weight="bold" fill="#111" filter="url(#lsoft)">1200</text>
<text x="421.40" y="322.10" font-size="3.4" text-anchor="middle" font-weight="bold" fill="#111" filter="url(#lsoft)">1300</text>
<text x="421.40" y="350.10" font-size="3.4" text-anchor="middle" font-weight="bold" fill="#111" filter="url(#lsoft)">1300</text>
<g class="t" filter="url(#tsoft)">
<rect x="48.50" y="6.40" width="12.19" height="9.80" fill="#0e1ac6"/>
<rect x="60.38" y="6.40" width="12.19" height="9.80" fill="#2436d6"/>
<rect x="72.27" y="6.40" width="12.19" height="9.80" fill="#3c51de"/>
<rect x="84.16" y="6.40" width="12.19" height="9.80" fill="#566ae5"/>
<rect x="96.04" y="6.40" width="12.19" height="9.80" fill="#7184ea"/>
<rect x="107.92" y="6.40" width="12.19" height="9.80" fill="#8c9def"/>
<rect x="119.81" y="6.40" width="12.19" height="9.80" fill="#a8b5f4"/>
<rect x="131.69" y="6.40" width="12.19" height="9.80" fill="#c5cef9"/>
<rect x="143.58" y="6.40" width="12.19" height="9.80" fill="#e2e6fd"/>
<rect x="155.47" y="6.40" width="12.19" height="9.80" fill="#ffffff"/>
<rect x="167.35" y="6.40" width="12.19" height="9.80" fill="#ffffff"/>
<rect x="179.23" y="6.40" width="12.19" height="9.80" fill="#ffdbd9"/>
<rect x="191.12" y="6.40" width="12.19" height="9.80" fill="#fcc4c2"/>
<rect x="203.00" y="6.40" width="12.19" height="9.80" fill="#f9adab"/>
<rect x="214.89" y="6.40" width="12.19" height="9.80" fill="#f69694"/>
<rect x="226.78" y="6.40" width="12.19" height="9.80" fill="#f4807d"/>
<rect x="238.66" y="6.40" width="12.19" height="9.80" fill="#f16966"/>
<rect x="250.54" y="6.40" width="12.19" height="9.80" fill="#ee524f"/>
<rect x="262.43" y="6.40" width="12.19" height="9.80" fill="#eb3b38"/>
<rect x="274.31" y="6.40" width="11.88" height="9.80" fill="#e82421"/>
<rect x="48.50" y="6.40" width="237.70" height="9.80" fill="none" stroke="#555" stroke-width="0.45" stroke-opacity="0.55"/>
<text x="49.80" y="26.40" font-size="6.2" text-anchor="middle" fill="#333" style="stroke-width:0.18px;stroke:#333">15</text>
<text x="72.27" y="26.40" font-size="6.2" text-anchor="middle" fill="#333" style="stroke-width:0.18px;stroke:#333">16</text>
<text x="96.04" y="26.40" font-size="6.2" text-anchor="middle" fill="#333" style="stroke-width:0.18px;stroke:#333">17</text>
<text x="119.81" y="26.40" font-size="6.2" text-anchor="middle" fill="#333" style="stroke-width:0.18px;stroke:#333">18</text>
<text x="143.58" y="26.40" font-size="6.2" text-anchor="middle" fill="#333" style="stroke-width:0.18px;stroke:#333">19</text>
<text x="167.35" y="26.40" font-size="6.2" text-anchor="middle" fill="#333" style="stroke-width:0.18px;stroke:#333">20</text>
<text x="191.12" y="26.40" font-size="6.2" text-anchor="middle" fill="#333" style="stroke-width:0.18px;stroke:#333">21</text>
<text x="214.89" y="26.40" font-size="6.2" text-anchor="middle" fill="#333" style="stroke-width:0.18px;stroke:#333">22</text>
<text x="238.66" y="26.40" font-size="6.2" text-anchor="middle" fill="#333" style="stroke-width:0.18px;stroke:#333">23</text>
<text x="262.43" y="26.40" font-size="6.2" text-anchor="middle" fill="#333" style="stroke-width:0.18px;stroke:#333">24</text>
<text x="284.80" y="26.40" font-size="6.2" text-anchor="middle" fill="#333" style="stroke-width:0.18px;stroke:#333">25</text>
<rect x="71.97" y="6.40" width="0.6" height="1.6" fill="#223" fill-opacity="0.75"/>
<rect x="95.74" y="6.40" width="0.6" height="1.6" fill="#223" fill-opacity="0.75"/>
<rect x="119.51" y="6.40" width="0.6" height="1.6" fill="#223" fill-opacity="0.75"/>
<rect x="143.28" y="6.40" width="0.6" height="1.6" fill="#223" fill-opacity="0.75"/>
<rect x="167.05" y="6.40" width="0.6" height="1.6" fill="#223" fill-opacity="0.75"/>
<rect x="190.82" y="6.40" width="0.6" height="1.6" fill="#223" fill-opacity="0.75"/>
<rect x="214.59" y="6.40" width="0.6" height="1.6" fill="#223" fill-opacity="0.75"/>
<rect x="238.36" y="6.40" width="0.6" height="1.6" fill="#223" fill-opacity="0.75"/>
<rect x="262.13" y="6.40" width="0.6" height="1.6" fill="#223" fill-opacity="0.75"/>
<text x="20.70" y="18.40" font-size="12" text-anchor="middle" >Altitude</text>
<text x="20.00" y="30.00" font-size="12" text-anchor="middle" >(km)</text>
<rect x="33.50" y="36.30" width="254.50" height="116.40" fill="none" stroke="#06064a" stroke-width="1.1" stroke-opacity="0.9"/>
<rect x="75.52" y="150.50" width="0.8" height="2.2" fill="#000" fill-opacity="0.8"/>
<rect x="117.93" y="150.50" width="0.8" height="2.2" fill="#000" fill-opacity="0.8"/>
<rect x="160.35" y="150.50" width="0.8" height="2.2" fill="#000" fill-opacity="0.8"/>
<rect x="202.77" y="150.50" width="0.8" height="2.2" fill="#000" fill-opacity="0.8"/>
<rect x="245.18" y="150.50" width="0.8" height="2.2" fill="#000" fill-opacity="0.8"/>
<rect x="33.50" y="132.05" width="1.7" height="0.8" fill="#00003a" fill-opacity="0.65"/>
<text x="29.00" y="136.85" font-size="12" text-anchor="end" >10</text>
<rect x="33.50" y="111.80" width="1.7" height="0.8" fill="#00003a" fill-opacity="0.65"/>
<text x="29.00" y="116.60" font-size="12" text-anchor="end" >20</text>
<rect x="33.50" y="91.55" width="1.7" height="0.8" fill="#00003a" fill-opacity="0.65"/>
<text x="29.00" y="96.35" font-size="12" text-anchor="end" >30</text>
<rect x="33.50" y="71.30" width="1.7" height="0.8" fill="#00003a" fill-opacity="0.65"/>
<text x="29.00" y="76.10" font-size="12" text-anchor="end" >40</text>
<rect x="33.50" y="51.05" width="1.7" height="0.8" fill="#00003a" fill-opacity="0.65"/>
<text x="29.00" y="55.85" font-size="12" text-anchor="end" >50</text>
<text x="75.32" y="166.20" font-size="11.5" text-anchor="middle" >4</text>
<text x="117.73" y="166.20" font-size="11.5" text-anchor="middle" >8</text>
<text x="160.15" y="166.20" font-size="11.5" text-anchor="middle" >12</text>
<text x="202.57" y="166.20" font-size="11.5" text-anchor="middle" >16</text>
<text x="244.98" y="166.20" font-size="11.5" text-anchor="middle" >20</text>
<text x="286.80" y="166.20" font-size="11.5" text-anchor="middle" >24</text>
<text x="25.50" y="166.30" font-size="11.5" text-anchor="middle" >0</text>
<text x="159.75" y="180.00" font-size="12.1" text-anchor="middle" >Time (h)</text>
<text x="159.25" y="196.40" font-size="12.25" text-anchor="middle" >(a) Altitude</text>
<text transform="translate(10.10 91.00) rotate(-90)" font-size="11.6" text-anchor="middle">Days</text>
<rect x="355.50" y="6.50" width="15.19" height="9.80" fill="#0e1ac6"/>
<rect x="370.39" y="6.50" width="15.19" height="9.80" fill="#2c3fd9"/>
<rect x="385.29" y="6.50" width="15.19" height="9.80" fill="#4d62e2"/>
<rect x="400.18" y="6.50" width="15.19" height="9.80" fill="#7184ea"/>
<rect x="415.07" y="6.50" width="15.19" height="9.80" fill="#96a5f1"/>
<rect x="429.97" y="6.50" width="15.19" height="9.80" fill="#bbc6f7"/>
<rect x="444.86" y="6.50" width="15.19" height="9.80" fill="#e2e6fd"/>
<rect x="459.76" y="6.50" width="15.19" height="9.80" fill="#ffffff"/>
<rect x="474.65" y="6.50" width="15.19" height="9.80" fill="#ffffff"/>
<rect x="489.54" y="6.50" width="15.19" height="9.80" fill="#ffdbd9"/>
<rect x="504.44" y="6.50" width="15.19" height="9.80" fill="#fbbcba"/>
<rect x="519.33" y="6.50" width="15.19" height="9.80" fill="#f79e9c"/>
<rect x="534.22" y="6.50" width="15.19" height="9.80" fill="#f4807d"/>
<rect x="549.12" y="6.50" width="15.19" height="9.80" fill="#f0615e"/>
<rect x="564.01" y="6.50" width="15.19" height="9.80" fill="#ec4240"/>
<rect x="578.91" y="6.50" width="14.89" height="9.80" fill="#e82421"/>
<rect x="355.50" y="6.50" width="238.30" height="9.80" fill="none" stroke="#555" stroke-width="0.45" stroke-opacity="0.55"/>
<text x="357.50" y="26.20" font-size="6.2" text-anchor="middle" fill="#333" style="stroke-width:0.18px;stroke:#333">0.2</text>
<text x="385.29" y="26.20" font-size="6.2" text-anchor="middle" fill="#333" style="stroke-width:0.18px;stroke:#333">0.3</text>
<text x="415.07" y="26.20" font-size="6.2" text-anchor="middle" fill="#333" style="stroke-width:0.18px;stroke:#333">0.4</text>
<text x="444.86" y="26.20" font-size="6.2" text-anchor="middle" fill="#333" style="stroke-width:0.18px;stroke:#333">0.5</text>
<text x="474.65" y="26.20" font-size="6.2" text-anchor="middle" fill="#333" style="stroke-width:0.18px;stroke:#333">0.6</text>
<text x="504.44" y="26.20" font-size="6.2" text-anchor="middle" fill="#333" style="stroke-width:0.18px;stroke:#333">0.7</text>
<text x="534.22" y="26.20" font-size="6.2" text-anchor="middle" fill="#333" style="stroke-width:0.18px;stroke:#333">0.8</text>
<text x="564.01" y="26.20" font-size="6.2" text-anchor="middle" fill="#333" style="stroke-width:0.18px;stroke:#333">0.9</text>
<text x="594.40" y="26.20" font-size="6.2" text-anchor="middle" fill="#333" style="stroke-width:0.18px;stroke:#333">1.0</text>
<rect x="384.99" y="6.50" width="0.6" height="1.6" fill="#223" fill-opacity="0.75"/>
<rect x="414.77" y="6.50" width="0.6" height="1.6" fill="#223" fill-opacity="0.75"/>
<rect x="444.56" y="6.50" width="0.6" height="1.6" fill="#223" fill-opacity="0.75"/>
<rect x="474.35" y="6.50" width="0.6" height="1.6" fill="#223" fill-opacity="0.75"/>
<rect x="504.14" y="6.50" width="0.6" height="1.6" fill="#223" fill-opacity="0.75"/>
<rect x="533.92" y="6.50" width="0.6" height="1.6" fill="#223" fill-opacity="0.75"/>
<rect x="563.71" y="6.50" width="0.6" height="1.6" fill="#223" fill-opacity="0.75"/>
<text x="330.30" y="20.90" font-size="12.6" text-anchor="middle" >SOC</text>
<rect x="341.50" y="36.50" width="254.30" height="116.50" fill="none" stroke="#06064a" stroke-width="1.1" stroke-opacity="0.9"/>
<rect x="383.48" y="150.80" width="0.8" height="2.2" fill="#000" fill-opacity="0.8"/>
<rect x="425.87" y="150.80" width="0.8" height="2.2" fill="#000" fill-opacity="0.8"/>
<rect x="468.25" y="150.80" width="0.8" height="2.2" fill="#000" fill-opacity="0.8"/>
<rect x="510.63" y="150.80" width="0.8" height="2.2" fill="#000" fill-opacity="0.8"/>
<rect x="553.02" y="150.80" width="0.8" height="2.2" fill="#000" fill-opacity="0.8"/>
<rect x="341.50" y="132.35" width="1.7" height="0.8" fill="#00003a" fill-opacity="0.65"/>
<text x="337.00" y="137.15" font-size="12" text-anchor="end" >10</text>
<rect x="341.50" y="112.10" width="1.7" height="0.8" fill="#00003a" fill-opacity="0.65"/>
<text x="337.00" y="116.90" font-size="12" text-anchor="end" >20</text>
<rect x="341.50" y="91.85" width="1.7" height="0.8" fill="#00003a" fill-opacity="0.65"/>
<text x="337.00" y="96.65" font-size="12" text-anchor="end" >30</text>
<rect x="341.50" y="71.60" width="1.7" height="0.8" fill="#00003a" fill-opacity="0.65"/>
<text x="337.00" y="76.40" font-size="12" text-anchor="end" >40</text>
<rect x="341.50" y="51.35" width="1.7" height="0.8" fill="#00003a" fill-opacity="0.65"/>
<text x="337.00" y="56.15" font-size="12" text-anchor="end" >50</text>
<text x="383.28" y="166.50" font-size="11.5" text-anchor="middle" >4</text>
<text x="425.67" y="166.50" font-size="11.5" text-anchor="middle" >8</text>
<text x="468.05" y="166.50" font-size="11.5" text-anchor="middle" >12</text>
<text x="510.43" y="166.50" font-size="11.5" text-anchor="middle" >16</text>
<text x="552.82" y="166.50" font-size="11.5" text-anchor="middle" >20</text>
<text x="594.60" y="166.50" font-size="11.5" text-anchor="middle" >24</text>
<text x="333.50" y="166.60" font-size="11.5" text-anchor="middle" >0</text>
<text x="467.65" y="180.30" font-size="12.1" text-anchor="middle" >Time (h)</text>
<text x="465.00" y="196.70" font-size="12.25" text-anchor="middle" >(b) SOC</text>
<text transform="translate(318.50 90.60) rotate(-90)" font-size="11.6" text-anchor="middle">Days</text>
<rect x="47.80" y="214.80" width="11.16" height="9.70" fill="#0e1ac6"/>
<rect x="58.66" y="214.80" width="11.16" height="9.70" fill="#2133d5"/>
<rect x="69.53" y="214.80" width="11.16" height="9.70" fill="#374bdc"/>
<rect x="80.39" y="214.80" width="11.16" height="9.70" fill="#4d62e2"/>
<rect x="91.25" y="214.80" width="11.16" height="9.70" fill="#6578e8"/>
<rect x="102.12" y="214.80" width="11.16" height="9.70" fill="#7d8fed"/>
<rect x="112.98" y="214.80" width="11.16" height="9.70" fill="#96a5f1"/>
<rect x="123.85" y="214.80" width="11.16" height="9.70" fill="#afbbf5"/>
<rect x="134.71" y="214.80" width="11.16" height="9.70" fill="#c8d0f9"/>
<rect x="145.57" y="214.80" width="11.16" height="9.70" fill="#e2e6fd"/>
<rect x="156.44" y="214.80" width="11.16" height="9.70" fill="#ffffff"/>
<rect x="167.30" y="214.80" width="11.16" height="9.70" fill="#ffffff"/>
<rect x="178.16" y="214.80" width="11.16" height="9.70" fill="#ffdbd9"/>
<rect x="189.03" y="214.80" width="11.16" height="9.70" fill="#fcc7c5"/>
<rect x="199.89" y="214.80" width="11.16" height="9.70" fill="#fab2b0"/>
<rect x="210.75" y="214.80" width="11.16" height="9.70" fill="#f79e9c"/>
<rect x="221.62" y="214.80" width="11.16" height="9.70" fill="#f58a87"/>
<rect x="232.48" y="214.80" width="11.16" height="9.70" fill="#f27573"/>
<rect x="243.35" y="214.80" width="11.16" height="9.70" fill="#f0615e"/>
<rect x="254.21" y="214.80" width="11.16" height="9.70" fill="#ed4d4a"/>
<rect x="265.07" y="214.80" width="11.16" height="9.70" fill="#eb3835"/>
<rect x="275.94" y="214.80" width="10.86" height="9.70" fill="#e82421"/>
<rect x="47.80" y="214.80" width="239.00" height="9.70" fill="none" stroke="#555" stroke-width="0.45" stroke-opacity="0.55"/>
<text x="48.80" y="233.00" font-size="6.2" text-anchor="middle" fill="#333" style="stroke-width:0.18px;stroke:#333">5</text>
<text x="69.53" y="233.00" font-size="6.2" text-anchor="middle" fill="#333" style="stroke-width:0.18px;stroke:#333">7</text>
<text x="91.25" y="233.00" font-size="6.2" text-anchor="middle" fill="#333" style="stroke-width:0.18px;stroke:#333">9</text>
<text x="112.98" y="233.00" font-size="6.2" text-anchor="middle" fill="#333" style="stroke-width:0.18px;stroke:#333">11</text>
<text x="134.71" y="233.00" font-size="6.2" text-anchor="middle" fill="#333" style="stroke-width:0.18px;stroke:#333">13</text>
<text x="156.44" y="233.00" font-size="6.2" text-anchor="middle" fill="#333" style="stroke-width:0.18px;stroke:#333">15</text>
<text x="178.16" y="233.00" font-size="6.2" text-anchor="middle" fill="#333" style="stroke-width:0.18px;stroke:#333">17</text>
<text x="199.89" y="233.00" font-size="6.2" text-anchor="middle" fill="#333" style="stroke-width:0.18px;stroke:#333">19</text>
<text x="221.62" y="233.00" font-size="6.2" text-anchor="middle" fill="#333" style="stroke-width:0.18px;stroke:#333">21</text>
<text x="243.35" y="233.00" font-size="6.2" text-anchor="middle" fill="#333" style="stroke-width:0.18px;stroke:#333">23</text>
<text x="265.07" y="233.00" font-size="6.2" text-anchor="middle" fill="#333" style="stroke-width:0.18px;stroke:#333">25</text>
<text x="285.70" y="233.00" font-size="6.2" text-anchor="middle" fill="#333" style="stroke-width:0.18px;stroke:#333">27</text>
<rect x="69.23" y="214.80" width="0.6" height="1.6" fill="#223" fill-opacity="0.75"/>
<rect x="90.95" y="214.80" width="0.6" height="1.6" fill="#223" fill-opacity="0.75"/>
<rect x="112.68" y="214.80" width="0.6" height="1.6" fill="#223" fill-opacity="0.75"/>
<rect x="134.41" y="214.80" width="0.6" height="1.6" fill="#223" fill-opacity="0.75"/>
<rect x="156.14" y="214.80" width="0.6" height="1.6" fill="#223" fill-opacity="0.75"/>
<rect x="177.86" y="214.80" width="0.6" height="1.6" fill="#223" fill-opacity="0.75"/>
<rect x="199.59" y="214.80" width="0.6" height="1.6" fill="#223" fill-opacity="0.75"/>
<rect x="221.32" y="214.80" width="0.6" height="1.6" fill="#223" fill-opacity="0.75"/>
<rect x="243.05" y="214.80" width="0.6" height="1.6" fill="#223" fill-opacity="0.75"/>
<rect x="264.77" y="214.80" width="0.6" height="1.6" fill="#223" fill-opacity="0.75"/>
<text x="17.8" y="222.7" font-size="12.5" font-style="italic">E</text>
<text x="25.3" y="225.5" font-size="6">tot</text>
<text x="7.0" y="235.2" font-size="12.6">(kWh</text><text x="35.9" y="230.6" font-size="5.8">2</text><text x="38.7" y="235.2" font-size="12.6">)</text>
<rect x="33.30" y="240.60" width="254.40" height="117.00" fill="none" stroke="#06064a" stroke-width="1.1" stroke-opacity="0.9"/>
<rect x="75.30" y="355.40" width="0.8" height="2.2" fill="#000" fill-opacity="0.8"/>
<rect x="117.70" y="355.40" width="0.8" height="2.2" fill="#000" fill-opacity="0.8"/>
<rect x="160.10" y="355.40" width="0.8" height="2.2" fill="#000" fill-opacity="0.8"/>
<rect x="202.50" y="355.40" width="0.8" height="2.2" fill="#000" fill-opacity="0.8"/>
<rect x="244.90" y="355.40" width="0.8" height="2.2" fill="#000" fill-opacity="0.8"/>
<rect x="33.30" y="336.95" width="1.7" height="0.8" fill="#00003a" fill-opacity="0.65"/>
<text x="28.80" y="342.35" font-size="12" text-anchor="end" >10</text>
<rect x="33.30" y="316.70" width="1.7" height="0.8" fill="#00003a" fill-opacity="0.65"/>
<text x="28.80" y="322.10" font-size="12" text-anchor="end" >20</text>
<rect x="33.30" y="296.45" width="1.7" height="0.8" fill="#00003a" fill-opacity="0.65"/>
<text x="28.80" y="301.85" font-size="12" text-anchor="end" >30</text>
<rect x="33.30" y="276.20" width="1.7" height="0.8" fill="#00003a" fill-opacity="0.65"/>
<text x="28.80" y="281.60" font-size="12" text-anchor="end" >40</text>
<rect x="33.30" y="255.95" width="1.7" height="0.8" fill="#00003a" fill-opacity="0.65"/>
<text x="28.80" y="261.35" font-size="12" text-anchor="end" >50</text>
<text x="75.10" y="371.10" font-size="11.5" text-anchor="middle" >4</text>
<text x="117.50" y="371.10" font-size="11.5" text-anchor="middle" >8</text>
<text x="159.90" y="371.10" font-size="11.5" text-anchor="middle" >12</text>
<text x="202.30" y="371.10" font-size="11.5" text-anchor="middle" >16</text>
<text x="244.70" y="371.10" font-size="11.5" text-anchor="middle" >20</text>
<text x="286.50" y="371.10" font-size="11.5" text-anchor="middle" >24</text>
<text x="25.30" y="371.20" font-size="11.5" text-anchor="middle" >0</text>
<text x="159.50" y="384.90" font-size="12.1" text-anchor="middle" >Time (h)</text>
<text x="158.20" y="401.30" font-size="12.25" text-anchor="middle" >(c) Total stored energy</text>
<text transform="translate(10.20 295.50) rotate(-90)" font-size="11.6" text-anchor="middle">Days</text>
<rect x="355.50" y="214.50" width="16.27" height="9.30" fill="#0e1ac6"/>
<rect x="371.47" y="214.50" width="16.27" height="9.30" fill="#2c3fd9"/>
<rect x="387.43" y="214.50" width="16.27" height="9.30" fill="#4d62e2"/>
<rect x="403.40" y="214.50" width="16.27" height="9.30" fill="#7184ea"/>
<rect x="419.37" y="214.50" width="16.27" height="9.30" fill="#96a5f1"/>
<rect x="435.33" y="214.50" width="16.27" height="9.30" fill="#bbc6f7"/>
<rect x="451.30" y="214.50" width="16.27" height="9.30" fill="#e2e6fd"/>
<rect x="467.27" y="214.50" width="16.27" height="9.30" fill="#ffffff"/>
<rect x="483.23" y="214.50" width="16.27" height="9.30" fill="#ffffff"/>
<rect x="499.20" y="214.50" width="16.27" height="9.30" fill="#ffdbd9"/>
<rect x="515.17" y="214.50" width="16.27" height="9.30" fill="#fab6b4"/>
<rect x="531.13" y="214.50" width="16.27" height="9.30" fill="#f6928f"/>
<rect x="547.10" y="214.50" width="16.27" height="9.30" fill="#f16d6b"/>
<rect x="563.07" y="214.50" width="16.27" height="9.30" fill="#ed4946"/>
<rect x="579.03" y="214.50" width="15.97" height="9.30" fill="#e82421"/>
<rect x="355.50" y="214.50" width="239.50" height="9.30" fill="none" stroke="#555" stroke-width="0.45" stroke-opacity="0.55"/>
<text x="371.47" y="233.00" font-size="6.2" text-anchor="middle" fill="#333" style="stroke-width:0.18px;stroke:#333">0</text>
<text x="403.40" y="233.00" font-size="6.2" text-anchor="middle" fill="#333" style="stroke-width:0.18px;stroke:#333">1050</text>
<text x="435.33" y="233.00" font-size="6.2" text-anchor="middle" fill="#333" style="stroke-width:0.18px;stroke:#333">1100</text>
<text x="467.27" y="233.00" font-size="6.2" text-anchor="middle" fill="#333" style="stroke-width:0.18px;stroke:#333">1150</text>
<text x="499.20" y="233.00" font-size="6.2" text-anchor="middle" fill="#333" style="stroke-width:0.18px;stroke:#333">1200</text>
<text x="531.13" y="233.00" font-size="6.2" text-anchor="middle" fill="#333" style="stroke-width:0.18px;stroke:#333">1250</text>
<text x="563.07" y="233.00" font-size="6.2" text-anchor="middle" fill="#333" style="stroke-width:0.18px;stroke:#333">1300</text>
<text x="592.00" y="233.00" font-size="6.2" text-anchor="middle" fill="#333" style="stroke-width:0.18px;stroke:#333">1350</text>
<rect x="371.17" y="214.50" width="0.6" height="1.6" fill="#223" fill-opacity="0.75"/>
<rect x="403.10" y="214.50" width="0.6" height="1.6" fill="#223" fill-opacity="0.75"/>
<rect x="435.03" y="214.50" width="0.6" height="1.6" fill="#223" fill-opacity="0.75"/>
<rect x="466.97" y="214.50" width="0.6" height="1.6" fill="#223" fill-opacity="0.75"/>
<rect x="498.90" y="214.50" width="0.6" height="1.6" fill="#223" fill-opacity="0.75"/>
<rect x="530.83" y="214.50" width="0.6" height="1.6" fill="#223" fill-opacity="0.75"/>
<rect x="562.77" y="214.50" width="0.6" height="1.6" fill="#223" fill-opacity="0.75"/>
<text x="332.4" y="220.9" font-size="13" font-style="italic">I</text>
<text x="336.6" y="224.4" font-size="6">tot</text>
<text x="319.6" y="233.6" font-size="12.7">(W/m</text><text x="349.4" y="229.0" font-size="5.8">2</text><text x="352.2" y="233.6" font-size="12.7">)</text>
<rect x="341.60" y="241.50" width="253.90" height="116.20" fill="none" stroke="#06064a" stroke-width="1.1" stroke-opacity="0.9"/>
<rect x="383.52" y="355.50" width="0.8" height="2.2" fill="#000" fill-opacity="0.8"/>
<rect x="425.83" y="355.50" width="0.8" height="2.2" fill="#000" fill-opacity="0.8"/>
<rect x="468.15" y="355.50" width="0.8" height="2.2" fill="#000" fill-opacity="0.8"/>
<rect x="510.47" y="355.50" width="0.8" height="2.2" fill="#000" fill-opacity="0.8"/>
<rect x="552.78" y="355.50" width="0.8" height="2.2" fill="#000" fill-opacity="0.8"/>
<rect x="341.60" y="337.05" width="1.7" height="0.8" fill="#00003a" fill-opacity="0.65"/>
<text x="337.10" y="342.25" font-size="12" text-anchor="end" >10</text>
<rect x="341.60" y="316.80" width="1.7" height="0.8" fill="#00003a" fill-opacity="0.65"/>
<text x="337.10" y="322.00" font-size="12" text-anchor="end" >20</text>
<rect x="341.60" y="296.55" width="1.7" height="0.8" fill="#00003a" fill-opacity="0.65"/>
<text x="337.10" y="301.75" font-size="12" text-anchor="end" >30</text>
<rect x="341.60" y="276.30" width="1.7" height="0.8" fill="#00003a" fill-opacity="0.65"/>
<text x="337.10" y="281.50" font-size="12" text-anchor="end" >40</text>
<rect x="341.60" y="256.05" width="1.7" height="0.8" fill="#00003a" fill-opacity="0.65"/>
<text x="337.10" y="261.25" font-size="12" text-anchor="end" >50</text>
<text x="383.32" y="371.20" font-size="11.5" text-anchor="middle" >4</text>
<text x="425.63" y="371.20" font-size="11.5" text-anchor="middle" >8</text>
<text x="467.95" y="371.20" font-size="11.5" text-anchor="middle" >12</text>
<text x="510.27" y="371.20" font-size="11.5" text-anchor="middle" >16</text>
<text x="552.58" y="371.20" font-size="11.5" text-anchor="middle" >20</text>
<text x="594.30" y="371.20" font-size="11.5" text-anchor="middle" >24</text>
<text x="333.60" y="371.30" font-size="11.5" text-anchor="middle" >0</text>
<text x="467.55" y="385.00" font-size="12.1" text-anchor="middle" >Time (h)</text>
<text x="466.80" y="401.40" font-size="12.25" text-anchor="middle" >(d) Solar radiation at a 20 km altitude</text>
<text transform="translate(318.50 295.30) rotate(-90)" font-size="11.6" text-anchor="middle">Days</text>
</g>
</svg></body></html>
